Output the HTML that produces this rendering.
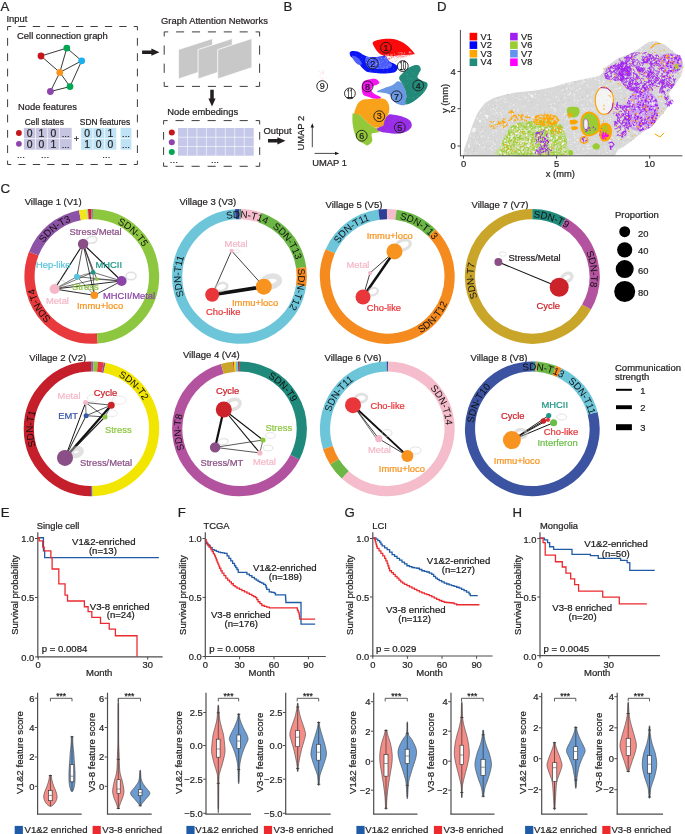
<!DOCTYPE html>
<html><head><meta charset="utf-8"><style>
html,body{margin:0;padding:0;background:#fff;}
svg{display:block;font-family:"Liberation Sans", sans-serif;will-change:transform;}
</style></head><body>
<svg width="685" height="834" viewBox="0 0 685 834">
<rect width="685" height="834" fill="#fff"/>
<text x="0.50" y="10.60" font-size="13.2" fill="#231f20" stroke="#231f20" stroke-width="0.22">A</text>
<text x="6.40" y="22.30" font-size="9.4" fill="#231f20" stroke="#231f20" stroke-width="0.22">Input</text>
<line x1="7.60" y1="26.50" x2="137.40" y2="26.50" stroke="#333" stroke-width="0.95" stroke-dasharray="7.31 7.11" stroke-dashoffset="3.66"/>
<line x1="137.40" y1="26.50" x2="137.40" y2="164.50" stroke="#333" stroke-width="0.95" stroke-dasharray="7.77 7.56" stroke-dashoffset="3.89"/>
<line x1="137.40" y1="164.50" x2="7.60" y2="164.50" stroke="#333" stroke-width="0.95" stroke-dasharray="7.31 7.11" stroke-dashoffset="3.66"/>
<line x1="7.60" y1="164.50" x2="7.60" y2="26.50" stroke="#333" stroke-width="0.95" stroke-dasharray="7.77 7.56" stroke-dashoffset="3.89"/>
<text x="17.10" y="38.50" font-size="9.4" fill="#231f20" stroke="#231f20" stroke-width="0.22">Cell connection graph</text>
<line x1="41.00" y1="56.00" x2="66.80" y2="48.10" stroke="#231f20" stroke-width="0.9"/>
<line x1="41.00" y1="56.00" x2="59.80" y2="72.40" stroke="#231f20" stroke-width="0.9"/>
<line x1="66.80" y1="48.10" x2="59.80" y2="72.40" stroke="#231f20" stroke-width="0.9"/>
<line x1="66.80" y1="48.10" x2="81.70" y2="60.80" stroke="#231f20" stroke-width="0.9"/>
<line x1="81.70" y1="60.80" x2="59.80" y2="72.40" stroke="#231f20" stroke-width="0.9"/>
<line x1="81.70" y1="60.80" x2="70.00" y2="86.60" stroke="#231f20" stroke-width="0.9"/>
<line x1="59.80" y1="72.40" x2="70.00" y2="86.60" stroke="#231f20" stroke-width="0.9"/>
<line x1="59.80" y1="72.40" x2="50.40" y2="91.50" stroke="#231f20" stroke-width="0.9"/>
<line x1="50.40" y1="91.50" x2="70.00" y2="86.60" stroke="#231f20" stroke-width="0.9"/>
<circle cx="41.00" cy="56.00" r="3.40" fill="#c4161c"/>
<circle cx="66.80" cy="48.10" r="3.40" fill="#00a651"/>
<circle cx="81.70" cy="60.80" r="3.40" fill="#1ab0ee"/>
<circle cx="59.80" cy="72.40" r="3.40" fill="#f7941d"/>
<circle cx="70.00" cy="86.60" r="3.40" fill="#00a651"/>
<circle cx="50.40" cy="91.50" r="3.40" fill="#8e44ad"/>
<text x="18.00" y="110.30" font-size="9.4" fill="#231f20" stroke="#231f20" stroke-width="0.22">Node features</text>
<text x="24.80" y="124.50" font-size="8.4" fill="#231f20" stroke="#231f20" stroke-width="0.22">Cell states</text>
<text x="79.80" y="124.50" font-size="8.4" fill="#231f20" stroke="#231f20" stroke-width="0.22">SDN features</text>
<rect x="23.90" y="127.90" width="47.80" height="21.80" fill="#c5c5e2"/>
<line x1="35.50" y1="127.90" x2="35.50" y2="149.70" stroke="#fff" stroke-width="0.7"/>
<line x1="47.30" y1="127.90" x2="47.30" y2="149.70" stroke="#fff" stroke-width="0.7"/>
<line x1="59.35" y1="127.90" x2="59.35" y2="149.70" stroke="#fff" stroke-width="0.7"/>
<line x1="23.90" y1="138.60" x2="71.70" y2="138.60" stroke="#fff" stroke-width="0.7"/>
<rect x="81.20" y="127.90" width="35.10" height="21.80" fill="#bfe3f5"/>
<line x1="92.90" y1="127.90" x2="92.90" y2="149.70" stroke="#fff" stroke-width="0.7"/>
<line x1="104.60" y1="127.90" x2="104.60" y2="149.70" stroke="#fff" stroke-width="0.7"/>
<line x1="81.20" y1="138.60" x2="116.30" y2="138.60" stroke="#fff" stroke-width="0.7"/>
<rect x="120.60" y="127.90" width="10.80" height="21.80" fill="#bfe3f5"/>
<line x1="120.60" y1="138.60" x2="131.40" y2="138.60" stroke="#fff" stroke-width="0.7"/>
<text x="29.70" y="137.00" font-size="10.4" fill="#231f20" stroke="#231f20" stroke-width="0.22" text-anchor="middle">0</text>
<text x="29.70" y="147.90" font-size="10.4" fill="#231f20" stroke="#231f20" stroke-width="0.22" text-anchor="middle">0</text>
<text x="87.05" y="137.00" font-size="10.4" fill="#231f20" stroke="#231f20" stroke-width="0.22" text-anchor="middle">0</text>
<text x="87.05" y="147.90" font-size="10.4" fill="#231f20" stroke="#231f20" stroke-width="0.22" text-anchor="middle">1</text>
<text x="41.40" y="137.00" font-size="10.4" fill="#231f20" stroke="#231f20" stroke-width="0.22" text-anchor="middle">1</text>
<text x="41.40" y="147.90" font-size="10.4" fill="#231f20" stroke="#231f20" stroke-width="0.22" text-anchor="middle">0</text>
<text x="98.75" y="137.00" font-size="10.4" fill="#231f20" stroke="#231f20" stroke-width="0.22" text-anchor="middle">0</text>
<text x="98.75" y="147.90" font-size="10.4" fill="#231f20" stroke="#231f20" stroke-width="0.22" text-anchor="middle">0</text>
<text x="53.30" y="137.00" font-size="10.4" fill="#231f20" stroke="#231f20" stroke-width="0.22" text-anchor="middle">0</text>
<text x="53.30" y="147.90" font-size="10.4" fill="#231f20" stroke="#231f20" stroke-width="0.22" text-anchor="middle">1</text>
<text x="110.45" y="137.00" font-size="10.4" fill="#231f20" stroke="#231f20" stroke-width="0.22" text-anchor="middle">1</text>
<text x="110.45" y="147.90" font-size="10.4" fill="#231f20" stroke="#231f20" stroke-width="0.22" text-anchor="middle">0</text>
<text x="65.70" y="136.90" font-size="9.6" fill="#231f20" stroke="#231f20" stroke-width="0.22" text-anchor="middle">...</text>
<text x="65.70" y="147.80" font-size="9.6" fill="#231f20" stroke="#231f20" stroke-width="0.22" text-anchor="middle">...</text>
<text x="126.00" y="136.90" font-size="9.6" fill="#231f20" stroke="#231f20" stroke-width="0.22" text-anchor="middle">...</text>
<text x="126.00" y="147.80" font-size="9.6" fill="#231f20" stroke="#231f20" stroke-width="0.22" text-anchor="middle">...</text>
<text x="76.40" y="141.80" font-size="9" fill="#231f20" stroke="#231f20" stroke-width="0.22" text-anchor="middle">+</text>
<circle cx="18.90" cy="133.00" r="2.90" fill="#c4161c"/>
<circle cx="18.90" cy="143.80" r="2.90" fill="#8e44ad"/>
<text x="20.90" y="158.00" font-size="9.6" fill="#231f20" stroke="#231f20" stroke-width="0.22" text-anchor="middle">...</text>
<text x="45.10" y="158.00" font-size="9.6" fill="#231f20" stroke="#231f20" stroke-width="0.22" text-anchor="middle">...</text>
<text x="106.30" y="158.00" font-size="9.6" fill="#231f20" stroke="#231f20" stroke-width="0.22" text-anchor="middle">...</text>
<text x="161.00" y="23.90" font-size="9.4" fill="#231f20" stroke="#231f20" stroke-width="0.22">Graph Attention Networks</text>
<line x1="164.20" y1="31.90" x2="259.60" y2="31.90" stroke="#333" stroke-width="0.95" stroke-dasharray="8.06 7.84" stroke-dashoffset="4.03"/>
<line x1="259.60" y1="31.90" x2="259.60" y2="86.40" stroke="#333" stroke-width="0.95" stroke-dasharray="9.21 8.96" stroke-dashoffset="4.61"/>
<line x1="259.60" y1="86.40" x2="164.20" y2="86.40" stroke="#333" stroke-width="0.95" stroke-dasharray="8.06 7.84" stroke-dashoffset="4.03"/>
<line x1="164.20" y1="86.40" x2="164.20" y2="31.90" stroke="#333" stroke-width="0.95" stroke-dasharray="9.21 8.96" stroke-dashoffset="4.61"/>
<path d="M178.40,79.00 L178.40,49.60 L212.60,38.50 L212.60,67.60 Z" fill="#c8c8c8" stroke="#fff" stroke-width="0.8"/>
<path d="M198.05,79.00 L198.05,49.60 L232.25,38.50 L232.25,67.60 Z" fill="#c8c8c8" stroke="#fff" stroke-width="0.8"/>
<path d="M217.70,79.00 L217.70,49.60 L251.90,38.50 L251.90,67.60 Z" fill="#c8c8c8" stroke="#fff" stroke-width="0.8"/>
<path d="M142.10,50.45 L151.40,50.45 L151.40,48.60 L159.50,52.20 L151.40,55.80 L151.40,53.95 L142.10,53.95 Z" fill="#231f20"/>
<path d="M210.25,89.80 L210.25,98.40 L208.40,98.40 L212.00,106.50 L215.60,98.40 L213.75,98.40 L213.75,89.80 Z" fill="#231f20"/>
<text x="167.20" y="114.80" font-size="9.4" fill="#231f20" stroke="#231f20" stroke-width="0.22">Node embedings</text>
<line x1="163.60" y1="120.60" x2="259.70" y2="120.60" stroke="#333" stroke-width="0.95" stroke-dasharray="8.12 7.90" stroke-dashoffset="4.06"/>
<line x1="259.70" y1="120.60" x2="259.70" y2="166.30" stroke="#333" stroke-width="0.95" stroke-dasharray="7.72 7.51" stroke-dashoffset="3.86"/>
<line x1="259.70" y1="166.30" x2="163.60" y2="166.30" stroke="#333" stroke-width="0.95" stroke-dasharray="8.12 7.90" stroke-dashoffset="4.06"/>
<line x1="163.60" y1="166.30" x2="163.60" y2="120.60" stroke="#333" stroke-width="0.95" stroke-dasharray="7.72 7.51" stroke-dashoffset="3.86"/>
<rect x="178.00" y="128.00" width="75.70" height="27.70" fill="#c5c8e8"/>
<line x1="187.46" y1="128.00" x2="187.46" y2="155.70" stroke="#fff" stroke-width="0.6"/>
<line x1="196.93" y1="128.00" x2="196.93" y2="155.70" stroke="#fff" stroke-width="0.6"/>
<line x1="206.39" y1="128.00" x2="206.39" y2="155.70" stroke="#fff" stroke-width="0.6"/>
<line x1="215.85" y1="128.00" x2="215.85" y2="155.70" stroke="#fff" stroke-width="0.6"/>
<line x1="225.31" y1="128.00" x2="225.31" y2="155.70" stroke="#fff" stroke-width="0.6"/>
<line x1="234.77" y1="128.00" x2="234.77" y2="155.70" stroke="#fff" stroke-width="0.6"/>
<line x1="244.24" y1="128.00" x2="244.24" y2="155.70" stroke="#fff" stroke-width="0.6"/>
<line x1="178.00" y1="137.23" x2="253.70" y2="137.23" stroke="#fff" stroke-width="0.6"/>
<line x1="178.00" y1="146.47" x2="253.70" y2="146.47" stroke="#fff" stroke-width="0.6"/>
<circle cx="171.80" cy="132.60" r="3.00" fill="#c4161c"/>
<circle cx="171.80" cy="142.20" r="3.00" fill="#8e44ad"/>
<circle cx="171.80" cy="151.90" r="3.00" fill="#00a651"/>
<text x="173.80" y="162.50" font-size="9.6" fill="#231f20" stroke="#231f20" stroke-width="0.22" text-anchor="middle">...</text>
<text x="215.00" y="162.50" font-size="9.6" fill="#231f20" stroke="#231f20" stroke-width="0.22" text-anchor="middle">...</text>
<text x="263.50" y="134.20" font-size="9.4" fill="#231f20" stroke="#231f20" stroke-width="0.22">Output</text>
<path d="M268.00,139.05 L277.40,139.05 L277.40,137.20 L285.50,140.80 L277.40,144.40 L277.40,142.55 L268.00,142.55 Z" fill="#231f20"/>
<text x="283.60" y="10.60" font-size="13.2" fill="#231f20" stroke="#231f20" stroke-width="0.22">B</text>
<circle cx="387.18" cy="55.21" r="0.35" fill="#f39a9a"/>
<circle cx="392.41" cy="54.58" r="0.35" fill="#f39a9a"/>
<circle cx="390.57" cy="56.93" r="0.35" fill="#f39a9a"/>
<circle cx="382.93" cy="58.06" r="0.35" fill="#f39a9a"/>
<circle cx="382.60" cy="57.47" r="0.35" fill="#f39a9a"/>
<circle cx="383.12" cy="54.73" r="0.35" fill="#f39a9a"/>
<circle cx="388.79" cy="60.61" r="0.35" fill="#f39a9a"/>
<circle cx="383.98" cy="55.79" r="0.35" fill="#f39a9a"/>
<circle cx="392.04" cy="61.58" r="0.35" fill="#f39a9a"/>
<circle cx="391.23" cy="57.17" r="0.35" fill="#f39a9a"/>
<circle cx="397.62" cy="54.37" r="0.35" fill="#f39a9a"/>
<circle cx="395.74" cy="56.32" r="0.35" fill="#f39a9a"/>
<circle cx="384.31" cy="54.94" r="0.35" fill="#f39a9a"/>
<circle cx="386.94" cy="60.53" r="0.35" fill="#f39a9a"/>
<circle cx="384.89" cy="58.65" r="0.35" fill="#f39a9a"/>
<circle cx="392.22" cy="56.98" r="0.35" fill="#f39a9a"/>
<circle cx="390.76" cy="54.50" r="0.35" fill="#f39a9a"/>
<circle cx="382.95" cy="55.65" r="0.35" fill="#f39a9a"/>
<circle cx="392.89" cy="57.42" r="0.35" fill="#f39a9a"/>
<circle cx="387.03" cy="58.68" r="0.35" fill="#f39a9a"/>
<circle cx="389.25" cy="56.40" r="0.35" fill="#f39a9a"/>
<circle cx="394.71" cy="59.59" r="0.35" fill="#f39a9a"/>
<circle cx="385.91" cy="58.60" r="0.35" fill="#f39a9a"/>
<circle cx="390.40" cy="61.00" r="0.35" fill="#f39a9a"/>
<circle cx="393.67" cy="56.30" r="0.35" fill="#f39a9a"/>
<circle cx="397.68" cy="54.94" r="0.35" fill="#f39a9a"/>
<circle cx="388.69" cy="60.06" r="0.35" fill="#f39a9a"/>
<circle cx="384.43" cy="57.91" r="0.35" fill="#f39a9a"/>
<circle cx="382.63" cy="59.35" r="0.35" fill="#f39a9a"/>
<circle cx="394.23" cy="58.58" r="0.35" fill="#f39a9a"/>
<circle cx="396.01" cy="56.51" r="0.35" fill="#f39a9a"/>
<circle cx="393.12" cy="58.75" r="0.35" fill="#f39a9a"/>
<circle cx="391.28" cy="57.65" r="0.35" fill="#f39a9a"/>
<circle cx="395.44" cy="61.56" r="0.35" fill="#f39a9a"/>
<circle cx="389.59" cy="59.31" r="0.35" fill="#f39a9a"/>
<circle cx="382.97" cy="59.61" r="0.35" fill="#f39a9a"/>
<circle cx="392.35" cy="61.94" r="0.35" fill="#f39a9a"/>
<circle cx="395.15" cy="56.28" r="0.35" fill="#f39a9a"/>
<circle cx="388.17" cy="59.35" r="0.35" fill="#f39a9a"/>
<circle cx="382.36" cy="57.69" r="0.35" fill="#f39a9a"/>
<circle cx="384.69" cy="54.94" r="0.35" fill="#f39a9a"/>
<circle cx="382.94" cy="60.15" r="0.35" fill="#f39a9a"/>
<circle cx="384.07" cy="55.98" r="0.35" fill="#f39a9a"/>
<circle cx="388.26" cy="60.97" r="0.35" fill="#f39a9a"/>
<circle cx="383.29" cy="57.59" r="0.35" fill="#f39a9a"/>
<circle cx="390.79" cy="61.07" r="0.35" fill="#f39a9a"/>
<circle cx="395.11" cy="60.91" r="0.35" fill="#f39a9a"/>
<circle cx="386.45" cy="57.32" r="0.35" fill="#f39a9a"/>
<circle cx="387.74" cy="61.07" r="0.35" fill="#f39a9a"/>
<circle cx="397.32" cy="55.21" r="0.35" fill="#f39a9a"/>
<circle cx="384.82" cy="55.86" r="0.35" fill="#f39a9a"/>
<circle cx="385.73" cy="57.88" r="0.35" fill="#f39a9a"/>
<circle cx="391.43" cy="56.10" r="0.35" fill="#f39a9a"/>
<circle cx="382.07" cy="57.35" r="0.35" fill="#f39a9a"/>
<circle cx="387.91" cy="58.53" r="0.35" fill="#f39a9a"/>
<circle cx="397.25" cy="59.52" r="0.35" fill="#f39a9a"/>
<circle cx="390.25" cy="58.94" r="0.35" fill="#f39a9a"/>
<circle cx="392.82" cy="54.43" r="0.35" fill="#f39a9a"/>
<circle cx="396.39" cy="60.24" r="0.35" fill="#f39a9a"/>
<circle cx="395.99" cy="60.38" r="0.35" fill="#f39a9a"/>
<circle cx="319.77" cy="71.45" r="0.30" fill="#f5b5c5"/>
<circle cx="322.89" cy="78.88" r="0.30" fill="#f5b5c5"/>
<circle cx="322.26" cy="72.92" r="0.30" fill="#f5b5c5"/>
<circle cx="321.81" cy="72.27" r="0.30" fill="#f5b5c5"/>
<circle cx="321.11" cy="70.00" r="0.30" fill="#f5b5c5"/>
<circle cx="322.11" cy="72.12" r="0.30" fill="#f5b5c5"/>
<circle cx="323.18" cy="70.36" r="0.30" fill="#f5b5c5"/>
<circle cx="322.74" cy="82.24" r="0.30" fill="#f5b5c5"/>
<circle cx="320.56" cy="73.53" r="0.30" fill="#f5b5c5"/>
<circle cx="320.68" cy="74.86" r="0.30" fill="#f5b5c5"/>
<circle cx="320.76" cy="81.89" r="0.30" fill="#f5b5c5"/>
<circle cx="322.35" cy="83.90" r="0.30" fill="#f5b5c5"/>
<circle cx="319.03" cy="71.20" r="0.30" fill="#f5b5c5"/>
<circle cx="322.04" cy="71.43" r="0.30" fill="#f5b5c5"/>
<circle cx="320.55" cy="81.60" r="0.30" fill="#f5b5c5"/>
<circle cx="322.94" cy="72.26" r="0.30" fill="#f5b5c5"/>
<circle cx="326.85" cy="77.40" r="0.30" fill="#f5b5c5"/>
<circle cx="322.28" cy="72.05" r="0.30" fill="#f5b5c5"/>
<circle cx="321.00" cy="77.39" r="0.30" fill="#f5b5c5"/>
<circle cx="321.36" cy="83.70" r="0.30" fill="#f5b5c5"/>
<circle cx="323.72" cy="73.66" r="0.30" fill="#f5b5c5"/>
<circle cx="318.93" cy="75.13" r="0.30" fill="#f5b5c5"/>
<circle cx="323.38" cy="77.46" r="0.30" fill="#f5b5c5"/>
<circle cx="324.78" cy="80.91" r="0.30" fill="#f5b5c5"/>
<circle cx="320.75" cy="81.36" r="0.30" fill="#f5b5c5"/>
<circle cx="322.87" cy="83.79" r="0.30" fill="#f5b5c5"/>
<circle cx="323.90" cy="81.46" r="0.30" fill="#f5b5c5"/>
<circle cx="318.32" cy="80.36" r="0.30" fill="#f5b5c5"/>
<circle cx="321.89" cy="74.98" r="0.30" fill="#f5b5c5"/>
<circle cx="324.13" cy="70.41" r="0.30" fill="#f5b5c5"/>
<circle cx="323.25" cy="73.63" r="0.30" fill="#f5b5c5"/>
<circle cx="321.81" cy="79.70" r="0.30" fill="#f5b5c5"/>
<circle cx="323.81" cy="83.12" r="0.30" fill="#f5b5c5"/>
<circle cx="320.85" cy="83.83" r="0.30" fill="#f5b5c5"/>
<circle cx="323.51" cy="73.09" r="0.30" fill="#f5b5c5"/>
<circle cx="320.92" cy="73.18" r="0.30" fill="#f5b5c5"/>
<circle cx="321.99" cy="78.74" r="0.30" fill="#f5b5c5"/>
<circle cx="322.91" cy="82.60" r="0.30" fill="#f5b5c5"/>
<circle cx="322.85" cy="79.14" r="0.30" fill="#f5b5c5"/>
<circle cx="319.38" cy="81.20" r="0.30" fill="#f5b5c5"/>
<path d="M349.90,52.30 C350.33,51.42 351.68,51.10 353.10,51.00 C354.52,50.90 356.65,51.03 358.40,51.70 C360.15,52.37 361.85,54.13 363.60,55.00 C365.35,55.87 366.70,56.58 368.90,56.90 C371.10,57.22 374.62,57.00 376.80,56.90 C378.98,56.80 380.58,56.52 382.00,56.30 C383.42,56.08 384.20,54.83 385.30,55.60 C386.40,56.37 387.17,59.58 388.60,60.90 C390.03,62.22 392.37,62.52 393.90,63.50 C395.43,64.48 397.37,65.60 397.80,66.80 C398.23,68.00 397.37,69.72 396.50,70.70 C395.63,71.68 394.78,72.25 392.60,72.70 C390.42,73.15 386.70,73.40 383.40,73.40 C380.10,73.40 375.65,73.03 372.80,72.70 C369.95,72.37 368.05,72.17 366.30,71.40 C364.55,70.63 363.40,69.20 362.30,68.10 C361.20,67.00 361.00,66.22 359.70,64.80 C358.40,63.38 356.03,61.02 354.50,59.60 C352.97,58.18 351.27,57.52 350.50,56.30 C349.73,55.08 349.47,53.18 349.90,52.30 Z" fill="#0a14f5"/>
<path d="M372.60,43.10 C372.70,41.68 374.30,41.20 376.10,40.50 C377.90,39.80 380.65,39.17 383.40,38.90 C386.15,38.63 389.77,38.52 392.60,38.90 C395.43,39.28 397.78,39.95 400.40,41.20 C403.02,42.45 406.00,44.43 408.30,46.40 C410.60,48.37 413.32,51.68 414.20,53.00 C415.08,54.32 415.02,53.97 413.60,54.30 C412.18,54.63 408.33,54.78 405.70,55.00 C403.07,55.22 400.22,55.38 397.80,55.60 C395.38,55.82 393.17,56.30 391.20,56.30 C389.23,56.30 387.53,55.82 386.00,55.60 C384.47,55.38 383.20,55.43 382.00,55.00 C380.80,54.57 379.88,54.00 378.80,53.00 C377.72,52.00 376.53,50.65 375.50,49.00 C374.47,47.35 372.50,44.52 372.60,43.10 Z" fill="#fa0a0a"/>
<path d="M353.10,113.40 C354.30,113.18 357.93,113.83 359.70,114.70 C361.47,115.57 362.38,117.28 363.70,118.60 C365.02,119.92 366.08,121.28 367.60,122.60 C369.12,123.92 371.05,125.42 372.80,126.50 C374.55,127.58 377.00,128.22 378.10,129.10 C379.20,129.98 380.05,131.13 379.40,131.80 C378.75,132.47 375.52,132.67 374.20,133.10 C372.88,133.53 371.83,133.08 371.50,134.40 C371.17,135.72 372.85,139.15 372.20,141.00 C371.55,142.85 369.02,145.07 367.60,145.50 C366.18,145.93 365.23,144.47 363.70,143.60 C362.17,142.73 359.93,142.05 358.40,140.30 C356.87,138.55 355.48,136.05 354.50,133.10 C353.52,130.15 352.83,125.45 352.50,122.60 C352.17,119.75 352.40,117.53 352.50,116.00 C352.60,114.47 351.90,113.62 353.10,113.40 Z" fill="#93c83a"/>
<path d="M355.80,108.10 C356.45,106.33 357.08,104.22 358.40,102.80 C359.72,101.38 361.52,100.25 363.70,99.60 C365.88,98.95 368.88,99.13 371.50,98.90 C374.12,98.67 377.10,98.08 379.40,98.20 C381.70,98.32 383.77,98.60 385.30,99.60 C386.83,100.60 387.93,102.57 388.60,104.20 C389.27,105.83 389.40,107.65 389.30,109.40 C389.20,111.15 388.67,112.95 388.00,114.70 C387.33,116.45 386.07,118.15 385.30,119.90 C384.53,121.65 384.60,123.88 383.40,125.20 C382.20,126.52 379.87,127.58 378.10,127.80 C376.33,128.02 374.55,127.37 372.80,126.50 C371.05,125.63 369.12,123.92 367.60,122.60 C366.08,121.28 365.02,119.92 363.70,118.60 C362.38,117.28 361.23,115.57 359.70,114.70 C358.17,113.83 355.15,114.50 354.50,113.40 C353.85,112.30 355.15,109.87 355.80,108.10 Z" fill="#f8a21a"/>
<path d="M384.70,119.90 C385.57,118.15 387.07,115.57 388.60,114.70 C390.13,113.83 391.93,114.48 393.90,114.70 C395.87,114.92 398.22,115.35 400.40,116.00 C402.58,116.65 405.25,117.62 407.00,118.60 C408.75,119.58 410.13,120.58 410.90,121.90 C411.67,123.22 412.03,125.08 411.60,126.50 C411.17,127.92 409.93,129.30 408.30,130.40 C406.67,131.50 403.98,132.55 401.80,133.10 C399.62,133.65 397.40,133.70 395.20,133.70 C393.00,133.70 391.02,133.42 388.60,133.10 C386.18,132.78 382.67,132.47 380.70,131.80 C378.73,131.13 377.02,129.87 376.80,129.10 C376.58,128.33 378.30,127.85 379.40,127.20 C380.50,126.55 382.52,126.42 383.40,125.20 C384.28,123.98 383.83,121.65 384.70,119.90 Z" fill="#9a2ee8"/>
<path d="M363.70,81.20 C365.02,80.32 368.13,79.53 370.20,79.20 C372.27,78.87 374.57,78.65 376.10,79.20 C377.63,79.75 379.18,81.62 379.40,82.50 C379.62,83.38 378.50,83.85 377.40,84.50 C376.30,85.15 373.78,85.42 372.80,86.40 C371.82,87.38 371.27,89.18 371.50,90.40 C371.73,91.62 372.88,92.72 374.20,93.70 C375.52,94.68 378.32,95.55 379.40,96.30 C380.48,97.05 381.57,97.82 380.70,98.20 C379.83,98.58 376.17,98.82 374.20,98.60 C372.23,98.38 370.65,97.50 368.90,96.90 C367.15,96.30 364.90,96.20 363.70,95.00 C362.50,93.80 361.93,91.45 361.70,89.70 C361.47,87.95 361.97,85.92 362.30,84.50 C362.63,83.08 362.38,82.08 363.70,81.20 Z" fill="#f514f0"/>
<path d="M377.40,91.00 C378.28,90.35 380.87,89.38 383.40,88.40 C385.93,87.42 390.20,86.30 392.60,85.10 C395.00,83.90 396.27,81.53 397.80,81.20 C399.33,80.87 400.60,81.68 401.80,83.10 C403.00,84.52 404.23,87.50 405.00,89.70 C405.77,91.90 406.28,93.88 406.40,96.30 C406.52,98.72 406.47,102.72 405.70,104.20 C404.93,105.68 403.33,105.32 401.80,105.20 C400.27,105.08 398.03,104.33 396.50,103.50 C394.97,102.67 393.70,101.62 392.60,100.20 C391.50,98.78 391.22,96.20 389.90,95.00 C388.58,93.80 386.67,93.45 384.70,93.00 C382.73,92.55 379.32,92.63 378.10,92.30 C376.88,91.97 376.52,91.65 377.40,91.00 Z" fill="#6b98e4"/>
<path d="M401.80,73.90 C403.33,72.27 406.33,69.50 408.30,68.10 C410.27,66.70 411.85,65.93 413.60,65.50 C415.35,65.07 417.60,64.85 418.80,65.50 C420.00,66.15 420.80,68.08 420.80,69.40 C420.80,70.72 419.35,72.08 418.80,73.40 C418.25,74.72 417.05,76.10 417.50,77.30 C417.95,78.50 419.97,79.72 421.50,80.60 C423.03,81.48 425.72,81.62 426.70,82.60 C427.68,83.58 427.83,84.88 427.40,86.50 C426.97,88.12 425.53,90.45 424.10,92.30 C422.67,94.15 420.77,95.95 418.80,97.60 C416.83,99.25 414.48,101.10 412.30,102.20 C410.12,103.30 406.68,105.18 405.70,104.20 C404.72,103.22 406.52,98.72 406.40,96.30 C406.28,93.88 405.77,91.90 405.00,89.70 C404.23,87.50 402.78,85.07 401.80,83.10 C400.82,81.13 399.10,79.43 399.10,77.90 C399.10,76.37 400.27,75.53 401.80,73.90 Z" fill="#238a7a"/>
<circle cx="393.48" cy="68.52" r="0.35" fill="#8a8cff" opacity="0.6"/>
<circle cx="385.83" cy="61.71" r="0.35" fill="#8a8cff" opacity="0.6"/>
<circle cx="365.83" cy="68.94" r="0.35" fill="#8a8cff" opacity="0.6"/>
<circle cx="355.99" cy="54.39" r="0.35" fill="#8a8cff" opacity="0.6"/>
<circle cx="393.24" cy="69.07" r="0.35" fill="#8a8cff" opacity="0.6"/>
<circle cx="366.68" cy="63.29" r="0.35" fill="#8a8cff" opacity="0.6"/>
<circle cx="375.12" cy="71.91" r="0.35" fill="#8a8cff" opacity="0.6"/>
<circle cx="370.68" cy="70.53" r="0.35" fill="#8a8cff" opacity="0.6"/>
<circle cx="361.96" cy="57.56" r="0.35" fill="#8a8cff" opacity="0.6"/>
<circle cx="361.42" cy="64.14" r="0.35" fill="#8a8cff" opacity="0.6"/>
<circle cx="362.32" cy="60.39" r="0.35" fill="#8a8cff" opacity="0.6"/>
<circle cx="366.85" cy="61.26" r="0.35" fill="#8a8cff" opacity="0.6"/>
<circle cx="377.84" cy="71.26" r="0.35" fill="#8a8cff" opacity="0.6"/>
<circle cx="370.05" cy="71.56" r="0.35" fill="#8a8cff" opacity="0.6"/>
<circle cx="373.93" cy="62.91" r="0.35" fill="#8a8cff" opacity="0.6"/>
<circle cx="358.16" cy="61.61" r="0.35" fill="#8a8cff" opacity="0.6"/>
<circle cx="384.64" cy="63.47" r="0.35" fill="#8a8cff" opacity="0.6"/>
<circle cx="365.51" cy="62.61" r="0.35" fill="#8a8cff" opacity="0.6"/>
<circle cx="376.51" cy="68.57" r="0.35" fill="#8a8cff" opacity="0.6"/>
<circle cx="361.80" cy="57.20" r="0.35" fill="#8a8cff" opacity="0.6"/>
<circle cx="386.89" cy="62.37" r="0.35" fill="#8a8cff" opacity="0.6"/>
<circle cx="376.81" cy="68.02" r="0.35" fill="#8a8cff" opacity="0.6"/>
<circle cx="379.24" cy="62.32" r="0.35" fill="#8a8cff" opacity="0.6"/>
<circle cx="374.43" cy="66.52" r="0.35" fill="#8a8cff" opacity="0.6"/>
<circle cx="371.57" cy="62.95" r="0.35" fill="#8a8cff" opacity="0.6"/>
<circle cx="372.80" cy="72.09" r="0.35" fill="#8a8cff" opacity="0.6"/>
<circle cx="383.39" cy="70.63" r="0.35" fill="#8a8cff" opacity="0.6"/>
<circle cx="376.70" cy="72.13" r="0.35" fill="#8a8cff" opacity="0.6"/>
<circle cx="353.37" cy="56.39" r="0.35" fill="#8a8cff" opacity="0.6"/>
<circle cx="387.45" cy="71.09" r="0.35" fill="#8a8cff" opacity="0.6"/>
<circle cx="392.19" cy="72.67" r="0.35" fill="#8a8cff" opacity="0.6"/>
<circle cx="368.98" cy="61.91" r="0.35" fill="#8a8cff" opacity="0.6"/>
<circle cx="357.63" cy="60.67" r="0.35" fill="#8a8cff" opacity="0.6"/>
<circle cx="374.60" cy="58.60" r="0.35" fill="#8a8cff" opacity="0.6"/>
<circle cx="359.28" cy="58.13" r="0.35" fill="#8a8cff" opacity="0.6"/>
<circle cx="376.44" cy="60.87" r="0.35" fill="#8a8cff" opacity="0.6"/>
<circle cx="379.79" cy="62.47" r="0.35" fill="#8a8cff" opacity="0.6"/>
<circle cx="387.66" cy="72.77" r="0.35" fill="#8a8cff" opacity="0.6"/>
<circle cx="354.92" cy="56.95" r="0.35" fill="#8a8cff" opacity="0.6"/>
<circle cx="370.13" cy="71.42" r="0.35" fill="#8a8cff" opacity="0.6"/>
<circle cx="415.25" cy="92.61" r="0.35" fill="#9fd0c6" opacity="0.6"/>
<circle cx="418.58" cy="81.96" r="0.35" fill="#9fd0c6" opacity="0.6"/>
<circle cx="417.05" cy="96.52" r="0.35" fill="#9fd0c6" opacity="0.6"/>
<circle cx="411.94" cy="78.63" r="0.35" fill="#9fd0c6" opacity="0.6"/>
<circle cx="406.68" cy="70.50" r="0.35" fill="#9fd0c6" opacity="0.6"/>
<circle cx="414.01" cy="74.73" r="0.35" fill="#9fd0c6" opacity="0.6"/>
<circle cx="407.93" cy="77.30" r="0.35" fill="#9fd0c6" opacity="0.6"/>
<circle cx="413.25" cy="72.38" r="0.35" fill="#9fd0c6" opacity="0.6"/>
<circle cx="419.85" cy="86.83" r="0.35" fill="#9fd0c6" opacity="0.6"/>
<circle cx="404.46" cy="83.87" r="0.35" fill="#9fd0c6" opacity="0.6"/>
<circle cx="422.28" cy="82.23" r="0.35" fill="#9fd0c6" opacity="0.6"/>
<circle cx="413.11" cy="97.80" r="0.35" fill="#9fd0c6" opacity="0.6"/>
<circle cx="410.22" cy="85.11" r="0.35" fill="#9fd0c6" opacity="0.6"/>
<circle cx="408.80" cy="97.71" r="0.35" fill="#9fd0c6" opacity="0.6"/>
<circle cx="419.10" cy="90.11" r="0.35" fill="#9fd0c6" opacity="0.6"/>
<circle cx="410.55" cy="78.95" r="0.35" fill="#9fd0c6" opacity="0.6"/>
<circle cx="406.33" cy="71.82" r="0.35" fill="#9fd0c6" opacity="0.6"/>
<circle cx="423.74" cy="91.45" r="0.35" fill="#9fd0c6" opacity="0.6"/>
<circle cx="407.08" cy="74.87" r="0.35" fill="#9fd0c6" opacity="0.6"/>
<circle cx="407.39" cy="83.28" r="0.35" fill="#9fd0c6" opacity="0.6"/>
<circle cx="403.56" cy="82.75" r="0.35" fill="#9fd0c6" opacity="0.6"/>
<circle cx="406.55" cy="102.72" r="0.35" fill="#9fd0c6" opacity="0.6"/>
<circle cx="426.63" cy="86.67" r="0.35" fill="#9fd0c6" opacity="0.6"/>
<circle cx="406.02" cy="102.87" r="0.35" fill="#9fd0c6" opacity="0.6"/>
<circle cx="407.86" cy="79.30" r="0.35" fill="#9fd0c6" opacity="0.6"/>
<circle cx="412.53" cy="84.96" r="0.35" fill="#9fd0c6" opacity="0.6"/>
<circle cx="404.79" cy="85.03" r="0.35" fill="#9fd0c6" opacity="0.6"/>
<circle cx="401.64" cy="80.96" r="0.35" fill="#9fd0c6" opacity="0.6"/>
<circle cx="407.71" cy="74.51" r="0.35" fill="#9fd0c6" opacity="0.6"/>
<circle cx="415.67" cy="85.98" r="0.35" fill="#9fd0c6" opacity="0.6"/>
<circle cx="420.34" cy="90.95" r="0.35" fill="#9fd0c6" opacity="0.6"/>
<circle cx="410.12" cy="78.12" r="0.35" fill="#9fd0c6" opacity="0.6"/>
<circle cx="419.59" cy="90.39" r="0.35" fill="#9fd0c6" opacity="0.6"/>
<circle cx="424.34" cy="89.78" r="0.35" fill="#9fd0c6" opacity="0.6"/>
<circle cx="413.37" cy="97.81" r="0.35" fill="#9fd0c6" opacity="0.6"/>
<circle cx="374.83" cy="124.63" r="0.35" fill="#f0c070" opacity="0.6"/>
<circle cx="378.26" cy="118.72" r="0.35" fill="#f0c070" opacity="0.6"/>
<circle cx="359.13" cy="108.88" r="0.35" fill="#f0c070" opacity="0.6"/>
<circle cx="373.94" cy="116.78" r="0.35" fill="#f0c070" opacity="0.6"/>
<circle cx="376.29" cy="118.35" r="0.35" fill="#f0c070" opacity="0.6"/>
<circle cx="382.26" cy="120.35" r="0.35" fill="#f0c070" opacity="0.6"/>
<circle cx="372.00" cy="114.04" r="0.35" fill="#f0c070" opacity="0.6"/>
<circle cx="377.44" cy="100.16" r="0.35" fill="#f0c070" opacity="0.6"/>
<circle cx="380.14" cy="105.66" r="0.35" fill="#f0c070" opacity="0.6"/>
<circle cx="357.09" cy="106.06" r="0.35" fill="#f0c070" opacity="0.6"/>
<circle cx="379.88" cy="104.27" r="0.35" fill="#f0c070" opacity="0.6"/>
<circle cx="371.69" cy="109.52" r="0.35" fill="#f0c070" opacity="0.6"/>
<circle cx="371.17" cy="118.44" r="0.35" fill="#f0c070" opacity="0.6"/>
<circle cx="381.19" cy="116.46" r="0.35" fill="#f0c070" opacity="0.6"/>
<circle cx="376.87" cy="100.49" r="0.35" fill="#f0c070" opacity="0.6"/>
<circle cx="359.63" cy="105.72" r="0.35" fill="#f0c070" opacity="0.6"/>
<circle cx="380.36" cy="107.21" r="0.35" fill="#f0c070" opacity="0.6"/>
<circle cx="377.89" cy="118.69" r="0.35" fill="#f0c070" opacity="0.6"/>
<circle cx="378.01" cy="106.81" r="0.35" fill="#f0c070" opacity="0.6"/>
<circle cx="372.48" cy="111.95" r="0.35" fill="#f0c070" opacity="0.6"/>
<circle cx="370.73" cy="101.71" r="0.35" fill="#f0c070" opacity="0.6"/>
<circle cx="385.60" cy="104.10" r="0.35" fill="#f0c070" opacity="0.6"/>
<circle cx="355.11" cy="111.79" r="0.35" fill="#f0c070" opacity="0.6"/>
<circle cx="370.14" cy="106.15" r="0.35" fill="#f0c070" opacity="0.6"/>
<circle cx="361.83" cy="115.41" r="0.35" fill="#f0c070" opacity="0.6"/>
<circle cx="359.43" cy="113.71" r="0.35" fill="#f0c070" opacity="0.6"/>
<circle cx="383.04" cy="113.26" r="0.35" fill="#f0c070" opacity="0.6"/>
<circle cx="385.36" cy="119.02" r="0.35" fill="#f0c070" opacity="0.6"/>
<circle cx="371.42" cy="98.94" r="0.35" fill="#f0c070" opacity="0.6"/>
<circle cx="392.49" cy="120.44" r="0.35" fill="#c08af0" opacity="0.6"/>
<circle cx="387.80" cy="130.66" r="0.35" fill="#c08af0" opacity="0.6"/>
<circle cx="409.04" cy="128.25" r="0.35" fill="#c08af0" opacity="0.6"/>
<circle cx="408.17" cy="120.21" r="0.35" fill="#c08af0" opacity="0.6"/>
<circle cx="389.75" cy="122.17" r="0.35" fill="#c08af0" opacity="0.6"/>
<circle cx="389.35" cy="122.83" r="0.35" fill="#c08af0" opacity="0.6"/>
<circle cx="380.34" cy="130.56" r="0.35" fill="#c08af0" opacity="0.6"/>
<circle cx="386.74" cy="132.48" r="0.35" fill="#c08af0" opacity="0.6"/>
<circle cx="385.48" cy="119.75" r="0.35" fill="#c08af0" opacity="0.6"/>
<circle cx="394.58" cy="118.31" r="0.35" fill="#c08af0" opacity="0.6"/>
<circle cx="389.79" cy="132.87" r="0.35" fill="#c08af0" opacity="0.6"/>
<circle cx="407.57" cy="130.13" r="0.35" fill="#c08af0" opacity="0.6"/>
<circle cx="398.76" cy="132.06" r="0.35" fill="#c08af0" opacity="0.6"/>
<circle cx="409.54" cy="125.14" r="0.35" fill="#c08af0" opacity="0.6"/>
<circle cx="402.29" cy="123.27" r="0.35" fill="#c08af0" opacity="0.6"/>
<circle cx="402.99" cy="126.95" r="0.35" fill="#c08af0" opacity="0.6"/>
<circle cx="393.23" cy="121.23" r="0.35" fill="#c08af0" opacity="0.6"/>
<circle cx="387.16" cy="128.74" r="0.35" fill="#c08af0" opacity="0.6"/>
<circle cx="399.63" cy="120.42" r="0.35" fill="#c08af0" opacity="0.6"/>
<circle cx="396.19" cy="122.19" r="0.35" fill="#c08af0" opacity="0.6"/>
<path d="M366.00,57.50 C367.50,56.42 372.17,57.67 375.00,57.50 C377.83,57.33 381.17,56.58 383.00,56.50 C384.83,56.42 385.00,56.17 386.00,57.00 C387.00,57.83 388.00,60.25 389.00,61.50 C390.00,62.75 391.83,63.42 392.00,64.50 C392.17,65.58 392.00,67.25 390.00,68.00 C388.00,68.75 383.33,68.92 380.00,69.00 C376.67,69.08 372.33,69.33 370.00,68.50 C367.67,67.67 366.67,65.83 366.00,64.00 C365.33,62.17 364.50,58.58 366.00,57.50 Z" fill="#4a5cfb"/>
<circle cx="369.52" cy="58.10" r="0.45" fill="#9aa4ff"/>
<circle cx="378.52" cy="66.55" r="0.45" fill="#2030ff"/>
<circle cx="370.94" cy="67.78" r="0.45" fill="#c0c6ff"/>
<circle cx="376.54" cy="63.12" r="0.45" fill="#9aa4ff"/>
<circle cx="367.45" cy="60.45" r="0.45" fill="#9aa4ff"/>
<circle cx="373.62" cy="60.79" r="0.45" fill="#2030ff"/>
<circle cx="388.51" cy="60.98" r="0.45" fill="#2030ff"/>
<circle cx="379.15" cy="60.90" r="0.45" fill="#c0c6ff"/>
<circle cx="385.31" cy="62.48" r="0.45" fill="#2030ff"/>
<circle cx="378.59" cy="64.19" r="0.45" fill="#9aa4ff"/>
<circle cx="375.38" cy="64.40" r="0.45" fill="#c0c6ff"/>
<circle cx="389.18" cy="62.15" r="0.45" fill="#2030ff"/>
<circle cx="379.25" cy="62.09" r="0.45" fill="#c0c6ff"/>
<circle cx="369.17" cy="62.79" r="0.45" fill="#2030ff"/>
<circle cx="383.93" cy="67.00" r="0.45" fill="#c0c6ff"/>
<circle cx="384.31" cy="68.51" r="0.45" fill="#2030ff"/>
<circle cx="371.80" cy="64.27" r="0.45" fill="#2030ff"/>
<circle cx="385.62" cy="57.29" r="0.45" fill="#c0c6ff"/>
<circle cx="379.16" cy="63.58" r="0.45" fill="#c0c6ff"/>
<circle cx="372.04" cy="66.28" r="0.45" fill="#9aa4ff"/>
<circle cx="377.44" cy="68.47" r="0.45" fill="#2030ff"/>
<circle cx="379.21" cy="63.11" r="0.45" fill="#9aa4ff"/>
<circle cx="390.94" cy="65.16" r="0.45" fill="#c0c6ff"/>
<circle cx="366.49" cy="58.52" r="0.45" fill="#2030ff"/>
<circle cx="382.47" cy="57.05" r="0.45" fill="#9aa4ff"/>
<circle cx="383.02" cy="68.03" r="0.45" fill="#9aa4ff"/>
<circle cx="378.31" cy="65.05" r="0.45" fill="#2030ff"/>
<circle cx="376.36" cy="64.87" r="0.45" fill="#9aa4ff"/>
<circle cx="378.38" cy="58.61" r="0.45" fill="#9aa4ff"/>
<circle cx="371.23" cy="58.88" r="0.45" fill="#c0c6ff"/>
<circle cx="367.94" cy="64.11" r="0.45" fill="#2030ff"/>
<circle cx="370.06" cy="58.90" r="0.45" fill="#c0c6ff"/>
<circle cx="381.06" cy="67.99" r="0.45" fill="#9aa4ff"/>
<circle cx="366.62" cy="61.11" r="0.45" fill="#2030ff"/>
<circle cx="388.86" cy="65.53" r="0.45" fill="#9aa4ff"/>
<circle cx="370.01" cy="68.17" r="0.45" fill="#2030ff"/>
<circle cx="377.63" cy="60.05" r="0.45" fill="#2030ff"/>
<circle cx="375.22" cy="60.86" r="0.45" fill="#c0c6ff"/>
<circle cx="376.95" cy="57.42" r="0.45" fill="#9aa4ff"/>
<circle cx="372.55" cy="60.57" r="0.45" fill="#9aa4ff"/>
<circle cx="380.15" cy="65.86" r="0.45" fill="#c0c6ff"/>
<circle cx="374.63" cy="66.68" r="0.45" fill="#c0c6ff"/>
<circle cx="367.37" cy="65.17" r="0.45" fill="#9aa4ff"/>
<circle cx="375.06" cy="67.95" r="0.45" fill="#9aa4ff"/>
<circle cx="373.73" cy="65.59" r="0.45" fill="#c0c6ff"/>
<circle cx="386.92" cy="65.97" r="0.45" fill="#9aa4ff"/>
<circle cx="375.14" cy="62.03" r="0.45" fill="#9aa4ff"/>
<circle cx="371.94" cy="65.71" r="0.45" fill="#2030ff"/>
<circle cx="374.15" cy="59.54" r="0.45" fill="#2030ff"/>
<circle cx="383.62" cy="68.01" r="0.45" fill="#c0c6ff"/>
<circle cx="389.74" cy="64.24" r="0.45" fill="#9aa4ff"/>
<circle cx="377.83" cy="68.44" r="0.45" fill="#c0c6ff"/>
<circle cx="386.32" cy="67.88" r="0.45" fill="#c0c6ff"/>
<circle cx="368.58" cy="62.46" r="0.45" fill="#9aa4ff"/>
<circle cx="386.67" cy="65.60" r="0.45" fill="#2030ff"/>
<circle cx="385.87" cy="63.89" r="0.45" fill="#c0c6ff"/>
<circle cx="388.25" cy="61.99" r="0.45" fill="#2030ff"/>
<circle cx="367.13" cy="58.57" r="0.45" fill="#9aa4ff"/>
<circle cx="367.60" cy="62.48" r="0.45" fill="#2030ff"/>
<circle cx="368.59" cy="61.99" r="0.45" fill="#2030ff"/>
<circle cx="371.34" cy="63.00" r="0.45" fill="#2030ff"/>
<circle cx="385.51" cy="66.14" r="0.45" fill="#c0c6ff"/>
<circle cx="372.93" cy="63.37" r="0.45" fill="#c0c6ff"/>
<circle cx="371.86" cy="59.38" r="0.45" fill="#c0c6ff"/>
<circle cx="371.68" cy="59.19" r="0.45" fill="#9aa4ff"/>
<circle cx="372.60" cy="67.80" r="0.45" fill="#9aa4ff"/>
<circle cx="373.81" cy="61.15" r="0.45" fill="#9aa4ff"/>
<circle cx="378.70" cy="59.01" r="0.45" fill="#9aa4ff"/>
<circle cx="367.76" cy="62.17" r="0.45" fill="#9aa4ff"/>
<circle cx="387.70" cy="67.89" r="0.45" fill="#9aa4ff"/>
<circle cx="366.36" cy="63.81" r="0.45" fill="#2030ff"/>
<circle cx="378.84" cy="58.31" r="0.45" fill="#2030ff"/>
<circle cx="372.02" cy="66.11" r="0.45" fill="#9aa4ff"/>
<circle cx="367.86" cy="63.75" r="0.45" fill="#2030ff"/>
<circle cx="384.77" cy="67.88" r="0.45" fill="#9aa4ff"/>
<circle cx="387.11" cy="61.32" r="0.45" fill="#c0c6ff"/>
<circle cx="370.00" cy="60.06" r="0.45" fill="#9aa4ff"/>
<circle cx="378.05" cy="61.31" r="0.45" fill="#c0c6ff"/>
<circle cx="382.93" cy="58.01" r="0.45" fill="#2030ff"/>
<circle cx="367.46" cy="58.13" r="0.45" fill="#2030ff"/>
<circle cx="383.03" cy="61.43" r="0.45" fill="#9aa4ff"/>
<circle cx="373.43" cy="63.36" r="0.45" fill="#c0c6ff"/>
<circle cx="385.70" cy="66.43" r="0.45" fill="#2030ff"/>
<circle cx="370.32" cy="65.46" r="0.45" fill="#9aa4ff"/>
<circle cx="367.44" cy="63.51" r="0.45" fill="#c0c6ff"/>
<circle cx="377.44" cy="58.11" r="0.45" fill="#9aa4ff"/>
<circle cx="366.40" cy="57.85" r="0.45" fill="#c0c6ff"/>
<circle cx="367.40" cy="64.09" r="0.45" fill="#c0c6ff"/>
<circle cx="384.91" cy="58.23" r="0.45" fill="#c0c6ff"/>
<circle cx="372.65" cy="62.78" r="0.45" fill="#9aa4ff"/>
<circle cx="367.94" cy="62.38" r="0.45" fill="#9aa4ff"/>
<circle cx="373.14" cy="66.88" r="0.45" fill="#9aa4ff"/>
<circle cx="375.47" cy="67.75" r="0.45" fill="#2030ff"/>
<circle cx="383.58" cy="67.58" r="0.45" fill="#2030ff"/>
<circle cx="386.22" cy="58.89" r="0.45" fill="#c0c6ff"/>
<circle cx="381.60" cy="58.55" r="0.45" fill="#c0c6ff"/>
<circle cx="369.94" cy="58.84" r="0.45" fill="#c0c6ff"/>
<circle cx="374.70" cy="57.94" r="0.45" fill="#2030ff"/>
<circle cx="388.86" cy="66.95" r="0.45" fill="#2030ff"/>
<circle cx="368.18" cy="63.79" r="0.45" fill="#2030ff"/>
<circle cx="387.92" cy="66.12" r="0.45" fill="#2030ff"/>
<circle cx="376.34" cy="63.57" r="0.45" fill="#c0c6ff"/>
<circle cx="375.51" cy="60.78" r="0.45" fill="#2030ff"/>
<circle cx="381.71" cy="62.36" r="0.45" fill="#9aa4ff"/>
<circle cx="377.06" cy="64.04" r="0.45" fill="#c0c6ff"/>
<circle cx="387.59" cy="66.54" r="0.45" fill="#c0c6ff"/>
<circle cx="367.89" cy="57.67" r="0.45" fill="#c0c6ff"/>
<circle cx="374.86" cy="66.43" r="0.45" fill="#2030ff"/>
<circle cx="382.18" cy="57.07" r="0.45" fill="#2030ff"/>
<circle cx="373.47" cy="65.37" r="0.45" fill="#9aa4ff"/>
<circle cx="366.47" cy="62.55" r="0.45" fill="#c0c6ff"/>
<path d="M352.00,56.00 C352.33,55.33 354.67,55.83 356.00,56.50 C357.33,57.17 359.00,58.75 360.00,60.00 C361.00,61.25 362.33,63.25 362.00,64.00 C361.67,64.75 359.33,65.08 358.00,64.50 C356.67,63.92 355.00,61.92 354.00,60.50 C353.00,59.08 351.67,56.67 352.00,56.00 Z" fill="#5060fb"/>
<circle cx="402.28" cy="57.06" r="0.50" fill="#f58a8a"/>
<circle cx="389.42" cy="58.84" r="0.50" fill="#f9b0b0"/>
<circle cx="392.06" cy="57.30" r="0.50" fill="#f58a8a"/>
<circle cx="403.21" cy="56.49" r="0.50" fill="#f58a8a"/>
<circle cx="409.10" cy="52.47" r="0.50" fill="#f9b0b0"/>
<circle cx="388.02" cy="54.52" r="0.50" fill="#f9b0b0"/>
<circle cx="398.17" cy="52.87" r="0.50" fill="#f58a8a"/>
<circle cx="401.82" cy="52.50" r="0.50" fill="#f9b0b0"/>
<circle cx="398.86" cy="55.73" r="0.50" fill="#f9b0b0"/>
<circle cx="411.05" cy="54.08" r="0.50" fill="#f26060"/>
<circle cx="400.24" cy="57.94" r="0.50" fill="#f58a8a"/>
<circle cx="391.06" cy="54.82" r="0.50" fill="#f9b0b0"/>
<circle cx="404.66" cy="53.34" r="0.50" fill="#f9b0b0"/>
<circle cx="394.09" cy="56.88" r="0.50" fill="#f9b0b0"/>
<circle cx="390.44" cy="55.54" r="0.50" fill="#f58a8a"/>
<circle cx="392.30" cy="54.64" r="0.50" fill="#f9b0b0"/>
<circle cx="400.40" cy="55.97" r="0.50" fill="#f9b0b0"/>
<circle cx="404.53" cy="56.72" r="0.50" fill="#f58a8a"/>
<circle cx="388.18" cy="55.54" r="0.50" fill="#f9b0b0"/>
<circle cx="385.52" cy="55.10" r="0.50" fill="#f9b0b0"/>
<circle cx="390.28" cy="55.25" r="0.50" fill="#f26060"/>
<circle cx="403.81" cy="54.06" r="0.50" fill="#f58a8a"/>
<circle cx="401.87" cy="57.84" r="0.50" fill="#f9b0b0"/>
<circle cx="399.75" cy="53.15" r="0.50" fill="#f26060"/>
<circle cx="400.20" cy="55.42" r="0.50" fill="#f26060"/>
<circle cx="404.54" cy="52.24" r="0.50" fill="#f58a8a"/>
<circle cx="385.63" cy="57.01" r="0.50" fill="#f58a8a"/>
<circle cx="401.15" cy="55.91" r="0.50" fill="#f58a8a"/>
<circle cx="401.03" cy="54.56" r="0.50" fill="#f26060"/>
<circle cx="395.63" cy="55.52" r="0.50" fill="#f26060"/>
<circle cx="405.92" cy="56.44" r="0.50" fill="#f58a8a"/>
<circle cx="394.50" cy="53.93" r="0.50" fill="#f9b0b0"/>
<circle cx="386.25" cy="55.90" r="0.50" fill="#f58a8a"/>
<circle cx="393.39" cy="56.75" r="0.50" fill="#f26060"/>
<circle cx="410.40" cy="52.37" r="0.50" fill="#f58a8a"/>
<circle cx="391.45" cy="54.98" r="0.50" fill="#f9b0b0"/>
<circle cx="411.21" cy="52.66" r="0.50" fill="#f58a8a"/>
<circle cx="388.75" cy="58.14" r="0.50" fill="#f26060"/>
<circle cx="409.62" cy="51.73" r="0.50" fill="#f9b0b0"/>
<circle cx="409.41" cy="55.68" r="0.50" fill="#f26060"/>
<circle cx="399.02" cy="54.25" r="0.50" fill="#f26060"/>
<circle cx="396.24" cy="56.52" r="0.50" fill="#f26060"/>
<circle cx="394.96" cy="55.27" r="0.50" fill="#f26060"/>
<circle cx="410.01" cy="53.10" r="0.50" fill="#f58a8a"/>
<circle cx="387.88" cy="55.79" r="0.50" fill="#f58a8a"/>
<circle cx="403.52" cy="56.63" r="0.50" fill="#f58a8a"/>
<circle cx="389.58" cy="58.59" r="0.50" fill="#f26060"/>
<circle cx="406.74" cy="55.71" r="0.50" fill="#f26060"/>
<circle cx="401.70" cy="54.29" r="0.50" fill="#f58a8a"/>
<circle cx="386.74" cy="56.82" r="0.50" fill="#f58a8a"/>
<circle cx="405.54" cy="55.42" r="0.50" fill="#f9b0b0"/>
<circle cx="407.84" cy="55.56" r="0.50" fill="#f58a8a"/>
<circle cx="399.85" cy="56.43" r="0.50" fill="#f58a8a"/>
<circle cx="400.09" cy="52.58" r="0.50" fill="#f9b0b0"/>
<circle cx="397.76" cy="57.17" r="0.50" fill="#f58a8a"/>
<circle cx="410.80" cy="54.64" r="0.50" fill="#f26060"/>
<circle cx="410.43" cy="52.55" r="0.50" fill="#f58a8a"/>
<circle cx="410.27" cy="52.08" r="0.50" fill="#f58a8a"/>
<circle cx="387.08" cy="55.73" r="0.50" fill="#f58a8a"/>
<circle cx="404.87" cy="53.80" r="0.50" fill="#f26060"/>
<circle cx="391.37" cy="58.11" r="0.50" fill="#f26060"/>
<circle cx="388.79" cy="58.84" r="0.50" fill="#f26060"/>
<circle cx="398.88" cy="56.79" r="0.50" fill="#f26060"/>
<circle cx="402.10" cy="53.14" r="0.50" fill="#f9b0b0"/>
<circle cx="398.61" cy="57.81" r="0.50" fill="#f9b0b0"/>
<circle cx="402.54" cy="56.68" r="0.50" fill="#f58a8a"/>
<circle cx="396.97" cy="56.20" r="0.50" fill="#f9b0b0"/>
<circle cx="396.94" cy="57.97" r="0.50" fill="#f58a8a"/>
<circle cx="401.29" cy="56.51" r="0.50" fill="#f58a8a"/>
<circle cx="404.25" cy="55.43" r="0.50" fill="#f9b0b0"/>
<circle cx="389.30" cy="58.78" r="0.50" fill="#f26060"/>
<circle cx="409.52" cy="52.53" r="0.50" fill="#f9b0b0"/>
<circle cx="386.00" cy="47.70" r="5.40" fill="none" stroke="#1a1a1a" stroke-width="0.9"/>
<text x="386.00" y="50.95" font-size="9.0" fill="#1a1a1a" stroke="#1a1a1a" stroke-width="0.22" text-anchor="middle">1</text>
<circle cx="372.80" cy="63.50" r="5.40" fill="none" stroke="#1a1a1a" stroke-width="0.9"/>
<text x="372.80" y="66.75" font-size="9.0" fill="#1a1a1a" stroke="#1a1a1a" stroke-width="0.22" text-anchor="middle">2</text>
<circle cx="402.80" cy="66.10" r="5.40" fill="none" stroke="#1a1a1a" stroke-width="0.9"/>
<text transform="translate(402.80 70.40) scale(0.5 1)" font-size="12.2" fill="#1a1a1a" stroke="#1a1a1a" stroke-width="0.3" text-anchor="middle">10</text>
<circle cx="367.60" cy="86.40" r="5.40" fill="none" stroke="#1a1a1a" stroke-width="0.9"/>
<text x="367.60" y="89.65" font-size="9.0" fill="#1a1a1a" stroke="#1a1a1a" stroke-width="0.22" text-anchor="middle">8</text>
<circle cx="349.90" cy="93.40" r="5.40" fill="#fff" stroke="#1a1a1a" stroke-width="0.9"/>
<text transform="translate(349.90 97.70) scale(0.5 1)" font-size="12.2" fill="#1a1a1a" stroke="#1a1a1a" stroke-width="0.3" text-anchor="middle">11</text>
<circle cx="418.20" cy="85.50" r="5.40" fill="none" stroke="#1a1a1a" stroke-width="0.9"/>
<text x="418.20" y="88.75" font-size="9.0" fill="#1a1a1a" stroke="#1a1a1a" stroke-width="0.22" text-anchor="middle">4</text>
<circle cx="396.50" cy="96.30" r="5.40" fill="none" stroke="#1a1a1a" stroke-width="0.9"/>
<text x="396.50" y="99.55" font-size="9.0" fill="#1a1a1a" stroke="#1a1a1a" stroke-width="0.22" text-anchor="middle">7</text>
<circle cx="379.20" cy="116.20" r="5.40" fill="none" stroke="#1a1a1a" stroke-width="0.9"/>
<text x="379.20" y="119.45" font-size="9.0" fill="#1a1a1a" stroke="#1a1a1a" stroke-width="0.22" text-anchor="middle">3</text>
<circle cx="399.80" cy="127.50" r="5.40" fill="none" stroke="#1a1a1a" stroke-width="0.9"/>
<text x="399.80" y="130.75" font-size="9.0" fill="#1a1a1a" stroke="#1a1a1a" stroke-width="0.22" text-anchor="middle">5</text>
<circle cx="361.70" cy="135.70" r="5.40" fill="none" stroke="#1a1a1a" stroke-width="0.9"/>
<text x="361.70" y="138.95" font-size="9.0" fill="#1a1a1a" stroke="#1a1a1a" stroke-width="0.22" text-anchor="middle">6</text>
<circle cx="322.20" cy="86.10" r="5.40" fill="#fff" stroke="#1a1a1a" stroke-width="0.9"/>
<text x="322.20" y="89.35" font-size="9.0" fill="#1a1a1a" stroke="#1a1a1a" stroke-width="0.22" text-anchor="middle">9</text>
<line x1="312.30" y1="147.20" x2="312.30" y2="125.50" stroke="#1a1a1a" stroke-width="0.8"/>
<path d="M310.60,127.60 L312.30,123.30 L314.00,127.60 Z" fill="#1a1a1a"/>
<line x1="314.60" y1="153.40" x2="337.00" y2="153.40" stroke="#1a1a1a" stroke-width="0.8"/>
<path d="M335.00,151.70 L339.30,153.40 L335.00,155.10 Z" fill="#1a1a1a"/>
<text x="303.90" y="150.60" font-size="9.4" fill="#231f20" stroke="#231f20" stroke-width="0.22" transform="rotate(-90.00 303.90 150.60)">UMAP 2</text>
<text x="312.20" y="166.00" font-size="9.4" fill="#231f20" stroke="#231f20" stroke-width="0.22">UMAP 1</text>
<text x="437.00" y="10.60" font-size="13.2" fill="#231f20" stroke="#231f20" stroke-width="0.22">D</text>
<path d="M463.40,155.40 L463.80,150.00 L468.00,138.20 L473.00,123.60 L478.00,111.90 L484.80,103.10 L493.60,98.00 L503.80,95.10 L515.50,92.60 L533.00,90.70 L540.00,89.70 L553.10,87.10 L566.30,83.10 L579.40,79.90 L592.60,77.20 L599.10,75.90 L603.00,72.60 L603.90,68.30 L617.70,58.60 L631.60,53.00 L638.50,48.90 L648.30,41.90 L656.60,41.20 L664.90,44.70 L673.20,51.60 L681.50,58.60 L683.60,65.50 L681.50,75.20 L676.00,83.50 L669.00,93.30 L671.80,101.60 L664.90,111.30 L658.00,119.60 L648.30,127.90 L635.80,137.60 L624.70,146.00 L617.70,150.00 L615.00,155.40 Z" fill="#d8d8d8"/>
<path d="M563.0 105.1h0M519.6 125.7h0M556.1 144.5h0M500.7 144.6h0M614.1 64.0h0M564.5 146.4h0M631.8 78.5h0M649.3 61.9h0M639.0 66.7h0M602.4 83.8h0M607.4 107.5h0M587.6 96.6h0M580.2 154.5h0M584.1 134.5h0M470.5 154.0h0M496.0 120.1h0M659.2 94.1h0M493.1 120.7h0M648.1 92.6h0M614.8 89.1h0M582.0 132.7h0M585.9 143.6h0M567.6 148.4h0M642.3 49.2h0M490.1 125.6h0M606.2 67.0h0M599.6 87.4h0M482.0 131.6h0M583.8 135.3h0M666.5 65.3h0M668.3 64.1h0M540.5 155.1h0M599.7 83.4h0M658.0 107.5h0M668.8 82.8h0M609.3 64.6h0M630.1 80.4h0M495.4 110.4h0M606.0 146.5h0M593.9 128.4h0M556.5 131.3h0M624.9 114.6h0M556.1 137.9h0M528.5 145.4h0M546.8 122.9h0M605.4 78.2h0M540.8 154.5h0M490.8 109.5h0M476.8 142.5h0M659.1 81.1h0M640.3 110.4h0M592.3 92.8h0M475.8 128.5h0M680.6 74.3h0M544.1 154.5h0M643.5 125.6h0M590.0 100.4h0M652.8 71.4h0M633.5 78.4h0M641.6 124.0h0M514.6 132.9h0M618.8 137.2h0M543.9 121.3h0M679.5 63.2h0M594.9 108.1h0M592.9 91.5h0M509.4 111.9h0M574.7 99.1h0M622.5 122.0h0M591.4 122.3h0M566.8 89.6h0M551.5 92.7h0M613.1 100.1h0M624.2 63.7h0M492.2 146.4h0M583.1 108.7h0M502.7 144.2h0M492.4 145.9h0M605.8 148.7h0M616.8 136.9h0M584.6 99.0h0M615.2 131.6h0M612.7 83.9h0M617.1 60.0h0M624.0 104.3h0M558.7 121.8h0M506.9 111.0h0M580.2 145.2h0M530.4 95.1h0M485.0 103.1h0M534.4 107.6h0M472.7 149.4h0M655.7 82.3h0M627.0 98.5h0M601.5 109.3h0M587.4 104.0h0M525.4 154.9h0M658.6 71.2h0M544.0 147.5h0M625.7 137.9h0M606.4 135.2h0M629.2 91.7h0" stroke="#f3f3f3" stroke-width="1.1" stroke-linecap="round" fill="none"/>
<path d="M575.2 108.3h0M607.4 111.5h0M565.6 91.5h0M619.3 77.2h0M476.6 132.2h0M586.6 92.3h0M544.6 112.2h0M601.5 76.7h0M624.8 100.8h0M529.7 118.6h0M508.4 113.3h0M626.2 87.5h0M561.1 98.8h0M566.5 153.0h0M574.0 115.8h0M612.5 108.0h0M627.6 115.3h0M633.4 139.0h0M485.8 112.2h0M563.0 124.5h0M507.3 94.6h0M616.4 101.3h0M577.0 152.8h0M655.6 61.8h0M583.0 131.6h0M611.0 146.2h0M528.9 134.3h0M588.4 89.2h0M549.6 111.7h0M473.7 139.1h0M594.3 147.6h0M661.0 53.9h0M551.8 116.1h0M593.5 94.5h0M607.4 142.5h0M531.9 101.9h0M532.6 96.5h0M616.2 137.1h0M621.4 111.7h0M486.6 126.0h0M640.2 70.3h0M644.4 103.4h0M483.1 132.6h0M537.3 121.4h0M623.4 118.2h0M538.7 147.5h0M515.7 121.3h0M636.2 69.2h0M678.4 62.2h0M645.1 58.1h0M552.3 105.6h0M634.7 117.6h0M582.2 97.1h0M640.0 80.0h0M672.8 77.0h0M599.8 100.0h0M473.6 149.5h0M578.2 113.4h0M520.2 140.5h0M604.8 139.9h0M502.4 122.5h0M638.6 133.1h0M516.5 96.3h0M514.5 123.1h0M618.1 134.9h0M558.6 102.8h0M511.7 110.2h0M661.2 59.8h0M575.2 132.1h0M576.7 121.0h0M537.4 132.6h0M653.9 72.2h0M495.8 140.9h0M610.7 125.9h0M568.3 89.1h0M603.5 119.4h0M477.7 145.8h0M489.5 146.6h0M514.8 133.9h0M651.9 79.6h0M553.3 125.8h0M575.2 81.7h0M639.9 67.1h0M584.4 127.2h0M631.1 140.7h0M569.4 101.0h0M644.8 129.6h0M486.7 148.8h0M508.9 125.0h0M627.6 131.2h0M481.9 127.6h0M643.2 78.6h0M602.3 144.2h0M551.3 136.8h0" stroke="#c9c9c9" stroke-width="1.5" stroke-linecap="round" fill="none"/>
<path d="M568.2 111.3h0M525.5 101.8h0M603.0 133.0h0M468.8 135.9h0M567.4 122.8h0M550.1 131.6h0M565.5 115.6h0M524.0 146.2h0M666.6 66.1h0M646.6 89.4h0M653.0 81.9h0M602.8 127.2h0M647.6 105.5h0M487.6 146.7h0M606.1 129.8h0M634.4 129.9h0M526.2 127.5h0M524.9 103.8h0M668.0 98.3h0M672.9 61.1h0M571.2 128.1h0M516.4 142.8h0M623.7 129.9h0M626.4 71.9h0M639.6 58.0h0M537.1 125.9h0M627.1 103.6h0M596.2 120.6h0M484.9 130.7h0M656.5 62.3h0M623.4 146.7h0M613.4 87.7h0M539.1 124.1h0M582.7 148.5h0M599.6 145.7h0M658.5 96.4h0M513.0 110.5h0M519.5 127.9h0M538.5 91.9h0M501.1 154.4h0M652.2 101.7h0M596.1 121.2h0M520.1 149.8h0M644.4 123.0h0M485.2 149.5h0M616.3 66.7h0M549.2 153.6h0M666.9 96.3h0M574.7 119.7h0M652.5 50.6h0M504.2 100.8h0M555.6 126.7h0M613.3 154.3h0M620.2 90.1h0M610.4 147.6h0M510.0 154.6h0M511.4 138.9h0M614.6 142.6h0M602.5 142.1h0M488.1 114.3h0M561.1 88.3h0M528.1 142.7h0M570.8 85.6h0M519.5 129.3h0M544.5 142.0h0M542.6 96.0h0M673.3 63.9h0M511.9 113.4h0M584.0 106.3h0M612.7 124.2h0M520.4 97.0h0M678.8 63.6h0M612.9 111.8h0M534.3 126.6h0M595.6 97.1h0M649.5 101.4h0M475.2 151.0h0M654.9 69.2h0M608.6 69.4h0M475.7 143.9h0M625.0 130.4h0M477.4 134.0h0M507.9 127.2h0M636.6 126.9h0M626.6 66.4h0M505.7 139.0h0M581.4 101.8h0M633.5 102.9h0M617.0 65.8h0M651.6 92.6h0" stroke="#c9c9c9" stroke-width="0.8" stroke-linecap="round" fill="none"/>
<path d="M582.0 142.9h0M509.4 113.9h0M609.2 84.5h0M470.3 140.9h0M573.0 88.1h0M571.5 120.1h0M603.9 133.6h0M565.7 103.0h0M633.9 131.2h0M610.4 118.4h0M588.5 79.1h0M609.9 68.6h0M590.3 148.8h0M509.7 150.7h0M555.0 111.4h0M490.5 141.3h0M644.5 67.3h0M552.9 151.6h0M510.4 144.9h0M623.4 142.3h0M505.1 128.7h0M653.5 87.9h0M510.8 115.7h0M571.9 117.6h0M653.2 100.2h0M553.8 108.4h0M505.2 124.0h0M656.5 84.7h0M632.0 54.1h0M585.4 107.7h0M493.4 142.9h0M635.2 53.7h0M494.7 114.1h0M595.2 77.7h0M647.6 100.1h0M581.7 105.0h0M619.6 124.7h0M509.5 124.7h0M523.9 120.1h0M519.1 135.3h0M616.2 88.8h0M574.5 132.1h0M502.6 131.3h0M577.3 155.0h0M651.7 53.7h0M562.0 90.2h0M672.9 56.9h0M569.0 84.5h0M556.5 96.6h0M602.8 130.3h0M630.3 59.4h0M578.6 83.9h0M644.1 85.7h0M550.5 127.4h0M586.0 124.9h0M598.9 93.3h0M663.5 105.8h0M484.4 111.7h0M527.5 112.9h0M545.3 95.0h0M613.1 94.8h0M614.4 134.2h0M633.4 123.0h0M624.4 131.1h0M643.1 130.6h0M624.9 125.4h0M664.6 91.8h0M635.9 51.1h0M528.4 100.4h0M510.0 105.5h0M537.4 104.7h0M570.4 150.1h0M505.3 102.5h0M586.9 131.2h0M613.6 81.4h0M484.6 147.0h0M510.0 140.5h0M617.1 137.8h0M681.2 69.7h0M609.8 150.7h0M551.3 116.7h0M488.1 125.8h0M514.8 134.0h0M587.2 145.7h0M559.2 100.0h0M616.3 104.8h0M519.6 153.6h0M591.6 102.0h0M650.2 68.5h0M610.4 120.9h0M652.7 90.9h0M671.5 64.4h0M476.6 143.8h0M495.0 127.6h0M645.5 90.2h0" stroke="#ececec" stroke-width="1.5" stroke-linecap="round" fill="none"/>
<path d="M607.6 87.7h0M564.2 94.0h0M616.9 100.6h0M547.3 137.7h0M665.4 103.3h0M511.0 103.2h0M575.2 151.6h0M651.8 103.1h0M677.7 69.0h0M555.8 130.0h0M614.2 105.7h0M482.4 118.4h0M531.7 145.2h0M512.1 151.7h0M587.5 132.2h0M633.4 57.7h0M619.0 148.1h0M646.3 62.4h0M501.2 141.7h0M573.1 115.4h0M470.9 155.0h0M539.0 120.5h0M516.1 97.6h0M536.9 127.9h0M601.8 98.9h0M514.1 109.8h0M601.5 92.2h0M574.8 96.0h0M650.7 53.1h0M531.7 150.1h0M593.1 94.0h0M669.7 82.6h0M662.0 52.8h0M586.2 152.3h0M483.8 119.4h0M504.3 151.4h0M638.6 67.3h0M582.6 155.1h0M627.0 124.6h0M580.1 154.4h0M637.0 112.7h0M600.5 116.5h0M622.3 146.8h0M502.4 143.0h0M504.0 113.7h0M549.1 148.9h0M473.7 137.9h0M504.6 99.0h0M638.8 51.8h0M568.0 84.1h0M640.7 117.7h0M594.1 138.6h0M553.3 143.3h0M563.4 90.0h0M492.8 109.0h0M599.9 104.6h0M493.6 135.7h0M539.3 137.7h0M539.5 150.2h0M596.3 148.0h0M577.4 110.4h0M575.0 101.2h0M631.4 97.5h0M538.5 100.0h0M628.6 90.3h0M609.0 69.5h0M583.3 124.9h0M604.8 91.8h0M571.2 90.1h0M618.5 125.8h0M673.0 62.0h0M483.5 130.0h0M635.7 113.6h0M551.4 123.6h0M582.6 91.8h0M676.1 74.5h0M656.7 58.1h0M637.1 105.6h0M479.7 114.9h0M570.5 139.7h0M553.0 151.0h0M573.1 127.3h0M604.5 127.9h0M509.0 103.0h0M653.5 103.6h0M560.9 136.3h0M584.1 153.3h0M669.5 53.3h0M646.0 56.9h0M622.8 75.9h0M488.6 104.8h0M626.7 141.9h0M502.7 139.5h0M504.9 153.9h0M633.9 94.7h0M546.0 90.6h0M483.6 149.0h0M659.6 43.2h0M572.5 142.0h0M576.7 139.9h0M474.3 142.9h0M567.9 91.5h0M537.8 132.4h0M593.3 122.4h0M618.1 105.3h0M603.4 131.8h0M657.6 105.5h0M594.8 143.7h0M567.8 94.9h0M615.1 126.0h0M655.5 62.7h0M505.6 99.9h0" stroke="#f7f7f7" stroke-width="0.8" stroke-linecap="round" fill="none"/>
<path d="M632.1 86.9h0M612.0 79.7h0M603.5 96.3h0M517.6 97.5h0M595.4 98.8h0M616.5 97.7h0M657.6 66.2h0M594.4 144.3h0M631.8 86.2h0M575.4 91.7h0M572.2 149.3h0M507.4 124.7h0M587.8 87.7h0M606.6 76.2h0M585.8 114.9h0M551.5 109.0h0M479.4 120.2h0M654.1 67.0h0M592.4 94.8h0M640.4 119.2h0M600.9 105.2h0M615.2 133.1h0M495.0 112.6h0M599.2 135.7h0M593.1 107.3h0M508.7 123.2h0M511.9 114.2h0M536.8 107.9h0M545.9 109.0h0M609.3 99.4h0M638.6 89.8h0M617.0 67.9h0M561.8 152.1h0M659.2 117.5h0M658.4 117.5h0M582.3 93.8h0M552.3 121.4h0M616.3 100.1h0M549.6 137.1h0M591.6 117.2h0M509.9 121.5h0M587.4 84.9h0M676.6 68.6h0M487.1 115.8h0M567.8 118.0h0M545.5 115.4h0M563.7 99.0h0M502.7 97.7h0M553.0 115.2h0M635.6 55.3h0M509.5 106.3h0M634.9 79.1h0M606.2 123.4h0M598.2 112.2h0M629.5 65.0h0M665.9 68.4h0M611.7 68.6h0M493.5 104.9h0M612.6 100.1h0M657.3 49.0h0M493.2 109.5h0M484.0 132.1h0M579.6 138.6h0M479.8 148.0h0M638.7 85.8h0M553.5 115.7h0M637.9 82.2h0M573.4 132.8h0M629.2 74.8h0M520.4 106.4h0M597.3 79.5h0M609.7 154.7h0M492.0 142.0h0M600.7 85.7h0M512.8 115.6h0M587.4 151.1h0M492.1 111.7h0M603.0 82.6h0M592.5 92.9h0M516.4 103.1h0M627.9 64.9h0M574.4 128.6h0M651.7 114.7h0M577.3 140.9h0M484.3 136.0h0M650.5 123.5h0M542.6 136.0h0M645.4 71.7h0M548.0 101.3h0M605.5 123.3h0M533.0 120.2h0M636.8 75.3h0M574.3 93.9h0M643.0 82.9h0M525.8 133.0h0M523.2 144.5h0M528.8 104.6h0M643.1 117.9h0M571.7 112.4h0M488.5 115.3h0M559.0 144.7h0M645.6 68.2h0M479.8 134.7h0M646.5 128.0h0M523.3 95.8h0M555.8 153.4h0M629.0 59.0h0M588.3 130.1h0" stroke="#e4e4e4" stroke-width="1.1" stroke-linecap="round" fill="none"/>
<path d="M614.2 65.6h0M550.3 154.3h0M540.9 119.4h0M666.1 70.4h0M521.1 123.2h0M623.4 70.8h0M499.7 99.7h0M595.0 127.9h0M482.0 135.8h0M636.9 50.8h0M479.4 111.8h0M527.7 151.9h0M530.7 94.6h0M608.8 110.7h0M495.5 147.9h0M574.1 86.5h0M528.6 124.4h0M610.4 94.0h0M622.7 144.8h0M519.8 141.5h0M485.9 121.7h0M651.8 60.8h0M645.7 128.9h0M662.7 77.9h0M555.4 97.5h0M593.5 103.5h0M587.0 152.5h0M599.5 151.2h0M664.2 103.2h0M628.4 96.9h0M630.1 118.5h0M655.8 95.1h0M487.7 148.6h0M488.0 140.4h0M604.1 113.6h0M591.8 86.7h0M506.3 113.5h0M491.0 124.2h0M606.1 119.6h0M484.7 121.7h0M655.5 112.2h0M649.6 121.3h0M583.0 107.8h0M653.3 48.4h0M627.6 128.1h0M561.9 139.1h0M611.9 151.7h0M509.3 114.7h0M483.9 142.1h0M607.5 90.1h0M640.4 109.2h0M634.6 72.6h0M669.2 101.5h0M657.3 81.6h0M628.4 56.7h0M645.7 86.9h0M675.3 78.5h0M615.1 108.1h0M612.8 70.7h0M502.6 98.8h0M626.7 116.3h0M636.2 74.1h0M606.1 150.5h0M568.5 139.5h0M596.5 103.1h0M634.0 92.9h0M567.6 115.1h0M569.0 126.1h0M634.3 86.0h0M620.6 113.8h0M617.2 81.8h0M622.2 65.2h0M579.3 146.1h0M539.9 139.3h0M631.2 131.0h0M652.7 46.0h0M539.3 95.0h0M549.0 91.3h0M566.9 114.2h0M570.0 146.8h0M665.3 89.6h0M544.8 150.1h0M582.3 115.3h0M622.1 135.3h0M517.5 124.7h0M547.0 141.9h0M612.9 123.4h0M610.4 91.1h0M639.8 102.9h0M473.9 137.9h0M500.9 127.5h0M639.2 79.5h0M578.2 117.9h0M646.3 46.3h0M594.4 126.1h0M567.0 113.1h0M511.4 120.0h0M566.1 107.5h0M581.6 111.3h0M579.0 93.8h0M605.9 150.4h0M516.8 106.9h0M628.6 137.2h0" stroke="#ececec" stroke-width="1.1" stroke-linecap="round" fill="none"/>
<path d="M546.1 122.2h0M632.8 89.1h0M569.9 106.8h0M553.8 143.1h0M506.9 101.8h0M627.0 59.5h0M668.2 59.5h0M583.9 150.5h0M556.2 141.1h0M505.9 119.1h0M561.5 139.8h0M622.8 79.1h0M668.0 82.4h0M656.5 69.1h0M657.7 107.0h0M533.0 139.3h0M565.1 126.9h0M638.1 133.0h0M635.9 70.8h0M562.4 151.6h0M578.0 147.0h0M600.3 88.3h0M518.6 133.4h0M585.6 131.1h0M609.5 152.0h0M562.9 104.9h0M665.7 78.7h0M498.5 97.2h0M618.7 88.9h0M594.0 125.9h0M588.7 148.9h0M510.8 146.3h0M476.8 152.6h0M522.7 120.5h0M589.0 87.2h0M529.4 150.4h0M613.9 120.2h0M612.1 65.6h0M599.5 77.8h0M656.7 81.5h0M640.9 76.1h0M630.3 114.9h0M674.6 76.6h0M551.9 136.5h0M661.0 72.0h0M625.3 76.3h0M486.4 142.3h0M550.0 99.7h0M522.6 153.2h0M485.3 125.6h0M585.4 102.5h0M478.5 136.8h0M624.6 70.2h0M589.6 144.4h0M501.0 103.8h0M584.4 110.5h0M654.4 83.2h0M570.1 102.1h0M628.9 79.9h0M640.5 85.8h0M678.6 79.4h0M664.3 66.4h0M671.1 86.9h0M633.3 102.8h0M653.5 104.1h0M557.4 102.1h0M525.8 144.5h0M521.3 118.3h0M496.4 133.8h0M587.6 123.8h0M533.2 152.9h0M500.4 99.1h0M540.4 123.5h0M553.7 108.1h0M608.2 122.3h0M490.0 114.5h0M617.2 89.6h0M617.0 95.4h0M528.7 146.4h0M564.5 105.8h0M526.8 136.6h0M534.1 94.3h0M649.4 61.9h0M509.1 153.0h0M523.8 96.2h0M579.5 139.8h0M544.3 102.7h0M514.8 133.2h0M567.6 127.5h0M484.2 137.1h0M551.6 114.7h0M603.0 113.0h0M493.5 141.0h0M642.4 124.2h0M670.6 76.1h0M537.9 109.8h0M492.8 113.8h0M511.8 129.2h0M576.4 153.8h0M635.9 109.8h0M669.8 97.6h0M606.4 125.2h0" stroke="#f3f3f3" stroke-width="0.8" stroke-linecap="round" fill="none"/>
<path d="M666.6 56.6h0M593.9 155.2h0M646.2 85.3h0M577.9 147.3h0M622.4 134.7h0M666.0 101.2h0M520.7 121.4h0M552.1 119.5h0M640.2 96.3h0M639.0 75.7h0M627.4 137.0h0M625.7 143.9h0M565.4 121.6h0M593.7 133.0h0M528.4 146.6h0M665.4 49.6h0M518.6 132.9h0M591.1 98.2h0M627.4 100.8h0M651.8 89.0h0M572.4 95.2h0M576.2 118.8h0M474.1 122.7h0M624.2 116.9h0M637.3 57.5h0M576.1 154.7h0M525.0 114.7h0M475.7 140.5h0M599.3 144.2h0M501.2 107.5h0M645.9 115.4h0M606.2 79.3h0M630.4 80.6h0M483.2 106.5h0M537.3 112.6h0M533.8 125.1h0M581.5 137.0h0M580.3 85.4h0M632.8 59.1h0M625.6 65.4h0M603.9 79.5h0M673.4 81.5h0M547.1 110.6h0M563.7 136.7h0M651.6 50.4h0M659.0 65.6h0M622.8 131.5h0M613.3 142.0h0M647.7 83.0h0M621.3 101.4h0M508.5 146.1h0M574.2 97.9h0M544.6 145.1h0M600.0 75.2h0M624.0 68.6h0M501.3 144.2h0M554.4 108.9h0M571.8 84.0h0M642.5 117.4h0M656.2 116.2h0M481.5 116.7h0M534.0 119.7h0M575.4 136.4h0M588.9 88.2h0M533.0 126.9h0M633.4 106.6h0M553.1 97.1h0M543.8 151.8h0M472.3 132.3h0M663.3 65.8h0M533.9 145.3h0M553.3 90.3h0M478.8 129.7h0M514.3 136.4h0M488.2 143.9h0M598.4 81.1h0M634.1 115.7h0M670.0 71.3h0M642.1 72.7h0M602.5 80.0h0M511.6 152.4h0M558.8 130.2h0M647.5 128.3h0M528.3 138.0h0M642.4 126.3h0M507.9 136.4h0M665.2 85.8h0M619.5 69.1h0M578.0 140.9h0M538.7 144.8h0M500.4 98.2h0M647.1 101.6h0M649.0 59.2h0M507.4 145.4h0M652.9 103.0h0M629.5 69.3h0M642.9 63.2h0M596.8 144.7h0M576.7 145.9h0M640.0 129.6h0M497.7 150.9h0" stroke="#ececec" stroke-width="0.8" stroke-linecap="round" fill="none"/>
<path d="M504.6 154.9h0M513.7 105.1h0M674.2 54.1h0M496.1 100.2h0M623.9 114.2h0M518.6 144.6h0M555.2 109.8h0M611.5 97.6h0M493.0 132.4h0M569.1 94.7h0M496.9 112.9h0M584.1 81.5h0M494.6 122.7h0M566.9 88.2h0M574.7 137.7h0M479.4 144.8h0M518.4 133.1h0M674.0 81.8h0M636.8 133.3h0M628.6 121.5h0M494.9 144.2h0M593.5 119.5h0M470.4 136.0h0M669.0 77.0h0M608.3 95.0h0M616.3 127.8h0M614.4 128.3h0M513.8 110.2h0M592.6 124.2h0M574.4 94.7h0M550.9 104.3h0M631.3 108.8h0M583.1 79.7h0M554.8 119.3h0M622.7 130.4h0M503.8 124.6h0M643.2 68.4h0M480.4 131.7h0M641.3 51.5h0M580.1 88.4h0M522.2 129.0h0M584.0 109.3h0M634.5 131.9h0M611.8 93.9h0M641.0 55.5h0M564.6 114.7h0M565.0 129.9h0M628.1 137.1h0M666.8 72.2h0M477.4 118.5h0M612.7 104.9h0M501.3 114.6h0M649.9 71.9h0M551.7 107.2h0M532.8 97.3h0M535.6 94.0h0M564.8 113.8h0M645.7 129.4h0M513.9 140.4h0M528.8 130.8h0M583.2 148.7h0M656.8 107.2h0M632.8 79.0h0M528.9 94.0h0M569.8 83.1h0M545.9 153.2h0M625.5 132.5h0M606.7 85.4h0M496.1 131.1h0M495.6 151.5h0M601.3 125.7h0M628.1 102.0h0M637.5 123.5h0M624.0 81.7h0M547.3 152.4h0M578.2 149.6h0M655.5 101.8h0M672.6 77.9h0M544.6 126.3h0M525.6 97.5h0M643.2 110.9h0M554.3 152.4h0M634.6 123.5h0M508.9 151.8h0M630.7 88.4h0M529.0 116.0h0M602.5 119.9h0M588.2 145.4h0M520.6 142.6h0M485.1 115.4h0M658.4 84.9h0M562.9 134.0h0M646.9 106.9h0M600.1 86.6h0M545.8 131.7h0M577.9 100.8h0M570.4 93.2h0M533.3 117.1h0M574.8 142.2h0M487.4 117.0h0M619.8 88.6h0M486.9 118.1h0M492.0 149.4h0M600.4 111.8h0M609.9 103.0h0M532.1 141.9h0M565.0 97.8h0M658.7 89.7h0" stroke="#f7f7f7" stroke-width="1.5" stroke-linecap="round" fill="none"/>
<path d="M506.7 149.7h0M615.2 149.2h0M618.6 139.5h0M663.0 78.0h0M593.0 109.7h0M633.2 80.2h0M629.9 138.0h0M610.0 140.2h0M640.7 66.5h0M619.0 70.9h0M620.4 87.5h0M607.0 152.4h0M599.1 80.6h0M609.9 89.1h0M644.7 115.6h0M640.2 119.3h0M578.3 134.4h0M566.7 118.7h0M511.8 132.5h0M627.5 132.6h0M500.2 112.6h0M570.7 144.7h0M488.3 137.8h0M587.2 148.5h0M603.1 125.7h0M620.8 62.4h0M649.4 121.2h0M560.6 138.5h0M596.0 128.4h0M612.3 137.5h0M502.6 127.5h0M667.9 104.0h0M554.2 103.6h0M582.0 83.4h0M535.7 143.3h0M671.1 58.3h0M647.4 56.9h0M613.4 145.2h0M565.2 143.7h0M660.6 74.5h0M490.0 148.0h0M600.3 135.2h0M591.6 78.2h0M623.5 126.2h0M636.3 111.2h0M659.0 94.4h0M679.8 71.3h0M518.0 109.4h0M623.7 128.5h0M574.5 133.6h0M525.3 133.7h0M549.0 114.3h0M660.7 77.3h0M481.4 136.8h0M626.4 115.4h0M465.2 153.1h0M617.7 108.1h0M661.5 101.2h0M556.0 136.7h0M586.9 111.0h0M593.3 120.7h0M627.1 92.8h0M585.7 120.1h0M580.6 124.1h0M587.6 95.5h0M599.9 108.5h0M545.0 128.7h0M653.8 43.2h0M609.8 142.4h0M578.0 139.7h0M519.9 99.7h0M655.2 60.3h0M646.2 86.8h0M597.9 148.5h0M595.8 146.9h0M472.3 130.4h0M588.4 108.7h0M480.9 112.9h0M603.9 81.5h0" stroke="#f3f3f3" stroke-width="1.5" stroke-linecap="round" fill="none"/>
<path d="M543.1 142.9h0M577.6 100.0h0M601.2 97.6h0M619.4 106.4h0M649.2 105.1h0M618.6 113.7h0M508.3 137.2h0M662.2 46.9h0M558.0 97.7h0M580.2 96.4h0M629.6 85.7h0M601.0 82.2h0M501.4 127.7h0M570.1 87.2h0M603.7 154.6h0M644.4 50.6h0M500.5 126.4h0M624.6 109.4h0M609.7 131.5h0M600.2 101.2h0M600.1 100.5h0M546.4 141.7h0M602.2 105.8h0M539.7 142.4h0M626.2 120.4h0M513.5 96.3h0M477.6 143.1h0M667.0 97.7h0M552.0 121.7h0M544.7 116.2h0M680.9 64.8h0M643.2 121.1h0M625.7 84.2h0M484.8 112.7h0M594.1 150.9h0M504.4 112.0h0M650.0 45.2h0M569.3 119.6h0M511.0 114.3h0M504.0 101.3h0M515.9 115.9h0M534.1 107.7h0M615.3 92.1h0M667.0 98.3h0M496.5 104.2h0M592.1 148.0h0M493.5 130.4h0M674.4 77.9h0M547.8 122.1h0M564.6 135.4h0M582.1 82.2h0M565.9 105.3h0M604.9 69.9h0M485.6 132.4h0M565.9 105.7h0M540.4 154.5h0M621.2 95.2h0M553.7 116.1h0M561.8 118.3h0M566.3 155.3h0M576.9 136.5h0M572.1 89.2h0M558.2 94.1h0M651.3 66.9h0M520.0 115.1h0M668.6 75.4h0M574.4 100.4h0M647.9 117.9h0M620.4 91.1h0M614.0 89.8h0M605.5 117.3h0M503.2 127.1h0M487.8 140.8h0M651.7 65.5h0M595.5 111.5h0M651.0 86.9h0M483.4 143.1h0M574.0 135.5h0M639.5 91.5h0M641.4 50.9h0M585.7 122.8h0M601.0 141.9h0M598.8 124.9h0M670.3 82.3h0M667.5 98.8h0M525.2 105.8h0M627.7 94.4h0M515.1 130.7h0M658.7 65.7h0M637.3 129.8h0M628.6 104.4h0M517.5 110.9h0M652.0 64.4h0M644.5 85.6h0M510.4 107.7h0M498.4 114.4h0M575.3 121.2h0M548.1 99.5h0M626.5 115.7h0M628.3 86.8h0M618.7 118.5h0M599.1 152.9h0M676.4 71.9h0M607.9 74.1h0M587.6 116.1h0M581.7 152.3h0M484.5 107.3h0M570.6 129.4h0M545.4 138.5h0M669.5 70.7h0M474.5 152.5h0M523.3 130.8h0M584.3 154.1h0M560.3 110.7h0M654.9 53.2h0M577.2 86.3h0M673.9 82.5h0M627.5 113.4h0M584.5 92.3h0M633.5 84.2h0M524.4 107.2h0" stroke="#e4e4e4" stroke-width="1.5" stroke-linecap="round" fill="none"/>
<path d="M473.2 148.1h0M580.8 119.6h0M672.4 51.0h0M616.4 128.8h0M633.5 108.1h0M561.9 135.1h0M527.5 127.9h0M652.2 75.9h0M563.4 87.3h0M548.5 106.2h0M562.5 101.8h0M531.0 122.3h0M560.4 129.5h0M565.3 86.1h0M561.9 154.6h0M549.9 146.7h0M610.5 98.1h0M616.2 131.5h0M569.9 155.1h0M581.5 140.0h0M495.1 105.6h0M635.5 91.5h0M545.1 150.6h0M612.0 93.1h0M479.5 136.6h0M498.6 97.5h0M607.1 94.3h0M514.8 148.1h0M479.4 139.3h0M626.2 140.5h0M658.5 49.8h0M520.5 111.3h0M511.0 121.7h0M580.8 131.3h0M608.3 114.8h0M653.8 45.0h0M607.8 150.9h0M477.8 123.0h0M617.9 102.1h0M669.4 79.5h0M516.8 118.2h0M643.9 49.3h0M624.4 80.1h0M621.8 137.2h0M488.6 114.6h0M659.1 116.9h0M654.3 104.4h0M485.4 129.9h0M636.1 95.0h0M629.1 138.5h0M652.5 41.9h0M480.5 130.9h0M572.1 91.8h0M569.4 99.7h0M626.2 117.0h0M502.7 124.7h0M590.4 126.4h0M619.8 85.7h0M651.2 113.1h0M626.2 84.1h0M648.7 92.5h0M566.3 115.0h0M634.7 81.4h0M631.5 75.5h0M497.6 118.6h0M475.9 148.1h0M664.9 103.4h0M537.5 149.5h0M664.6 94.6h0M627.9 69.2h0M608.3 112.4h0M581.9 136.9h0M601.7 114.4h0M625.0 137.6h0M606.6 81.1h0M553.2 142.4h0M621.5 120.7h0M519.5 142.6h0M527.7 94.0h0M530.3 122.3h0M473.5 151.5h0M606.6 144.9h0M515.4 110.9h0M508.0 95.0h0M570.3 145.8h0M582.1 86.5h0M557.1 105.9h0M652.5 58.1h0M649.8 88.2h0M585.2 102.3h0M523.6 134.8h0M646.0 83.2h0M522.8 117.5h0M618.0 124.9h0M509.6 103.8h0M631.6 79.7h0" stroke="#c9c9c9" stroke-width="1.1" stroke-linecap="round" fill="none"/>
<path d="M659.8 78.5h0M548.0 107.8h0M581.3 114.3h0M614.7 78.0h0M514.6 125.8h0M507.6 119.1h0M551.0 107.6h0M569.3 132.6h0M549.8 117.3h0M623.5 111.2h0M546.6 99.4h0M590.3 120.8h0M615.8 67.6h0M559.1 91.6h0M615.2 117.3h0M566.7 111.5h0M603.2 83.2h0M507.6 112.1h0M560.0 140.5h0M542.4 127.3h0M603.9 81.6h0M642.1 61.6h0M539.2 112.3h0M660.8 51.3h0M545.9 123.8h0M681.3 65.1h0M643.7 118.3h0M569.2 153.2h0M624.2 106.9h0M646.9 87.8h0M519.2 95.9h0M637.3 130.5h0M600.8 77.4h0M575.4 153.6h0M639.0 122.5h0M630.0 101.3h0M525.4 98.9h0M584.2 109.9h0M596.5 81.0h0M610.3 120.6h0M587.0 81.8h0M531.8 108.8h0M596.3 135.3h0M663.8 59.1h0M484.7 150.7h0M518.2 104.2h0M632.7 125.3h0M567.3 131.8h0M560.8 137.0h0M624.5 111.3h0M598.0 120.9h0M572.5 92.4h0M623.7 105.3h0M560.2 142.4h0M579.3 141.0h0M571.6 133.2h0M481.2 148.0h0M523.2 143.6h0M586.9 100.9h0M495.2 125.0h0M581.0 148.7h0M505.3 98.4h0M659.0 55.6h0M509.5 125.4h0M646.2 92.2h0M620.7 125.3h0M521.3 129.4h0M613.0 138.7h0M648.2 97.6h0M485.5 104.2h0M467.2 141.3h0M577.5 116.3h0M595.6 139.9h0M522.4 109.4h0M582.3 141.2h0M550.7 131.9h0M667.8 64.4h0M649.5 95.3h0M529.5 141.1h0M568.8 120.4h0M542.6 155.3h0M609.2 139.8h0M577.3 146.0h0M548.3 134.6h0M547.4 117.9h0M662.3 95.0h0M626.8 88.5h0M608.5 104.2h0M650.1 107.9h0M639.6 98.6h0" stroke="#e4e4e4" stroke-width="0.8" stroke-linecap="round" fill="none"/>
<path d="M584.5 115.7h0M631.2 111.2h0M576.9 90.3h0M641.7 83.3h0M576.9 103.3h0M640.5 48.5h0M511.9 128.6h0M583.1 105.2h0M614.3 82.7h0M670.2 78.9h0M663.2 75.0h0M608.3 130.6h0M594.8 122.8h0M572.8 116.5h0M496.6 107.7h0M549.1 120.5h0M570.0 88.5h0M566.6 154.6h0M559.6 132.4h0M633.0 71.2h0M528.2 131.7h0M522.7 106.8h0M533.0 117.2h0M674.5 75.0h0M647.3 123.5h0M625.2 112.6h0M608.6 118.6h0M590.7 99.9h0M470.4 132.1h0M542.6 110.8h0M566.4 137.6h0M612.4 107.1h0M577.7 153.0h0M620.4 119.9h0M497.3 101.2h0M493.6 108.6h0M539.1 127.0h0M548.1 100.0h0M498.1 106.0h0M598.7 145.3h0M559.0 137.9h0M469.9 143.2h0M620.7 97.4h0M629.8 90.2h0M632.9 74.0h0M605.6 88.1h0M591.3 108.1h0M589.0 148.8h0M563.9 147.1h0M482.4 131.3h0M598.0 96.4h0M568.0 139.4h0M593.8 130.1h0M642.6 95.0h0M535.8 97.5h0M649.4 77.5h0M512.2 121.1h0M507.4 140.4h0M625.5 102.3h0M502.9 110.6h0M581.6 99.6h0M613.3 68.0h0M501.7 116.7h0M578.0 90.0h0M597.0 147.2h0M640.3 111.1h0M564.3 84.8h0M647.2 42.7h0M649.2 43.5h0M516.7 152.9h0M587.4 85.6h0M482.0 147.6h0M628.5 56.2h0M572.5 83.2h0M562.5 138.1h0M604.8 90.2h0M562.6 115.7h0M621.7 91.1h0M573.7 112.3h0M548.0 114.0h0M602.3 120.1h0M628.9 134.5h0M583.6 124.6h0M591.9 94.6h0M627.2 67.5h0M496.7 139.7h0M645.9 59.2h0M595.2 79.6h0M648.6 56.1h0" stroke="#f7f7f7" stroke-width="1.1" stroke-linecap="round" fill="none"/>
<ellipse cx="474" cy="130" rx="1.8" ry="2.6" fill="#f3f3f3"/>
<ellipse cx="480" cy="121" rx="1.2" ry="1.5" fill="#f3f3f3"/>
<ellipse cx="487" cy="116" rx="1.6" ry="1.3" fill="#f3f3f3"/>
<ellipse cx="532" cy="96" rx="1.5" ry="1.2" fill="#f3f3f3"/>
<ellipse cx="620" cy="115" rx="2" ry="1.5" fill="#f3f3f3"/>
<ellipse cx="512" cy="114" rx="1.0" ry="1.0" fill="#f3f3f3"/>
<ellipse cx="469" cy="146" rx="1" ry="2" fill="#f3f3f3"/>
<path d="M499.40,155.20 C488.48,153.67 499.77,148.83 500.50,146.00 C501.23,143.17 502.28,141.20 503.80,138.20 C505.32,135.20 507.73,130.37 509.60,128.00 C511.47,125.63 512.93,125.00 515.00,124.00 C517.07,123.00 519.50,122.43 522.00,122.00 C524.50,121.57 527.00,121.73 530.00,121.40 C533.00,121.07 537.07,120.37 540.00,120.00 C542.93,119.63 544.93,118.87 547.60,119.20 C550.27,119.53 553.60,120.87 556.00,122.00 C558.40,123.13 560.33,123.83 562.00,126.00 C563.67,128.17 565.17,131.83 566.00,135.00 C566.83,138.17 567.00,141.63 567.00,145.00 C567.00,148.37 577.27,153.50 566.00,155.20 C554.73,156.90 510.32,156.73 499.40,155.20 Z" fill="#c6dd9c"/>
<path d="M509.4 139.2h0M544.1 137.5h0M554.8 123.4h0M529.2 126.7h0M542.7 124.4h0M522.7 133.0h0M509.6 152.0h0M502.9 148.5h0M522.8 152.2h0M547.3 132.2h0M538.5 144.6h0M513.4 137.4h0M532.7 133.2h0M565.2 149.1h0M541.1 138.6h0M547.4 144.3h0M557.9 146.2h0M522.3 124.2h0M565.2 144.6h0M551.5 152.8h0M551.0 146.9h0M528.4 141.0h0M518.2 130.5h0M536.5 131.1h0M510.3 147.1h0M524.8 130.8h0M552.5 139.4h0M513.4 152.7h0M563.9 138.7h0M515.3 141.7h0M510.0 137.5h0M517.9 134.7h0M532.3 145.0h0M554.3 141.0h0M533.6 142.7h0M537.5 137.8h0M539.4 144.7h0M553.7 145.3h0M543.9 152.5h0M524.1 150.5h0M511.5 153.3h0M527.8 142.1h0M554.0 145.1h0M556.7 125.1h0M529.8 130.2h0M518.6 141.6h0M547.2 150.1h0M509.7 139.9h0M545.4 147.5h0M512.3 132.6h0M503.0 143.1h0M548.8 152.0h0M544.3 136.8h0M550.8 131.3h0M560.4 133.2h0M543.3 144.7h0M545.2 124.4h0M561.4 143.7h0M537.0 121.3h0M504.8 153.3h0M543.4 141.1h0M509.3 140.2h0M505.6 151.2h0M558.1 126.4h0M530.4 131.8h0M545.1 149.0h0M550.7 131.3h0M557.7 152.5h0M528.2 136.5h0M525.5 128.3h0M562.4 140.1h0M516.2 143.1h0M560.2 153.8h0M552.8 130.2h0M552.2 142.1h0M503.9 148.6h0M564.3 138.6h0M536.6 133.6h0M546.9 133.3h0M566.6 143.6h0M516.1 124.6h0M517.4 126.6h0M522.8 132.5h0M534.3 141.8h0M535.2 126.7h0M555.8 133.7h0M537.7 129.9h0M527.7 138.2h0M561.9 146.6h0M516.1 145.1h0M553.9 143.8h0M507.1 149.3h0M550.6 128.0h0M519.8 123.1h0M553.2 131.7h0M533.3 147.1h0M530.0 124.4h0M519.3 144.7h0M531.9 137.6h0M548.3 144.6h0M544.6 139.9h0M516.9 126.5h0M516.8 135.9h0M514.1 144.8h0M551.1 150.0h0M561.5 141.8h0M517.2 140.0h0M508.3 147.6h0M524.7 133.8h0M525.0 127.9h0M532.8 155.2h0M503.5 154.6h0M564.2 145.7h0M552.3 126.9h0M519.7 153.0h0M511.1 148.9h0M541.9 144.5h0M561.3 132.7h0M500.2 149.8h0M558.9 131.9h0M509.3 135.2h0M517.2 149.8h0M555.5 122.6h0M559.2 148.9h0M550.6 152.4h0M528.0 122.9h0M537.5 138.8h0M546.3 131.3h0M506.0 146.3h0M516.1 150.8h0M525.5 146.8h0M558.9 131.9h0M523.5 153.9h0M532.6 139.6h0M546.1 132.1h0M512.7 153.7h0M532.7 154.0h0M561.9 130.0h0M524.0 129.4h0M557.3 146.4h0M538.3 143.0h0M556.0 137.3h0M504.2 150.5h0M561.0 142.6h0M552.1 124.3h0M505.7 135.1h0M553.3 133.7h0M557.7 131.1h0M529.7 139.2h0M565.2 152.3h0M516.6 140.5h0M517.0 142.6h0M561.1 145.1h0M541.9 145.3h0M521.6 143.1h0M550.5 151.4h0M551.8 145.5h0M557.6 130.4h0M515.9 126.8h0M509.6 133.5h0M534.1 126.3h0M551.6 134.2h0M513.0 137.3h0M545.5 147.9h0M547.6 128.0h0M527.0 125.9h0M506.7 137.6h0M536.0 142.6h0M551.3 142.2h0M529.8 150.8h0M536.2 123.8h0M519.3 142.2h0M555.6 140.1h0M530.0 153.4h0M551.2 131.7h0M513.9 126.6h0M539.8 134.6h0M524.6 134.8h0M547.7 127.6h0M530.1 145.6h0M549.2 148.1h0M518.6 149.2h0M531.5 152.6h0M553.2 138.2h0M525.9 144.3h0M520.1 136.2h0M554.9 140.7h0M524.3 143.0h0M537.9 122.2h0M526.0 138.6h0M529.2 122.5h0M506.8 138.8h0M505.1 141.9h0M548.3 128.9h0M518.9 126.3h0M533.6 148.3h0M556.5 151.0h0M518.6 130.6h0M508.4 151.5h0M522.7 154.5h0M560.3 154.6h0M503.6 154.2h0M520.3 136.6h0M522.5 151.5h0M556.0 134.5h0M552.5 147.7h0M555.5 135.0h0M502.4 155.2h0M538.8 138.0h0M516.0 151.8h0M548.4 124.6h0M531.1 125.7h0M553.9 137.4h0M561.7 131.4h0M543.2 122.1h0M551.3 120.6h0M505.8 154.2h0M543.0 138.9h0M531.6 121.8h0M563.0 140.4h0M519.7 133.7h0M517.8 130.1h0M527.1 123.0h0M537.7 134.0h0M519.1 124.1h0M532.2 144.6h0M520.2 123.0h0M527.2 143.1h0M559.9 125.3h0M551.3 141.1h0M553.7 151.1h0M556.7 127.0h0M551.4 150.4h0M515.1 133.1h0M533.5 138.0h0M559.2 137.2h0M559.4 127.8h0M514.5 130.5h0M553.4 128.8h0M552.9 127.1h0M517.0 135.6h0M542.7 137.9h0M541.0 152.6h0M527.4 134.7h0M548.8 153.9h0M501.8 150.7h0M562.1 149.3h0M511.5 140.1h0M562.3 152.7h0M522.8 138.3h0M514.6 129.2h0M508.2 148.8h0M527.5 135.6h0M539.2 142.6h0M520.2 135.5h0M519.4 143.5h0M552.1 126.9h0M528.0 132.3h0M505.1 151.5h0M518.0 153.2h0M565.5 146.5h0M534.8 140.0h0M539.8 154.1h0M558.2 139.1h0M564.9 134.1h0M502.9 147.9h0M560.4 125.4h0M564.3 150.9h0M522.3 132.7h0M535.3 144.6h0M531.2 149.6h0M528.1 135.9h0M548.3 122.3h0M554.0 123.2h0M529.7 125.2h0M545.2 123.4h0M524.6 144.6h0M541.5 126.1h0M556.2 134.9h0M523.3 134.9h0M527.5 124.4h0M550.0 134.9h0M539.2 120.9h0M525.9 137.2h0M504.7 147.7h0M566.0 154.4h0M540.2 136.4h0M521.5 123.2h0M506.7 155.0h0M509.1 148.0h0M539.2 136.5h0M529.2 128.0h0M531.4 139.3h0M540.8 120.2h0M552.7 125.7h0M524.5 126.5h0M520.6 139.3h0M560.3 140.7h0M548.9 125.3h0M515.8 152.6h0M537.5 131.3h0M560.0 152.5h0M558.4 137.1h0M519.2 123.9h0M513.0 138.5h0M553.0 129.4h0M561.9 128.9h0M523.0 124.0h0M517.2 148.8h0M502.1 145.7h0M515.6 132.4h0M533.0 121.0h0M564.4 136.1h0M530.8 153.9h0M550.9 154.9h0M543.1 154.7h0M508.9 140.2h0M521.3 135.0h0M502.7 152.2h0M520.3 135.9h0M561.8 154.5h0M538.3 145.0h0M532.4 141.2h0M522.9 129.8h0M565.8 150.1h0M539.3 154.2h0M562.7 150.0h0M543.7 138.6h0M548.0 142.6h0M529.7 130.3h0M564.4 144.9h0M546.6 143.2h0M538.4 135.8h0M517.3 124.5h0M514.1 132.7h0M560.3 141.8h0M512.3 152.0h0M554.6 125.6h0M542.6 137.3h0M545.3 127.0h0M506.6 151.6h0M511.2 139.2h0M565.6 145.5h0M519.9 144.3h0M564.0 140.2h0M507.3 138.9h0" stroke="#9acd32" stroke-width="1.0" stroke-linecap="round" fill="none"/>
<path d="M541.5 132.2h0M537.6 132.2h0M525.7 146.5h0M529.9 153.7h0M536.5 141.2h0M510.9 146.4h0M534.9 150.7h0M520.2 139.3h0M549.1 151.0h0M556.4 147.6h0M531.7 125.3h0M550.2 142.0h0M549.4 123.6h0M508.3 148.5h0M528.2 134.2h0M539.9 128.9h0M556.0 137.6h0M539.3 128.5h0M564.8 138.8h0M546.8 136.9h0M562.9 136.3h0M518.6 141.9h0M514.6 138.3h0M550.2 123.5h0M553.9 124.7h0M538.7 141.4h0M563.5 135.1h0M544.3 146.0h0M555.2 137.6h0M536.5 133.9h0M506.6 150.4h0M552.6 141.8h0M561.9 139.8h0M517.1 126.2h0M516.1 128.5h0M549.5 130.0h0M534.4 124.0h0M540.7 138.2h0M516.2 123.8h0M511.1 131.8h0M520.3 147.9h0M506.4 150.0h0M553.4 152.4h0M533.1 144.8h0M543.4 141.9h0M530.5 142.5h0M539.1 131.7h0M541.4 154.0h0M531.8 126.7h0M563.4 132.4h0M503.7 151.4h0M555.4 130.1h0M547.3 143.2h0M500.6 154.5h0M564.7 141.0h0M507.5 148.3h0M550.5 122.0h0M520.5 146.6h0M514.7 139.7h0M552.5 141.9h0M528.5 142.2h0M566.7 142.3h0M558.7 137.1h0M563.8 147.3h0M521.9 141.5h0M542.4 121.2h0M529.1 131.4h0M530.2 134.6h0M514.7 137.2h0M534.6 146.7h0M518.2 155.1h0M561.6 154.5h0M539.7 152.7h0M554.8 123.3h0M510.4 139.1h0M536.9 121.8h0M532.3 127.9h0M514.9 152.5h0M513.8 133.0h0M562.1 134.0h0M513.8 137.6h0M525.7 133.8h0M524.9 153.2h0M509.3 153.0h0M553.1 131.5h0M551.7 140.9h0M539.0 142.9h0M554.4 122.9h0M549.7 140.4h0M548.1 148.6h0M511.0 127.3h0M550.5 136.8h0M510.3 134.6h0M560.3 129.2h0M508.3 154.6h0M555.8 126.5h0M544.1 125.2h0M544.8 153.9h0M560.6 150.5h0M506.9 152.8h0M522.3 154.7h0M514.6 147.1h0M530.9 146.3h0M558.8 127.6h0M533.2 135.6h0M539.9 128.7h0M532.2 153.3h0M556.1 152.9h0M530.3 151.9h0M558.4 125.9h0M511.9 145.5h0M518.6 150.6h0M535.7 152.8h0M520.5 124.6h0M547.6 125.6h0M548.7 152.3h0M559.3 127.2h0M556.8 143.6h0M519.7 130.3h0M565.5 141.4h0M506.7 136.5h0M537.8 144.4h0M515.9 154.0h0M534.5 127.6h0M551.4 152.5h0M545.1 133.3h0M516.7 148.3h0M540.8 135.4h0M501.6 151.0h0M553.2 140.8h0M525.5 137.8h0M531.4 141.7h0M519.5 150.2h0M540.4 120.6h0M509.5 154.9h0M551.4 148.1h0M524.5 131.3h0M565.8 154.9h0M549.0 122.4h0M504.7 138.7h0M517.6 131.9h0M507.0 150.6h0M551.8 140.7h0M563.8 143.7h0M521.5 138.8h0M513.5 133.1h0M540.1 129.7h0M546.4 127.6h0M533.2 142.4h0M513.9 141.5h0M509.4 143.8h0M533.0 138.5h0M547.1 129.8h0M555.0 144.4h0M524.9 143.7h0M533.1 132.9h0M535.3 151.5h0M535.5 137.8h0M564.6 147.8h0M504.5 154.1h0M537.7 138.1h0M536.5 136.3h0M542.9 154.6h0M525.6 129.6h0M557.8 146.3h0M513.8 146.0h0M563.6 153.7h0M514.6 137.4h0M550.2 154.0h0M551.2 129.4h0M522.5 122.8h0M529.3 150.3h0M549.7 128.3h0M515.3 139.0h0M543.2 134.1h0M515.3 127.4h0M538.2 132.2h0M523.1 146.8h0M532.3 137.8h0M558.4 143.2h0M518.4 143.9h0M524.4 127.3h0M521.1 153.4h0M519.6 132.7h0M534.5 146.9h0M522.5 129.6h0M546.0 121.9h0M554.8 152.1h0M520.2 142.1h0M525.0 145.1h0M543.4 125.8h0M508.9 130.1h0M547.7 122.1h0M514.8 126.5h0M559.3 153.3h0M560.2 144.5h0M521.5 152.4h0M519.3 130.3h0M517.6 140.4h0M521.8 130.4h0M554.6 130.8h0M539.0 154.7h0M545.0 145.2h0M533.4 137.8h0M535.1 150.2h0M565.3 137.0h0M560.1 127.5h0M550.3 131.9h0M509.4 143.4h0M551.5 144.6h0M514.5 152.6h0M540.9 150.6h0M508.0 144.6h0M520.0 133.7h0M559.6 140.7h0M557.4 154.7h0M522.6 147.0h0M540.8 122.7h0M521.8 138.5h0M507.0 144.8h0M556.2 143.8h0M540.5 128.7h0M553.9 125.1h0M554.4 145.0h0M538.2 133.3h0M511.3 129.1h0M546.7 149.5h0M516.7 147.3h0M544.4 151.7h0M508.8 152.0h0M564.2 150.9h0M512.7 143.5h0M504.4 150.4h0M565.7 151.1h0M531.1 146.5h0M557.9 152.1h0M547.7 141.1h0M531.0 123.0h0M552.0 128.9h0M552.8 133.6h0M526.9 126.8h0M563.3 130.3h0M554.7 144.3h0M545.0 146.3h0M522.4 152.2h0M524.0 152.0h0M513.3 153.2h0M501.2 151.3h0M519.5 125.6h0M537.6 146.0h0M531.0 134.5h0M532.6 149.6h0M559.0 152.9h0M505.2 137.1h0M508.4 142.7h0M533.9 150.3h0M525.2 127.4h0M513.8 153.8h0M511.7 127.3h0M553.7 148.6h0M539.7 147.2h0M548.4 119.8h0M527.6 153.4h0M528.4 140.4h0M527.8 153.8h0M513.9 132.1h0M538.6 153.0h0M549.3 154.6h0M511.6 153.6h0M527.3 140.8h0M530.8 127.2h0M556.5 134.7h0M547.2 149.9h0M546.1 134.1h0M561.5 148.6h0M517.0 152.6h0M562.3 136.1h0M528.8 148.2h0M510.5 133.2h0M539.9 134.4h0M515.3 138.1h0M526.3 147.3h0M535.2 128.9h0M553.9 134.4h0M557.2 130.8h0M556.7 134.5h0M555.1 128.3h0M553.0 124.2h0M555.3 125.4h0M557.7 130.0h0M554.7 124.2h0M557.7 132.4h0M555.4 127.8h0" stroke="#9acd32" stroke-width="1.3" stroke-linecap="round" fill="none"/>
<path d="M560.8 132.2h0M565.4 153.3h0M548.5 148.9h0M547.0 136.2h0M547.4 145.6h0M543.5 147.8h0M500.4 154.2h0M537.7 140.0h0M557.4 154.6h0M517.9 137.4h0M552.8 152.7h0M547.1 135.0h0M505.3 148.8h0M514.8 144.1h0M545.8 152.7h0M530.2 125.7h0M565.5 151.9h0M528.9 122.0h0M513.6 126.1h0M528.6 149.1h0M553.8 147.1h0M503.4 145.2h0M511.3 140.4h0M541.0 141.6h0M545.4 131.5h0M508.9 133.4h0M525.4 141.5h0M514.2 130.0h0M527.2 154.6h0M539.8 133.0h0M531.5 142.4h0M550.0 143.7h0M510.3 141.3h0M550.8 139.9h0M551.7 137.0h0M523.0 131.8h0M544.7 128.0h0M502.9 143.3h0M541.3 134.0h0M548.9 149.0h0M561.7 139.3h0M515.7 126.4h0M534.1 122.5h0M545.1 133.9h0M541.7 121.8h0M528.0 147.6h0M555.7 126.0h0M513.9 132.6h0M534.9 132.3h0M532.9 128.0h0M561.1 146.2h0M509.5 135.2h0M557.9 137.1h0M526.5 124.1h0M504.2 139.1h0M528.7 132.3h0M539.8 126.6h0M527.8 150.5h0M553.6 122.9h0M542.3 138.9h0M523.4 133.9h0M531.7 140.6h0M552.3 153.1h0M536.9 147.4h0M502.9 140.9h0M520.4 151.1h0M518.3 127.2h0M517.1 126.3h0M532.8 147.6h0M550.3 126.4h0M562.0 127.0h0M538.7 146.5h0M507.4 145.1h0M518.2 128.1h0M555.9 131.8h0M565.9 150.8h0M554.9 152.3h0M529.1 131.7h0M529.8 122.9h0M559.1 128.7h0M561.3 137.9h0M509.1 131.0h0M558.8 149.9h0M553.2 131.9h0M562.1 127.3h0M526.3 153.7h0M556.8 137.9h0M542.3 151.8h0M519.6 138.2h0M528.2 139.2h0M520.8 139.9h0M507.7 137.4h0M510.5 150.0h0M532.8 134.2h0M552.9 136.8h0M557.3 128.3h0M550.1 154.5h0M566.3 139.8h0M546.0 127.6h0M523.6 149.5h0M556.8 144.1h0M541.8 129.6h0M505.3 148.1h0M563.4 154.8h0M506.0 140.4h0M533.4 145.3h0M548.4 147.8h0M515.9 132.1h0M519.4 154.0h0M557.8 139.8h0M542.0 128.3h0M553.5 154.7h0M501.2 153.6h0M519.7 137.1h0M526.8 143.6h0M529.9 132.2h0M560.6 148.3h0M559.7 141.9h0M539.5 138.0h0M543.4 150.8h0M542.5 152.0h0M557.2 140.4h0M552.5 154.7h0M521.6 125.7h0M534.4 141.4h0M554.9 142.4h0M510.7 147.2h0M554.8 140.7h0M526.7 123.3h0M503.7 154.8h0M541.2 150.1h0M544.8 150.9h0M549.3 127.1h0M535.2 150.4h0M531.1 147.3h0M541.2 125.1h0M518.0 127.0h0M530.3 122.4h0M561.3 139.7h0M553.6 135.7h0M522.3 140.9h0M529.9 123.5h0M558.1 137.8h0M499.9 154.6h0M551.2 131.5h0M545.5 125.1h0M511.9 152.6h0M550.8 131.2h0M558.6 138.3h0M534.3 139.5h0M565.7 152.1h0M529.3 128.8h0M513.8 142.6h0M549.8 124.7h0M544.2 148.8h0M506.4 146.2h0M519.4 136.9h0M543.6 137.3h0M523.9 131.9h0M564.7 140.7h0M555.1 122.0h0M554.1 153.8h0M549.6 154.3h0M528.0 123.5h0M540.3 137.0h0M517.8 146.8h0M528.9 138.3h0M544.6 119.6h0M508.6 132.1h0M530.7 154.8h0M520.8 131.3h0M540.8 121.8h0M512.2 126.2h0M533.8 137.3h0M533.6 134.0h0M564.1 145.6h0M518.0 137.2h0M516.3 142.2h0M549.2 130.0h0M509.8 134.5h0M537.0 134.3h0M538.2 126.8h0M524.0 133.6h0M556.0 135.3h0M560.4 148.0h0M513.8 144.6h0M553.5 136.1h0M560.2 141.3h0M516.9 143.3h0M528.4 132.3h0M530.5 137.3h0M518.7 153.7h0M555.7 140.9h0M544.0 133.0h0M524.5 147.8h0M546.0 130.9h0M526.4 126.9h0M507.1 147.5h0M515.9 151.2h0M508.1 149.9h0M545.6 127.5h0M560.3 136.2h0M545.5 148.9h0M507.3 137.6h0M560.3 139.9h0M524.7 151.0h0M507.9 146.1h0M562.3 126.8h0M504.3 147.2h0M517.4 137.5h0M523.4 150.2h0M520.2 128.0h0M560.8 138.1h0M521.9 131.2h0M536.5 124.4h0M508.1 152.9h0M509.5 138.5h0M545.5 132.1h0M556.0 143.0h0M533.9 148.5h0M531.5 125.0h0M511.8 135.4h0M524.0 154.9h0M509.6 140.1h0M511.4 149.3h0M517.0 126.6h0M519.2 139.1h0M551.3 132.9h0M521.9 142.9h0M555.6 126.3h0M538.1 152.4h0M554.9 155.0h0M537.8 131.0h0M528.3 132.4h0M502.7 154.0h0M523.4 139.0h0M515.6 141.7h0M531.8 153.0h0M523.3 154.2h0M513.4 144.5h0M560.6 126.2h0M561.2 151.4h0M535.4 126.7h0M504.8 153.1h0M545.7 150.9h0M553.3 127.1h0M520.5 138.6h0M503.4 144.9h0M532.8 148.0h0M539.9 147.4h0M547.3 150.4h0M540.2 126.3h0M507.1 147.6h0M508.2 134.1h0M526.8 129.4h0M518.9 124.4h0M531.7 129.0h0M548.4 128.9h0M514.9 128.6h0M543.1 141.1h0M543.1 124.3h0M540.0 127.2h0M556.4 149.7h0M523.9 153.0h0M509.5 133.0h0M551.5 126.4h0M532.4 135.0h0M549.0 134.2h0M516.0 132.8h0M523.5 126.4h0M537.2 130.0h0M548.0 129.7h0M555.1 126.3h0M540.5 124.2h0M557.2 147.5h0M545.0 135.6h0M544.2 122.5h0M519.5 129.6h0M527.0 152.8h0M540.5 136.0h0M528.0 153.1h0M503.2 151.2h0M511.6 131.4h0M535.8 137.7h0M503.4 143.4h0M563.2 134.7h0M505.8 142.4h0M555.8 125.3h0M559.2 127.2h0M550.8 130.4h0M551.4 126.0h0M560.3 125.0h0M550.6 131.6h0M560.6 130.2h0M558.7 129.1h0M552.5 129.0h0" stroke="#9acd32" stroke-width="1.6" stroke-linecap="round" fill="none"/>
<path d="M538.8 135.4h0M505.2 143.9h0M523.3 151.9h0M511.2 134.6h0M520.8 143.1h0M511.7 137.9h0M565.0 150.1h0M545.2 140.9h0M527.8 145.1h0M536.2 152.2h0M515.7 133.4h0M530.1 142.0h0M537.5 121.0h0M563.3 143.4h0M521.8 130.5h0M556.7 137.8h0M529.5 129.1h0M505.7 148.8h0M529.4 141.3h0M536.1 120.8h0M531.7 147.0h0M547.1 129.3h0M536.1 137.2h0M551.3 142.2h0M517.1 133.2h0M528.4 146.3h0M522.1 149.0h0M549.9 128.8h0M508.2 144.1h0M530.6 138.1h0M526.9 141.9h0M518.1 143.7h0M562.2 144.0h0M537.2 130.4h0M557.7 129.8h0M537.3 151.7h0M553.5 121.6h0M533.3 151.9h0M518.2 147.6h0M521.0 140.3h0M550.5 144.0h0M536.3 142.6h0M549.0 143.3h0M519.3 151.8h0M512.0 136.7h0M554.4 127.9h0" stroke="#f4f4f4" stroke-width="1.7" stroke-linecap="round" fill="none"/>
<path d="M517.1 128.8h0M504.3 154.2h0M565.5 153.6h0M517.6 125.4h0M512.3 128.3h0M546.4 141.3h0M529.5 145.1h0M519.5 130.8h0M526.0 141.6h0M523.9 141.2h0M510.6 138.8h0M529.8 152.1h0M550.2 120.3h0M549.7 136.4h0M519.1 131.6h0M508.8 136.7h0M529.9 137.9h0M534.0 151.1h0M536.0 129.3h0M553.4 125.1h0M545.8 124.1h0M519.0 133.5h0M562.6 149.8h0M556.9 134.6h0M558.3 123.9h0M544.4 154.0h0M556.7 137.5h0M550.5 148.7h0M549.2 134.8h0M529.7 140.2h0M545.5 149.2h0M517.6 126.2h0M553.5 140.4h0M545.1 148.6h0M505.5 154.2h0M555.3 150.3h0" stroke="#ffffff" stroke-width="1.3" stroke-linecap="round" fill="none"/>
<path d="M512.4 135.9h0M555.6 148.0h0M557.7 123.2h0M507.3 143.5h0M553.8 134.0h0M522.3 147.9h0M551.0 153.8h0M515.9 148.4h0M524.4 142.2h0M513.9 152.9h0M507.4 153.4h0M538.5 153.9h0M505.6 137.4h0M560.7 130.2h0M537.9 155.1h0M516.9 128.0h0M530.1 138.4h0M512.2 143.3h0M512.8 152.6h0M552.6 142.0h0M543.0 120.6h0M542.1 141.7h0M546.4 129.8h0M546.4 141.5h0M545.4 119.9h0M559.5 131.0h0M519.3 124.9h0M531.6 127.6h0M521.2 130.7h0" stroke="#f4f4f4" stroke-width="0.9" stroke-linecap="round" fill="none"/>
<path d="M555.0 126.4h0M516.2 146.2h0M501.4 148.3h0M517.5 147.3h0M520.2 128.5h0M519.1 141.9h0M542.4 148.7h0M514.3 132.0h0M507.6 151.5h0M528.7 143.2h0M515.2 143.8h0M509.6 147.7h0M516.9 141.2h0M565.0 145.7h0M555.6 143.3h0M549.7 125.5h0M563.3 152.6h0M534.8 152.0h0M549.7 131.1h0M526.4 131.8h0M562.8 132.4h0M509.5 152.2h0M555.3 153.3h0M550.5 145.5h0" stroke="#f4f4f4" stroke-width="1.3" stroke-linecap="round" fill="none"/>
<path d="M516.2 131.4h0M522.3 123.1h0M550.7 129.4h0M550.1 148.1h0M538.6 149.4h0M562.9 129.8h0M561.2 150.7h0M507.7 132.7h0M509.0 139.6h0M534.7 131.1h0M553.9 147.0h0M539.5 142.8h0M526.8 123.0h0M536.9 142.1h0M558.2 151.9h0M510.2 144.5h0M547.7 130.4h0M543.9 138.8h0M552.7 154.0h0M536.5 128.1h0M543.7 133.8h0M516.6 140.6h0M533.3 142.5h0M563.4 135.1h0M550.8 142.5h0M558.5 127.5h0M548.5 150.8h0M503.0 149.1h0M514.8 147.4h0M561.8 141.0h0M534.0 138.8h0M518.0 141.7h0" stroke="#e2e2e2" stroke-width="0.9" stroke-linecap="round" fill="none"/>
<path d="M541.6 145.1h0M537.7 129.1h0M524.5 142.4h0M538.3 120.7h0M549.5 125.5h0M562.6 143.9h0M563.5 139.5h0M529.8 150.2h0M526.8 153.1h0M563.3 143.4h0M557.7 138.1h0M540.8 137.1h0M522.0 151.4h0M562.1 139.0h0M505.4 146.9h0M561.2 139.9h0M523.9 132.1h0" stroke="#ffffff" stroke-width="0.9" stroke-linecap="round" fill="none"/>
<path d="M542.7 128.0h0M546.4 147.7h0M539.8 128.7h0M500.2 152.1h0M537.4 152.8h0M557.3 137.0h0M547.3 137.0h0M522.1 141.6h0M516.2 124.3h0M536.2 122.5h0M556.6 127.2h0M508.7 150.3h0M528.3 125.0h0M547.1 129.6h0M501.0 153.6h0M522.1 133.7h0M546.9 140.4h0M560.4 130.6h0M505.1 140.7h0M535.7 148.5h0M542.1 144.0h0M526.8 135.2h0M560.1 140.5h0M547.4 136.6h0M525.0 130.0h0M544.3 150.7h0M551.6 137.9h0" stroke="#ffffff" stroke-width="1.7" stroke-linecap="round" fill="none"/>
<path d="M545.6 120.0h0M555.3 135.0h0M502.9 147.2h0M522.5 152.6h0M557.5 137.8h0M523.4 147.6h0M550.0 124.4h0M527.8 136.8h0M562.9 137.4h0M545.8 125.4h0M533.7 123.7h0M562.9 135.2h0M531.4 145.7h0M524.3 150.8h0M524.2 134.9h0M534.7 143.8h0M518.2 133.0h0M558.1 146.9h0M534.1 144.8h0M537.6 138.3h0M530.6 148.1h0M543.1 146.0h0M524.2 142.2h0M507.4 138.9h0M536.4 135.3h0M537.0 140.2h0M557.8 135.1h0M560.1 142.1h0M526.9 130.5h0" stroke="#e2e2e2" stroke-width="1.3" stroke-linecap="round" fill="none"/>
<path d="M540.3 151.8h0M563.5 129.7h0M518.7 133.7h0M556.2 146.6h0M562.4 151.1h0M544.9 152.0h0M528.6 144.8h0M513.6 135.5h0M514.2 129.7h0M504.1 153.5h0M553.7 147.1h0M550.2 138.3h0M546.1 136.9h0M526.8 142.0h0M525.9 146.4h0M501.9 146.1h0M565.1 154.0h0M548.6 128.1h0M541.0 148.4h0M518.1 136.2h0M549.1 134.7h0M538.7 147.4h0M551.2 139.0h0M517.5 147.0h0M507.0 133.8h0M563.7 148.6h0" stroke="#e2e2e2" stroke-width="1.7" stroke-linecap="round" fill="none"/>
<path d="M562.6 141.0h0M551.0 147.1h0M537.7 135.6h0M554.9 135.1h0M564.9 154.2h0M553.8 146.5h0M521.6 139.8h0M544.6 154.0h0M523.5 150.6h0M518.5 125.0h0M517.3 145.1h0M543.2 126.2h0M565.8 144.9h0M539.5 137.4h0M546.7 132.7h0M517.6 123.3h0M532.4 145.0h0M532.2 140.3h0M542.4 145.8h0M560.4 129.3h0M540.9 136.3h0M563.3 131.4h0M507.8 135.0h0M541.8 129.5h0M526.3 137.3h0M506.8 149.8h0M543.2 124.4h0M539.4 137.7h0M524.7 126.2h0M539.8 133.9h0M536.2 144.4h0M501.7 149.6h0M541.9 141.3h0M556.5 116.7h0M544.0 120.6h0M544.4 114.6h0M546.0 119.8h0M543.5 118.1h0M543.4 115.1h0M550.1 115.3h0M550.9 118.5h0M553.3 116.4h0M535.9 119.1h0M543.9 115.9h0M547.8 115.5h0M537.6 122.5h0M549.9 123.4h0M557.9 120.0h0M557.0 118.5h0M553.4 124.2h0M552.5 123.4h0M549.9 122.8h0M539.8 115.4h0M545.2 124.3h0M555.2 122.9h0M544.0 119.0h0M541.6 115.6h0M553.4 117.0h0M558.8 119.9h0M554.7 122.4h0M553.1 123.7h0M549.4 121.7h0M538.6 124.2h0M540.0 120.9h0M547.0 115.4h0M540.5 117.9h0M543.4 115.6h0M558.1 119.3h0M540.2 122.8h0M552.5 119.6h0M541.2 123.0h0M547.9 116.1h0M545.7 118.4h0M549.7 117.6h0M547.3 122.7h0M548.3 121.4h0M551.6 119.5h0M543.3 123.7h0M545.9 115.3h0M545.2 119.5h0M540.0 114.7h0M546.5 116.8h0M537.8 120.7h0M550.7 122.0h0M542.6 121.7h0M550.6 114.5h0M546.0 116.3h0M541.9 124.7h0M557.8 121.4h0M546.7 122.9h0M550.8 115.2h0M537.8 119.3h0M548.8 118.7h0M555.1 119.4h0M553.0 124.7h0M546.9 118.4h0M536.3 116.1h0M550.7 122.9h0M536.5 122.2h0M549.0 116.6h0M539.5 118.4h0M551.3 123.9h0M544.2 125.5h0M547.8 114.3h0M551.7 114.7h0M515.2 119.5h0M510.8 118.1h0M512.3 116.3h0M522.1 118.4h0M522.0 114.7h0M521.4 120.0h0M518.5 114.6h0M517.5 120.1h0M517.6 117.9h0M527.2 117.9h0M515.3 117.7h0M520.0 120.7h0M524.9 119.5h0M514.0 121.0h0M511.2 116.4h0M502.8 125.4h0M502.7 121.7h0M498.9 124.2h0M505.7 121.9h0M508.4 120.4h0M500.8 121.6h0M503.3 118.8h0M504.7 126.5h0M502.0 120.8h0M504.8 122.5h0M505.6 118.8h0M500.7 126.3h0M498.7 122.2h0M503.6 124.8h0M498.5 123.4h0M507.6 123.3h0M495.5 125.0h0M491.2 121.6h0M497.8 124.0h0M490.1 124.6h0M493.6 126.2h0M495.8 124.5h0M491.5 125.7h0M490.1 127.3h0M497.0 126.5h0M510.7 110.8h0M508.6 112.1h0M512.2 111.7h0M557.4 126.8h0M559.6 131.4h0M557.7 127.6h0M554.3 130.4h0M559.7 129.2h0M555.0 131.1h0M559.2 129.1h0M559.1 133.0h0" stroke="#ffa500" stroke-width="0.9" stroke-linecap="round" fill="none"/>
<path d="M559.0 137.8h0M560.1 142.9h0M543.6 125.4h0M514.0 149.1h0M512.5 150.6h0M561.2 127.4h0M553.1 148.0h0M522.7 131.3h0M504.4 144.7h0M530.6 151.6h0M506.6 147.2h0M551.9 133.9h0M554.0 143.0h0M539.7 124.2h0M513.6 129.8h0M508.4 141.7h0M514.5 134.5h0M509.8 145.2h0M514.7 151.3h0M546.7 141.7h0M524.3 142.6h0M546.3 154.7h0M514.4 140.5h0M522.1 132.2h0M539.7 120.8h0M506.7 152.9h0M538.7 154.4h0M532.7 138.2h0M532.5 123.7h0M531.8 146.9h0M516.3 131.2h0M517.6 142.5h0M544.6 144.0h0M508.8 149.0h0M540.6 140.8h0M552.6 124.7h0M523.3 146.2h0M546.2 122.8h0M561.7 149.2h0M521.0 146.7h0M546.9 130.9h0M502.4 149.3h0M508.5 149.2h0M505.2 144.5h0M547.0 126.9h0M522.4 133.4h0M530.6 143.3h0M552.8 116.0h0M542.4 118.9h0M548.4 118.1h0M549.6 118.8h0M555.1 115.8h0M535.3 119.3h0M547.3 114.7h0M548.8 116.0h0M546.4 117.1h0M550.7 124.5h0M551.6 123.1h0M548.3 116.1h0M550.6 115.2h0M538.1 115.9h0M549.7 117.6h0M535.9 121.1h0M547.8 123.6h0M543.9 123.4h0M549.8 119.8h0M542.6 125.0h0M533.8 119.3h0M549.0 120.1h0M549.7 120.3h0M553.8 122.0h0M546.6 118.0h0M550.6 123.3h0M547.6 119.8h0M541.7 114.8h0M547.2 122.0h0M543.5 117.3h0M556.0 116.3h0M537.4 121.0h0M544.6 119.3h0M550.8 116.7h0M539.6 122.1h0M548.9 122.9h0M540.0 117.3h0M535.9 116.8h0M554.2 121.1h0M546.5 115.3h0M537.1 119.6h0M544.9 118.8h0M554.1 120.4h0M555.8 123.2h0M542.8 115.7h0M540.8 117.5h0M533.7 121.3h0M549.1 120.3h0M537.4 116.2h0M547.4 117.7h0M553.4 115.7h0M542.2 122.7h0M543.9 121.5h0M537.9 121.0h0M556.4 122.9h0M539.0 118.5h0M541.1 124.6h0M543.2 118.1h0M540.5 123.7h0M551.5 124.0h0M550.4 117.8h0M550.7 115.9h0M546.0 125.4h0M547.5 118.2h0M548.5 114.1h0M543.4 122.5h0M554.3 117.5h0M541.7 119.1h0M548.3 118.9h0M549.6 125.3h0M553.5 123.0h0M538.8 119.6h0M549.8 121.9h0M548.3 121.5h0M551.6 119.2h0M554.6 124.0h0M535.7 117.2h0M534.7 122.0h0M536.4 116.2h0M552.0 123.2h0M521.3 119.2h0M521.8 116.0h0M527.2 115.8h0M513.9 116.7h0M513.1 116.2h0M518.3 114.9h0M523.2 115.5h0M516.6 117.2h0M513.4 115.9h0M527.2 117.5h0M511.9 118.0h0M515.1 120.0h0M514.9 120.4h0M524.6 120.5h0M521.6 117.1h0M514.9 120.2h0M515.4 120.5h0M503.4 123.7h0M504.7 122.5h0M498.5 122.2h0M504.0 126.2h0M503.0 120.7h0M506.4 124.5h0M505.1 126.4h0M498.4 121.4h0M499.9 122.3h0M494.1 125.9h0M495.2 127.8h0M489.1 125.8h0M492.0 122.6h0M490.3 121.6h0M493.7 121.5h0M497.1 124.4h0M491.0 126.1h0M511.2 114.0h0M512.0 112.3h0M509.6 112.7h0M558.3 130.9h0M555.7 131.5h0M557.8 126.8h0M558.9 128.7h0M553.3 124.7h0M555.8 130.6h0M558.9 127.7h0M552.3 127.3h0M559.6 131.8h0M555.2 127.7h0" stroke="#ffa500" stroke-width="1.3" stroke-linecap="round" fill="none"/>
<path d="M551.0 117.8h0M535.0 121.0h0M557.7 119.7h0M549.6 121.1h0M552.1 119.2h0M541.4 120.4h0M554.8 116.6h0M538.7 115.9h0M554.1 121.0h0M547.9 122.0h0M544.9 118.4h0M549.0 118.7h0M536.2 123.9h0M557.3 117.8h0M535.8 118.1h0M539.6 121.9h0M539.5 122.3h0M544.5 120.4h0M543.7 120.2h0M556.6 118.8h0M546.4 115.5h0M547.9 120.8h0M547.3 117.0h0M549.9 115.8h0M543.8 121.4h0M548.1 119.2h0M549.4 117.8h0M552.6 118.4h0M557.2 121.8h0M554.6 121.2h0M544.8 124.4h0M546.3 116.0h0M548.3 119.2h0M549.8 118.2h0M554.3 116.6h0M537.8 124.5h0M553.8 122.5h0M550.0 119.4h0M543.7 120.8h0M540.9 118.1h0M548.8 124.1h0M536.0 122.6h0M547.8 125.7h0M536.1 119.7h0M536.6 120.6h0M536.6 124.0h0M555.6 121.1h0M543.5 125.0h0M554.6 123.3h0M544.5 117.7h0M536.2 118.0h0M542.7 123.3h0M558.1 120.0h0M558.1 119.7h0M552.0 125.0h0M553.4 118.8h0M544.1 115.9h0M549.9 123.6h0M539.1 122.9h0M536.9 116.0h0M555.3 122.7h0M556.2 122.9h0M536.4 119.9h0M541.0 122.7h0M558.6 120.6h0M545.0 114.2h0M537.6 117.0h0M535.2 116.9h0M528.9 117.3h0M520.9 116.1h0M529.8 117.6h0M514.4 115.3h0M522.0 116.3h0M525.6 117.0h0M526.4 120.9h0M515.5 115.6h0M511.1 119.4h0M511.6 118.4h0M517.8 119.3h0M522.1 114.5h0M521.3 118.0h0M526.5 117.0h0M520.8 117.7h0M519.1 115.5h0M516.4 116.9h0M522.5 119.6h0M499.1 123.4h0M504.0 121.8h0M503.6 127.4h0M501.2 123.0h0M509.6 120.2h0M506.9 125.4h0M503.9 122.8h0M502.7 121.8h0M504.0 119.3h0M499.8 123.9h0M491.8 126.0h0M493.8 128.3h0M493.4 128.1h0M510.1 111.9h0M513.2 112.6h0M511.5 111.9h0M512.1 110.9h0M551.7 130.4h0M558.0 133.7h0M560.8 129.4h0M555.5 129.6h0M556.7 127.0h0M552.1 131.5h0M559.2 131.1h0M552.4 130.3h0M553.2 129.2h0M554.5 125.6h0M559.6 132.2h0M553.4 133.5h0" stroke="#ffa500" stroke-width="1.6" stroke-linecap="round" fill="none"/>
<path d="M555.0 126.2h0M558.9 129.9h0M559.3 124.8h0M560.7 127.3h0M558.3 129.4h0M556.1 130.9h0M551.7 128.8h0M558.0 123.4h0M553.4 127.8h0M561.5 129.8h0M554.7 134.7h0" stroke="#9acd32" stroke-width="0.9" stroke-linecap="round" fill="none"/>
<path d="M567.50,108.00 C568.30,106.97 570.25,106.88 572.00,106.80 C573.75,106.72 576.73,106.63 578.00,107.50 C579.27,108.37 579.77,110.50 579.60,112.00 C579.43,113.50 578.43,115.62 577.00,116.50 C575.57,117.38 572.63,117.88 571.00,117.30 C569.37,116.72 567.78,114.55 567.20,113.00 C566.62,111.45 566.70,109.03 567.50,108.00 Z" fill="#9acd32"/>
<path d="M570.00,120.30 C570.75,119.60 573.67,119.52 575.00,119.80 C576.33,120.08 578.00,121.25 578.00,122.00 C578.00,122.75 576.25,123.97 575.00,124.30 C573.75,124.63 571.33,124.67 570.50,124.00 C569.67,123.33 569.25,121.00 570.00,120.30 Z" fill="#ffa500"/>
<path d="M571.50,126.70 C572.20,126.15 574.88,126.03 576.00,126.30 C577.12,126.57 578.37,127.68 578.20,128.30 C578.03,128.92 576.07,129.78 575.00,130.00 C573.93,130.22 572.38,130.15 571.80,129.60 C571.22,129.05 570.80,127.25 571.50,126.70 Z" fill="#ffa500"/>
<path d="M582.00,118.00 C582.75,115.53 584.33,114.03 586.00,113.20 C587.67,112.37 590.17,112.37 592.00,113.00 C593.83,113.63 595.80,115.17 597.00,117.00 C598.20,118.83 599.03,121.67 599.20,124.00 C599.37,126.33 599.20,129.17 598.00,131.00 C596.80,132.83 594.17,134.42 592.00,135.00 C589.83,135.58 586.75,135.67 585.00,134.50 C583.25,133.33 582.00,130.75 581.50,128.00 C581.00,125.25 581.25,120.47 582.00,118.00 Z" fill="#9acd32" stroke="#ffa500" stroke-width="1.8"/>
<path d="M583.80,121.00 C584.08,119.55 585.03,118.80 585.70,118.80 C586.37,118.80 587.42,119.63 587.80,121.00 C588.18,122.37 588.30,125.53 588.00,127.00 C587.70,128.47 586.67,129.72 586.00,129.80 C585.33,129.88 584.37,128.97 584.00,127.50 C583.63,126.03 583.52,122.45 583.80,121.00 Z" fill="#f2f2f2" stroke="#a020f0" stroke-width="0.6"/>
<path d="M599.50,127.00 C600.12,125.00 601.58,123.58 603.00,123.00 C604.42,122.42 606.58,122.67 608.00,123.50 C609.42,124.33 610.92,126.08 611.50,128.00 C612.08,129.92 612.08,132.92 611.50,135.00 C610.92,137.08 609.58,139.50 608.00,140.50 C606.42,141.50 603.45,141.92 602.00,141.00 C600.55,140.08 599.72,137.33 599.30,135.00 C598.88,132.67 598.88,129.00 599.50,127.00 Z" fill="#ffa500"/>
<path d="M593.00,145.00 C593.57,144.25 594.90,143.00 596.00,143.00 C597.10,143.00 599.10,144.05 599.60,145.00 C600.10,145.95 599.77,147.95 599.00,148.70 C598.23,149.45 596.07,149.70 595.00,149.50 C593.93,149.30 592.93,148.25 592.60,147.50 C592.27,146.75 592.43,145.75 593.00,145.00 Z" fill="#9acd32"/>
<ellipse cx="584" cy="140" rx="3.8" ry="3.2" fill="none" stroke="#ffa500" stroke-width="1.6"/>
<path d="M568.50,151.00 C568.83,150.20 570.25,149.83 571.00,150.00 C571.75,150.17 572.75,151.20 573.00,152.00 C573.25,152.80 573.17,154.33 572.50,154.80 C571.83,155.27 569.67,155.43 569.00,154.80 C568.33,154.17 568.17,151.80 568.50,151.00 Z" fill="#9acd32"/>
<path d="M597.00,92.00 C597.95,90.25 599.33,88.17 601.00,87.50 C602.67,86.83 605.17,87.08 607.00,88.00 C608.83,88.92 610.92,90.83 612.00,93.00 C613.08,95.17 613.50,98.33 613.50,101.00 C613.50,103.67 613.08,106.87 612.00,109.00 C610.92,111.13 609.00,113.13 607.00,113.80 C605.00,114.47 601.83,114.30 600.00,113.00 C598.17,111.70 596.78,108.50 596.00,106.00 C595.22,103.50 595.13,100.33 595.30,98.00 C595.47,95.67 596.05,93.75 597.00,92.00 Z" fill="#f2f2f2" stroke="#ffa500" stroke-width="1.2"/>
<path d="M628.00,100.00 C629.42,97.00 631.67,93.58 634.00,92.00 C636.33,90.42 639.17,90.33 642.00,90.50 C644.83,90.67 648.50,91.42 651.00,93.00 C653.50,94.58 655.75,97.17 657.00,100.00 C658.25,102.83 658.67,106.50 658.50,110.00 C658.33,113.50 657.42,118.00 656.00,121.00 C654.58,124.00 652.50,126.38 650.00,128.00 C647.50,129.62 644.00,130.53 641.00,130.70 C638.00,130.87 634.42,130.62 632.00,129.00 C629.58,127.38 627.58,124.17 626.50,121.00 C625.42,117.83 625.25,113.50 625.50,110.00 C625.75,106.50 626.58,103.00 628.00,100.00 Z" fill="#c9a3f2"/>
<path d="M659.00,58.00 C659.92,55.67 662.67,54.75 665.00,54.00 C667.33,53.25 670.50,53.17 673.00,53.50 C675.50,53.83 678.42,54.42 680.00,56.00 C681.58,57.58 682.50,60.67 682.50,63.00 C682.50,65.33 681.58,68.20 680.00,70.00 C678.42,71.80 675.50,73.30 673.00,73.80 C670.50,74.30 667.25,73.97 665.00,73.00 C662.75,72.03 660.50,70.50 659.50,68.00 C658.50,65.50 658.08,60.33 659.00,58.00 Z" fill="#c9a3f2"/>
<ellipse cx="676.5" cy="67" rx="2.2" ry="2.8" fill="#9acd32"/>
<clipPath id="dclip1"><path d="M604.00,72.00 C604.83,70.00 607.67,67.55 610.00,66.00 C612.33,64.45 615.33,63.20 618.00,62.70 C620.67,62.20 623.73,62.12 626.00,63.00 C628.27,63.88 630.93,65.83 631.60,68.00 C632.27,70.17 631.60,73.87 630.00,76.00 C628.40,78.13 625.00,80.05 622.00,80.80 C619.00,81.55 614.83,80.97 612.00,80.50 C609.17,80.03 606.33,79.42 605.00,78.00 C603.67,76.58 603.17,74.00 604.00,72.00 Z"/></clipPath>
<g clip-path="url(#dclip1)"><path d="M611.6 67.0L611.5 66.1L611.1 65.3L610.3 64.9L609.5 64.5M616.0 66.9L616.9 67.0L617.5 67.7L618.4 67.7L619.3 67.5L619.6 68.4M631.3 68.6L630.8 69.3L631.3 70.0L631.0 70.9M622.0 68.7L622.2 67.8L622.6 67.0L622.7 66.1L622.4 65.3L622.9 64.6L623.8 64.5M619.2 66.3L619.4 67.1L618.8 67.8L618.8 68.7M623.1 75.6L622.9 74.7L622.4 74.0L622.9 73.2M627.2 77.3L626.8 78.1L627.0 79.0L626.9 79.9M622.5 70.7L623.3 70.3L624.2 70.1L625.0 69.7M623.2 65.4L622.6 66.0L622.2 66.8L621.3 66.6L620.4 66.5L620.0 65.7L620.3 64.8M625.9 67.9L626.8 68.0L627.5 67.5L628.3 67.1L629.1 67.3L630.0 67.0M615.7 72.7L616.4 73.3L617.1 73.8L617.9 74.3M627.0 65.6L627.3 66.5L627.9 67.1L627.9 68.0M616.2 76.4L616.3 75.5L617.1 75.1L617.9 74.8M615.5 64.8L615.3 65.7L614.4 65.6L613.5 65.5M616.8 70.4L616.6 69.6L616.7 68.7L617.4 68.1L618.1 67.5L619.0 67.2L619.6 67.9M623.8 77.7L623.5 76.8L622.8 76.2L622.0 75.9L621.2 75.5M617.1 65.0L616.8 65.9L616.0 66.1L615.1 66.5L614.5 67.2M608.0 78.2L607.7 79.1L608.0 79.9L607.8 80.7L607.0 81.3L606.9 82.2M618.4 62.8L618.5 63.7L618.4 64.6L619.1 65.2L620.0 64.9L620.5 65.6L620.2 66.4M605.4 73.5L604.7 74.0L603.9 73.7L603.1 74.2M623.6 68.4L622.7 68.2L622.2 69.0L621.3 68.8L620.6 68.3L619.7 68.4L619.0 68.9M606.5 75.9L606.2 76.8L606.0 77.6L606.1 78.5L606.9 78.8M613.5 79.6L614.3 80.2L615.1 80.5L615.8 81.0L616.0 81.9L616.9 82.0M614.8 67.0L614.2 66.3L613.4 66.0L612.9 65.3M611.5 72.1L611.2 72.9L611.4 73.8L611.2 74.7L611.4 75.6L611.2 76.4M607.4 77.8L607.9 78.5L607.3 79.2L606.5 79.1L605.8 78.5L604.9 78.6M620.3 75.5L621.1 75.6L622.0 76.0L622.8 75.6L623.2 74.8L622.6 74.1M624.9 73.1L625.5 72.4L626.0 71.7L626.8 71.3L626.9 70.4L626.9 69.5L627.1 68.6M608.9 71.7L608.1 72.0L607.3 72.5L606.7 73.1L606.1 73.8L605.5 74.5M629.8 74.9L629.9 75.8L630.8 76.1L630.7 77.0L631.4 77.5L632.1 76.9L631.8 76.1M620.6 77.1L620.7 78.0L621.1 78.8L621.9 79.2L622.7 79.6L623.5 79.1L623.9 78.3M615.6 70.3L616.1 69.6L616.9 69.2L617.8 69.1L618.6 69.5L619.3 68.9L619.2 68.0M619.7 79.9L620.6 80.3L621.4 80.1L621.6 79.2L620.9 78.6M618.0 79.6L618.8 80.1L619.5 79.6L620.0 78.8L620.8 78.4M615.0 80.5L615.4 81.3L616.0 82.0L616.9 81.9L617.7 81.6L618.2 82.4L617.6 83.1M626.2 65.7L625.7 66.4L625.3 67.2L625.1 68.1L624.6 68.9L623.9 69.4M616.8 66.4L617.1 65.5L617.8 64.9L618.5 65.4L618.3 66.3M605.7 71.9L606.2 71.2L606.4 70.3L605.8 69.6M620.1 66.7L620.9 66.3L621.8 66.5L622.4 65.8L623.2 66.3M623.5 63.9L623.4 63.0L622.6 62.6L622.0 63.2L622.0 64.1L621.4 64.7L620.6 65.0M607.5 69.1L608.1 68.5L608.9 68.8L609.8 69.1L610.6 68.7L610.7 67.8L611.0 67.0M614.7 65.5L614.9 64.6L615.2 63.8L616.1 63.6M623.1 71.0L622.3 70.6L621.5 71.1L621.1 71.9L621.5 72.7M619.8 64.7L618.9 64.5L618.2 65.1L618.0 65.9M611.0 79.7L611.7 79.2L612.5 78.7L613.0 77.9L613.8 77.5L614.6 77.8L615.5 77.9M615.1 76.1L614.8 77.0L615.1 77.8L616.0 77.9L616.9 77.7L617.6 78.3L618.5 78.5M630.2 69.0L629.4 68.7L628.6 68.3L628.4 67.4L627.9 66.6L627.1 66.4L626.3 65.9M625.7 66.7L625.9 65.8L625.2 65.2L625.0 64.3L625.3 63.5M618.6 66.1L617.9 66.8L618.1 67.7L618.6 68.4M620.5 66.0L620.9 65.2L621.3 64.4L620.6 63.8M609.9 69.5L610.1 70.4L610.3 71.2L609.7 71.8M606.8 73.0L607.0 73.8L607.6 74.4L607.5 75.3L607.3 76.2L606.6 76.8L606.1 77.6M629.8 69.2L629.9 70.1L630.5 70.7L631.2 71.3L632.1 71.4L632.9 71.0L633.6 70.5M607.4 75.9L607.7 76.8L608.4 77.3L609.1 76.8L610.0 76.5L610.9 76.3L611.6 76.8M616.8 73.9L615.9 73.7L615.1 74.2L614.2 74.2M626.4 77.9L626.0 78.7L626.0 79.6L625.5 80.3L625.2 81.2M626.5 75.8L627.4 75.7L627.8 76.6L628.6 77.0L629.0 77.8M604.9 75.3L605.5 76.0L606.0 76.8L605.6 77.6L605.2 78.4L605.8 79.1L605.8 80.0M622.9 79.5L622.3 78.8L621.4 78.9L621.2 79.8L621.0 80.6M617.4 70.7L616.8 71.3L616.6 72.1L615.7 72.6M615.6 79.6L616.2 80.3L617.0 80.0L617.9 80.1L618.2 79.2M606.9 76.5L606.2 75.9L605.4 75.5L604.7 76.0M618.8 68.0L617.9 68.2L617.0 68.4L616.2 67.9L615.3 67.8M618.0 73.7L618.8 74.3L619.6 73.9L620.5 74.0L620.6 74.9M605.4 73.5L606.3 73.5L606.9 72.8L607.4 72.0M621.4 63.4L621.6 64.3L622.1 65.1L622.2 66.0L621.4 66.5L621.7 67.4M623.1 71.6L622.8 70.7L622.4 69.9L623.0 69.2L623.8 68.9L624.6 69.4M610.4 70.4L609.6 70.1L609.1 70.9L609.6 71.6L610.5 71.7L611.3 71.2L612.1 71.7M621.5 79.6L621.6 80.5L620.9 81.1L621.2 81.9M626.5 72.3L626.9 73.1L626.4 73.8L627.1 74.5L627.8 75.0M621.1 64.4L622.0 64.2L622.9 64.0L623.6 63.5L623.5 62.6L623.0 61.8L623.6 61.2M623.1 72.9L623.0 72.0L622.2 71.6L622.0 70.7L622.6 70.0L622.0 69.2L621.2 69.6M613.3 68.5L612.7 67.9L611.8 67.9L610.9 67.6L610.6 66.8M610.2 67.0L610.1 67.9L609.5 68.6L608.7 68.9L608.0 68.3L608.0 67.4M614.0 68.3L613.2 68.6L612.6 68.0L612.2 67.1L611.4 66.9L610.5 67.2M617.6 69.5L618.5 69.7L618.9 70.5L619.5 71.2L620.1 71.9L619.7 72.7L620.1 73.6M617.8 76.8L618.0 75.9L618.8 75.4L619.4 74.8L620.3 74.6M624.6 70.7L624.8 69.8L625.1 69.0L624.6 68.2L624.8 67.3M613.8 65.3L613.0 65.7L613.2 66.6L614.1 66.6M628.3 75.9L628.9 75.3L629.8 75.1L630.7 75.2L631.0 74.4L631.9 74.1L632.1 73.2M607.2 69.8L606.4 69.3L606.5 68.4L607.1 67.8L607.6 67.1L608.5 67.3L609.2 67.8M607.6 74.6L608.3 75.2L608.6 76.0L609.1 76.8L609.7 77.4L609.5 78.3M626.4 73.4L627.2 72.9L628.0 72.5L628.8 72.1L629.2 71.3L628.6 70.6L627.7 70.4M615.6 68.4L615.7 69.3L615.3 70.1L614.5 70.6L613.6 70.5L613.4 71.4L614.1 72.0M621.6 64.5L620.8 64.1L620.6 63.2L620.2 62.5L620.6 61.7M626.9 66.9L626.8 67.8L625.9 68.0L626.0 68.9L626.8 69.3L627.5 69.9L628.2 69.4M614.8 68.7L615.1 69.6L614.7 70.4L614.8 71.3L614.0 71.6M621.9 75.7L621.1 75.9L620.4 75.4L619.7 74.8L620.1 74.0L620.1 73.1M610.3 73.2L611.2 73.3L611.8 72.6L612.7 72.4L613.3 71.7M612.6 72.1L613.4 71.6L614.2 71.9L614.9 72.5M619.4 71.9L619.9 72.6L619.3 73.3L618.4 73.3M607.9 78.4L608.4 79.1L609.2 79.5L610.1 79.3M615.9 78.0L616.8 78.0L617.1 77.2L618.0 77.2L618.4 78.0M628.9 66.8L629.7 67.2L630.3 67.9L630.1 68.7L630.9 69.2M614.7 78.9L614.5 79.8L615.1 80.4L615.9 79.9" stroke="#a020f0" stroke-width="0.85" stroke-linecap="round" stroke-linejoin="round" fill="none"/></g>
<clipPath id="dclip2"><path d="M620.00,58.00 C622.42,56.00 627.83,54.00 632.00,53.00 C636.17,52.00 640.67,51.67 645.00,52.00 C649.33,52.33 655.50,52.83 658.00,55.00 C660.50,57.17 659.83,61.17 660.00,65.00 C660.17,68.83 659.83,73.83 659.00,78.00 C658.17,82.17 657.33,87.45 655.00,90.00 C652.67,92.55 648.67,92.97 645.00,93.30 C641.33,93.63 636.50,93.22 633.00,92.00 C629.50,90.78 626.50,88.67 624.00,86.00 C621.50,83.33 619.08,79.50 618.00,76.00 C616.92,72.50 617.17,68.00 617.50,65.00 C617.83,62.00 617.58,60.00 620.00,58.00 Z"/></clipPath>
<g clip-path="url(#dclip2)"><path d="M639.0 92.0L639.8 92.3L640.5 91.8L641.0 91.0L640.6 90.2L641.2 89.5L642.0 89.2M629.1 80.4L629.7 81.0L630.6 81.4L631.5 81.2L632.3 81.0L632.2 80.1M658.4 63.4L658.7 64.3L659.5 64.7L660.3 65.2L661.1 64.8L661.1 63.9L660.4 63.3M649.9 80.9L650.7 81.2L651.2 82.0L651.7 82.7L652.0 83.6L652.3 84.4L652.8 85.1M638.9 92.4L638.0 92.6L637.3 92.0L636.5 91.5L635.8 91.0L635.1 90.4M652.5 73.3L652.2 74.1L651.5 74.7L650.7 74.3L649.8 74.2L649.0 73.9L648.6 74.8M640.4 71.6L639.8 71.0L639.9 70.1L639.2 69.5L638.4 69.9L637.9 70.6M622.2 76.4L622.1 77.3L622.8 77.9L623.7 78.0L624.3 77.4M649.4 76.1L649.4 77.0L650.0 77.6L650.0 78.5L650.1 79.4L649.5 79.9L649.1 80.8M655.1 74.0L654.5 73.3L653.7 73.0L653.5 72.1M639.9 67.0L640.3 67.8L640.7 68.6L639.9 69.1L639.0 69.2L638.2 69.3L637.3 69.1M623.6 83.5L624.1 82.7L623.9 81.9L624.0 81.0L624.2 80.1L624.9 79.6L625.1 78.7M645.5 59.1L646.3 59.6L647.2 59.7L647.6 60.5L648.4 60.8M623.4 70.5L624.3 70.4L624.9 71.1L624.9 72.0L624.1 72.3L623.4 71.6L623.7 70.8M657.0 80.7L656.7 81.5L656.2 82.3L655.4 82.7L654.6 82.4L654.0 83.1L653.2 83.5M649.7 87.6L650.6 87.9L651.5 87.8L652.0 88.5L652.0 89.4L652.5 90.2L652.2 91.0M630.7 68.3L630.1 67.6L630.0 66.7L630.5 65.9L631.2 65.5L632.1 65.3L632.7 64.6M637.9 71.3L638.5 70.5L638.0 69.8L638.2 68.9L639.0 68.7L639.3 67.8M659.1 66.5L658.3 66.2L658.0 65.3L657.6 64.5L657.8 63.6M635.1 62.0L634.2 61.9L633.5 62.4L633.1 63.2L633.4 64.0L633.9 64.8M633.9 86.8L634.0 87.7L634.7 88.3L634.3 89.1L633.4 89.0L632.9 89.7L632.9 90.6M643.5 75.1L642.9 74.4L642.0 74.5L641.1 74.5L640.5 73.8L639.6 73.9L638.9 73.2M627.2 85.6L627.2 86.5L627.9 87.1L628.7 87.4L628.9 88.2M640.3 62.1L639.4 61.9L638.6 62.2L637.7 62.1L637.1 62.7L637.3 63.6M635.7 78.1L635.9 77.3L636.8 77.1L637.7 77.3L638.1 78.1L638.0 79.0M650.2 71.4L650.9 72.0L651.7 72.4L652.2 73.1L652.0 74.0M649.9 90.2L649.3 89.5L648.6 88.9L648.3 88.1L647.5 87.9L646.6 87.7M636.2 66.7L636.7 67.5L637.5 67.7L638.4 67.5L638.8 66.7M633.2 77.3L633.6 76.5L633.5 75.6L633.8 74.8L633.9 73.9L633.2 73.3L633.3 72.4M635.8 88.8L636.5 88.2L636.9 87.5L637.8 87.1L638.6 87.3L639.2 88.1M634.3 55.6L635.1 55.8L635.9 55.4L636.8 55.1L637.3 54.4M647.8 54.4L648.6 54.7L649.5 54.5L650.0 55.3M657.4 75.4L657.4 76.3L657.1 77.2L656.5 77.9M619.9 58.3L619.0 58.5L618.1 58.5L617.3 58.1L616.5 58.0M640.0 85.7L639.5 86.4L639.1 87.2L638.2 87.3L637.3 87.4L637.2 88.3L637.5 89.1M657.5 73.1L656.6 73.3L655.9 73.9L656.2 74.7L656.4 75.6L657.2 75.9M648.0 73.9L648.7 73.4L649.5 73.0L649.5 72.1L648.7 71.6L647.9 71.2M628.0 75.3L628.9 74.9L629.5 74.3L630.0 73.6L630.9 73.8L631.4 74.5M649.1 73.8L649.5 73.0L650.3 72.6L651.2 72.4L651.5 73.2M643.8 59.6L644.1 60.4L643.6 61.1L643.9 62.0L643.4 62.8L642.5 63.0L641.6 63.0M648.3 82.7L649.0 82.0L648.8 81.1L649.5 80.5L650.3 81.0M627.1 85.1L626.3 84.8L625.5 84.4L624.7 84.9L623.9 85.2L623.2 84.6L623.0 83.7M627.2 57.6L626.6 56.9L625.8 57.4L625.1 57.9L624.2 58.0M626.3 62.4L626.8 63.1L626.5 64.0L626.6 64.8L626.8 65.7L627.3 66.5M643.9 60.8L643.4 60.1L644.0 59.4L644.3 58.6L645.1 58.1M649.7 67.6L649.7 68.5L650.3 69.2L651.2 69.1M648.6 77.2L648.4 76.3L647.5 75.9L647.3 75.1L648.0 74.6L648.7 75.2M651.1 67.5L650.4 67.9L649.7 67.3L648.9 67.7L648.7 68.5L647.8 68.7M636.5 79.8L636.0 79.1L635.1 79.3L634.3 79.6L633.6 80.2L632.7 80.3L632.1 79.7M643.0 58.7L642.7 59.6L643.3 60.3L643.9 61.0L644.3 61.8M642.2 83.0L641.6 82.4L640.7 82.4L640.0 81.8M633.3 69.3L633.7 70.1L634.1 70.9L634.7 71.6L634.2 72.3M631.4 83.4L630.7 82.8L630.2 82.1L629.3 81.9L628.8 82.7L628.8 83.6L628.9 84.5M645.2 89.6L645.2 88.7L644.8 87.9L644.0 87.6M625.6 70.3L625.5 71.2L626.4 71.5L627.3 71.5L628.1 71.9L627.9 72.8M628.9 85.2L628.9 84.4L628.8 83.5L629.2 82.6L629.6 81.8L630.5 81.6L630.5 80.7M647.7 74.5L648.6 74.6L649.1 75.3L650.0 75.4L650.9 75.5L651.6 74.9L652.4 75.3M651.2 61.6L651.8 62.3L651.3 63.1L651.7 63.8L652.6 63.6L653.5 63.7L654.4 63.7M635.4 53.0L634.8 52.3L634.9 51.4L634.5 50.6L633.9 50.0L633.2 49.5M633.6 87.1L634.0 87.9L633.3 88.5L632.5 88.0L631.7 87.6L631.1 86.9L630.2 86.9M630.3 53.9L631.2 54.1L632.1 54.0L632.6 54.8L632.0 55.4M626.4 63.9L625.9 63.1L625.1 62.9L624.3 62.5L623.4 62.4L622.6 62.8M630.3 83.8L629.7 84.5L629.4 85.3L629.3 86.2L629.9 86.9M654.4 83.2L653.6 83.6L652.7 83.3L652.2 84.1L651.3 84.1L650.5 84.5L649.9 85.2M651.3 83.4L650.6 84.0L650.3 84.8L651.1 85.3L650.8 86.2M641.3 90.8L641.1 89.9L640.8 89.1L640.2 88.4L639.3 88.5L638.7 89.2L637.8 89.0M642.7 87.1L643.6 87.2L644.5 87.5L645.2 87.9L645.1 88.8L645.4 89.7M628.4 73.2L629.2 73.6L630.1 73.6L630.9 73.2L631.1 72.4M627.8 72.9L627.4 73.8L627.8 74.5L628.4 75.2L629.2 75.7L630.0 76.1L630.9 75.8M643.6 73.6L644.0 72.8L644.9 72.7L645.3 71.9L645.3 71.0M651.0 55.3L650.1 55.3L649.3 55.7L649.4 56.6L649.1 57.4M653.5 74.0L653.7 74.9L654.1 75.6L654.1 76.5L653.6 77.3L652.7 77.5L652.4 78.4M636.3 68.0L636.7 68.8L637.4 69.3L637.6 70.2L638.4 70.5M621.5 80.1L622.2 79.5L623.1 79.4L623.4 78.5L623.1 77.7L623.5 76.9M642.5 92.3L641.9 93.0L641.5 93.8L640.6 93.8L639.9 93.1M631.2 68.9L631.1 69.8L630.2 70.0L629.3 70.1L629.0 70.9L629.0 71.8L629.4 72.6M643.0 76.1L643.9 76.0L644.8 75.9L645.7 76.0L646.3 76.7L646.7 77.5M651.5 59.6L651.5 58.7L652.3 58.3L652.9 58.9L653.8 58.9M621.1 78.9L622.0 79.3L622.1 80.1L621.3 80.7L620.6 80.1L619.7 80.1L619.5 81.0M656.0 87.0L656.6 86.4L656.4 85.5L655.5 85.2L654.7 85.4L653.9 84.9L653.0 84.8M642.5 58.2L642.8 57.4L642.1 56.9L642.0 56.0M619.1 75.8L619.7 76.4L620.4 77.0L621.3 77.0L622.1 76.9L623.0 76.6L623.9 76.4M629.3 86.9L630.0 86.3L630.9 86.5L631.7 86.2L631.7 85.3L632.5 84.9M647.9 61.6L647.0 61.6L646.8 60.7L646.7 59.8L647.6 59.6M643.9 85.0L643.3 85.7L642.7 86.3L642.3 87.2L641.8 87.9L642.0 88.7L641.3 89.3M625.4 81.9L626.3 81.7L626.5 80.9L626.0 80.1L626.2 79.2L626.8 78.5M621.0 73.0L621.9 73.1L622.8 72.9L623.4 73.5L623.7 74.4L624.6 74.7L625.2 75.3M637.3 91.4L637.3 92.3L637.9 93.1L637.8 93.9L638.6 94.2L639.4 93.7M646.5 62.7L645.7 62.3L644.8 62.6L643.9 62.4L643.0 62.5L642.3 63.0L641.5 62.9M654.3 81.9L655.0 81.3L655.8 81.1L656.3 80.4L656.1 79.5L655.8 78.6L656.3 77.9M628.0 60.6L627.4 59.9L627.8 59.2L628.6 58.7L629.3 58.1L629.1 57.2M647.6 61.4L646.8 61.2L645.9 60.9L645.3 61.5L645.4 62.4L645.9 63.2M639.4 76.9L638.6 76.5L637.8 77.0L636.9 77.0L636.5 76.2L636.5 75.3L636.9 74.5M630.3 77.7L631.1 78.0L631.9 77.5L632.6 78.1L633.5 78.1L634.3 78.3M643.5 59.5L643.2 60.4L642.3 60.5L641.8 59.8M654.0 69.2L653.8 68.3L652.9 68.2L652.8 67.3L652.2 66.7L651.6 66.0M652.7 89.8L652.2 89.0L651.5 88.4L651.3 87.6M627.4 61.5L627.2 62.3L626.3 62.3L625.5 61.8L625.1 61.0L625.1 60.1M643.2 70.7L643.1 71.6L642.3 71.9L641.9 72.8M646.4 85.1L645.7 84.5L644.9 84.3L644.7 83.4L643.9 83.0M625.2 78.5L626.1 78.6L627.0 78.6L627.5 77.9M631.5 63.7L630.6 63.8L629.9 63.2L629.1 63.6L628.5 64.2M651.5 63.5L651.0 62.8L650.3 62.2L649.7 61.5M634.4 88.1L634.9 87.4L635.8 87.4L636.2 88.2L635.9 89.1L636.4 89.8L636.1 90.7M638.1 65.0L637.3 64.9L636.4 64.8L635.8 65.5M641.1 69.7L641.7 69.1L641.6 68.2L640.7 68.0M649.3 60.1L648.9 59.3L648.0 59.4L647.2 58.9L647.4 58.1L647.3 57.2L646.5 56.7M630.0 81.8L629.7 82.7L629.4 83.5L630.0 84.2L630.8 84.0M646.5 72.6L645.8 73.0L644.9 73.2L644.1 72.8M632.1 87.1L632.6 87.8L633.0 88.6L632.3 89.2L631.4 89.1M643.6 87.7L644.4 88.1L645.3 88.4L645.3 89.3L645.7 90.1L646.6 89.8M628.1 56.9L627.3 57.4L627.4 58.3L626.9 59.0L626.4 59.7L626.4 60.6L625.9 61.4M642.4 85.5L643.2 85.8L643.8 85.2L644.5 84.5L645.2 83.9L645.9 83.4L646.7 82.9M638.8 68.0L638.6 68.9L638.7 69.8L638.9 70.7L639.6 71.3L640.5 71.2M649.3 68.0L649.5 68.8L649.8 69.7L650.0 70.6L650.6 71.2L650.5 72.1L650.8 72.9M647.2 62.2L646.4 62.5L645.6 62.0L644.7 61.8L644.4 60.9L643.7 60.4L644.1 59.6M658.0 68.4L658.9 68.4L659.4 69.1L659.6 70.0M650.8 77.9L650.4 77.1L649.5 76.9L648.7 76.7M651.3 64.2L650.9 65.0L650.8 65.9L651.0 66.8L651.8 67.1M648.1 73.6L647.8 72.7L648.3 71.9L649.2 71.9L650.1 71.7L650.9 71.4M628.9 60.9L628.2 61.4L627.3 61.6L626.5 62.0L626.4 62.9M647.1 82.6L647.8 82.1L648.7 82.3L649.6 82.3L650.0 81.5M646.8 90.4L647.4 89.7L648.2 90.1L649.1 89.9M636.6 87.5L636.4 88.3L637.2 88.7L637.9 89.3L638.6 89.9M641.2 78.3L642.1 78.5L642.9 78.9L643.7 79.2M623.4 83.9L623.9 84.6L624.7 85.2L625.5 85.5M635.4 79.9L636.1 80.5L636.0 81.3L635.6 82.1M646.5 57.8L645.6 57.6L644.7 57.5L643.8 57.3L643.7 56.4M656.1 57.4L656.5 56.6L656.1 55.7L656.7 55.0L657.5 55.3L658.2 55.9L658.6 56.7M651.1 79.4L651.8 80.0L651.6 80.9L650.7 80.9L649.8 80.6M650.7 55.4L650.5 56.3L650.6 57.2L651.0 58.0L650.3 58.5L649.4 58.3M657.2 71.1L658.1 71.0L658.5 71.8L658.3 72.7L658.3 73.6L658.2 74.5L657.5 75.1M629.5 67.4L628.7 67.8L627.8 67.6L627.2 68.3L627.2 69.2M639.8 91.4L639.5 92.2L639.0 93.0L638.3 93.5L637.6 94.1M638.3 77.8L639.1 78.2L639.9 78.6L640.3 79.4L640.7 80.2L641.1 81.0L641.7 81.7M636.8 89.9L637.6 90.3L638.0 91.1L637.8 91.9M648.9 58.8L649.7 59.2L649.9 60.1L649.1 60.5L648.2 60.1L647.6 60.8L646.9 60.3M657.7 78.7L657.5 79.5L657.7 80.4L656.9 80.9L656.0 80.7M647.7 76.7L648.2 77.5L648.5 78.3L647.7 78.8L647.0 78.1M622.4 62.9L621.5 63.0L621.2 62.1L621.2 61.2L620.6 60.6L620.0 59.9L619.1 60.0M618.0 71.5L617.3 71.0L616.4 71.3L615.5 71.5L615.4 72.4L616.0 73.0L616.1 73.9M642.8 69.9L642.5 69.0L642.7 68.2L643.3 67.5M647.6 88.1L647.5 87.2L646.7 86.8L645.8 86.8L645.6 87.7L644.7 87.9L643.8 88.0M657.1 65.4L656.2 65.5L655.9 64.7L656.4 63.9L656.1 63.1L656.2 62.2L657.0 61.8M630.6 88.9L631.4 89.3L631.8 90.1L632.6 89.9L633.5 89.7L634.2 89.2L634.5 88.3M645.6 52.9L646.2 52.2L646.7 51.5L647.6 51.2L648.3 50.7L649.1 50.1M656.9 60.6L656.3 61.3L655.6 61.8L655.0 62.5L654.2 62.8M623.6 69.9L623.4 69.0L622.6 68.7L621.8 69.1L621.0 68.8L620.2 69.3L620.3 70.2M626.1 62.1L625.7 62.9L624.9 63.3L624.0 63.6L623.1 63.6L622.2 63.6L621.3 63.7M626.1 68.6L625.2 68.8L624.3 68.8L623.4 68.7L623.0 69.5M639.3 63.3L640.0 63.8L640.1 64.7L640.2 65.6M618.8 74.9L619.6 74.5L620.3 73.9L620.2 73.0L619.7 72.3L618.9 72.0L618.0 72.2M620.0 70.0L620.3 70.8L619.9 71.6L619.6 72.5L619.6 73.4M641.5 67.6L642.1 68.2L642.5 69.0L643.4 69.2L643.7 68.3L644.5 68.0M628.1 86.3L628.0 87.2L628.0 88.1L627.3 88.7M637.8 82.2L637.1 82.8L636.5 83.4L635.7 83.0M636.6 90.7L635.8 90.9L635.2 90.2L634.3 90.2L634.0 91.1M633.4 53.3L633.7 52.4L633.1 51.8L632.3 52.2L631.5 51.9M650.9 69.4L651.1 70.2L650.5 70.9L650.8 71.8L651.1 72.6L651.8 73.2M634.2 83.8L635.1 84.0L636.0 84.3L636.2 85.1L635.6 85.8M643.8 69.9L643.0 70.3L642.2 70.6L641.3 70.6M627.9 74.4L627.1 74.8L626.2 75.1L625.6 74.5L625.5 73.6M629.9 74.4L629.0 74.4L628.6 73.6L627.7 73.8L626.8 73.8M628.6 56.7L628.4 57.6L629.1 58.1L630.0 57.8L630.9 57.9L631.8 58.1M642.5 87.4L642.9 86.6L643.8 86.5L644.1 85.7M625.8 62.6L626.3 63.3L627.1 63.7L627.1 64.6M619.7 71.9L619.3 72.7L619.9 73.4L620.5 74.0L621.4 74.0L622.2 74.4M640.2 69.6L639.4 69.9L638.5 70.0L637.8 69.4L636.9 69.1L636.7 68.3L636.2 67.5M635.1 65.3L634.7 66.1L633.8 66.2L633.0 65.7L632.4 66.4M639.1 66.8L638.3 66.5L637.4 66.7L636.5 66.8L635.7 67.1M651.3 76.7L652.2 76.7L652.5 77.5L652.8 78.4L653.4 79.0L654.2 79.4L654.9 78.8M656.2 77.2L656.7 78.0L657.6 77.9L658.3 77.4M649.1 82.6L648.4 82.0L648.0 81.2L648.5 80.4L648.6 79.5L648.5 78.6M622.9 82.3L622.5 81.5L621.7 81.0L621.3 80.2L620.5 79.8M622.3 76.0L622.5 75.1L622.0 74.3L621.2 74.6L620.5 75.2L619.9 75.8M652.8 86.6L652.8 85.7L652.5 84.8L652.1 84.0L652.0 83.1L651.5 82.4M654.1 82.2L654.7 81.6L655.1 80.8L655.2 79.9L656.0 79.6L656.5 78.8L656.1 78.0M659.3 71.2L659.3 72.1L660.0 72.7L660.6 73.3M617.7 66.1L616.8 66.3L616.0 66.7L615.2 67.1L614.6 67.7L614.8 68.6L615.3 69.3M633.2 89.4L633.5 90.2L632.7 90.7L631.8 90.8L631.5 89.9L631.4 89.0L630.8 88.4M639.3 53.8L638.8 53.1L639.1 52.2L639.3 51.3M637.2 75.4L637.0 76.3L636.5 77.0L636.5 77.9L636.8 78.8L637.7 78.8M649.2 55.7L648.4 56.3L647.6 56.4L646.7 56.2L645.8 56.3M627.1 69.3L627.9 69.6L627.9 70.5L628.6 71.0L628.4 71.9M628.5 76.0L627.9 75.3L627.5 74.5L628.0 73.8L628.9 73.8L629.2 74.6M650.1 86.9L649.4 86.3L649.7 85.5L649.6 84.6L649.1 83.8M653.5 56.8L653.7 57.6L654.0 58.5L654.6 59.2L655.4 58.9L655.6 58.0M629.7 73.1L630.0 72.2L629.6 71.4L628.7 71.4L627.8 71.5L627.5 72.3L626.6 72.4M646.5 61.2L646.9 62.1L647.4 62.8L648.3 62.6L649.0 63.3L649.4 64.1M647.5 57.8L647.9 58.6L648.8 58.8L649.5 59.4M654.2 57.8L653.4 57.4L652.8 56.7L652.6 55.8L652.0 55.2L651.5 54.4L652.2 53.8M642.0 83.3L641.1 83.3L640.2 83.5L639.4 83.9M629.5 84.8L629.8 83.9L630.6 83.5L631.5 83.5L632.3 83.1L632.5 82.2M628.0 86.7L628.7 87.3L628.8 88.2L629.1 89.1L628.9 90.0L629.7 90.5L630.3 91.1M634.4 52.9L633.5 53.1L632.7 53.4L631.8 53.6L631.0 53.1M622.1 72.6L622.1 71.7L621.3 71.4L621.5 70.5L621.2 69.6L621.7 68.9L622.5 68.4M624.3 67.2L625.2 67.1L626.0 67.5L626.1 68.4L627.0 68.6L627.1 69.5M634.8 59.5L634.0 59.1L633.1 59.2L632.3 59.5L631.4 59.5M633.5 78.5L633.0 79.3L633.2 80.1L633.1 81.0L633.0 81.9L632.8 82.8L632.8 83.7M629.5 89.0L628.6 89.0L628.0 88.3L627.1 88.0L626.6 88.8L626.2 89.6L625.3 89.9M651.0 60.9L650.7 61.7L650.7 62.6L650.1 63.3M644.0 83.7L644.8 84.1L645.2 85.0L644.7 85.8L644.0 86.3L643.3 85.8L643.3 84.9M658.4 60.5L658.7 59.6L659.2 58.9L658.7 58.1L657.9 58.4L657.1 58.8M648.4 90.9L647.9 91.7L647.8 92.6L647.6 93.5L646.7 93.8L646.8 94.7L647.3 95.4M641.2 71.2L640.5 71.8L639.8 72.3L639.1 71.7L639.2 70.8L638.4 70.3L637.6 70.4M626.8 58.6L626.1 58.0L625.9 57.1L626.4 56.4L627.3 56.4L627.7 55.6L628.6 55.6M623.5 76.5L623.1 77.3L622.8 78.1L622.2 78.8L622.3 79.6L623.0 80.1L623.1 81.0M645.2 68.1L644.6 68.8L644.6 69.7L643.8 70.1L643.3 70.8L642.8 71.6L641.9 71.6M644.0 90.4L644.8 89.9L645.7 90.0L646.0 89.2L645.9 88.3M655.9 82.9L655.1 82.3L654.4 81.9L654.1 81.0L653.3 80.5L652.7 81.1M651.3 58.3L652.2 57.9L652.1 57.0L652.9 56.6M629.7 79.4L630.6 79.0L630.5 78.1L629.7 77.9L628.9 78.4L628.0 78.6L627.1 78.5M631.4 56.6L631.5 55.7L632.4 55.6L633.0 56.3L633.5 57.0L634.4 57.0L635.2 57.5M625.7 74.7L624.9 75.0L624.0 74.7L623.4 74.1L622.5 74.1L621.6 74.2L620.7 74.2M651.7 76.8L652.6 77.1L653.2 76.5L654.0 76.1L654.9 76.2L655.2 77.0L655.9 77.6M633.4 80.3L632.8 81.0L632.0 80.6L631.3 80.0L631.1 79.2L630.6 78.4M622.2 61.0L623.0 61.4L622.9 62.2L622.2 62.8L621.4 62.4L621.2 61.6M639.3 70.6L640.0 70.1L640.8 69.8L641.4 69.1L642.3 69.3M628.8 68.4L629.1 67.6L629.0 66.7L629.5 65.9L629.9 65.1L630.1 64.2M654.5 66.3L654.3 65.4L655.1 65.0L655.6 64.2L656.1 63.5L656.9 63.2M634.7 91.7L634.9 92.6L634.6 93.4L635.1 94.1L635.0 95.0M632.0 56.8L632.2 57.7L631.5 58.3L630.6 58.3L629.9 58.8M632.0 57.1L631.1 57.2L630.4 57.8L630.0 58.7L629.7 59.5L628.9 59.4M649.6 56.7L650.4 56.5L650.6 55.6L651.0 54.8L650.3 54.3L649.4 54.5L648.7 54.0M650.4 64.2L651.2 63.8L651.1 62.9L650.2 62.9M632.0 84.9L631.3 85.5L630.4 85.6L630.3 86.5L631.0 87.0M651.2 66.0L651.3 65.1L652.1 64.5L652.2 63.7M636.2 86.7L636.0 85.8L636.4 84.9L637.2 84.6L638.1 84.8L638.9 84.4M625.6 70.9L626.4 71.2L627.2 70.9L628.1 70.9M634.1 60.3L633.9 61.1L633.9 62.0L633.1 62.4L632.4 63.0L632.0 63.8M653.3 70.1L653.0 70.9L652.9 71.8L652.6 72.7M625.4 86.3L625.1 87.1L625.6 87.9L626.5 87.9L627.3 88.2L627.9 87.6L627.7 86.7M619.9 67.8L620.7 68.3L621.4 67.7L621.4 66.9L621.7 66.0L622.4 65.5M642.3 65.7L642.5 64.9L643.3 64.5L643.4 63.6L643.2 62.7L644.0 62.3L644.7 62.8M642.8 53.7L643.6 53.3L644.5 53.5L645.2 54.0M644.1 88.4L645.0 88.7L644.8 89.6L645.5 90.2L645.3 91.1M635.8 54.5L635.7 53.6L636.2 52.9L636.8 52.2L637.7 52.1M636.1 84.1L635.9 83.3L635.0 83.4L634.5 84.1L635.0 84.9M635.6 83.6L636.5 83.5L637.4 83.3L638.3 83.3L639.1 83.8L638.9 84.7M655.1 60.1L654.3 60.3L653.4 60.2L652.8 60.9L651.9 61.2M633.2 64.1L633.1 63.2L633.1 62.3L632.4 61.7M655.2 63.2L655.2 62.3L655.8 61.6L656.6 61.7L657.1 61.0M633.9 73.4L634.8 73.2L635.5 73.8L635.8 74.7M650.6 70.6L650.5 71.5L651.0 72.3L651.9 72.0M626.5 69.9L625.9 70.6L626.4 71.3L627.3 71.3L627.5 70.5M630.0 84.6L630.6 83.8L631.4 83.8L632.3 84.2L633.2 84.1L634.0 83.8L634.9 83.7M621.5 75.2L622.0 75.9L622.5 76.6L622.7 77.5M635.5 91.7L636.4 91.8L636.6 92.7L637.5 93.0L638.1 92.3M623.9 78.7L623.3 79.4L622.4 79.1L621.8 79.8L622.2 80.6L621.8 81.4L621.5 82.3M624.8 68.2L624.6 69.1L625.0 69.8L625.9 70.1M653.8 65.3L652.9 65.2L652.2 64.6L651.6 63.9L650.8 63.7M633.7 88.6L634.3 89.3L635.1 89.6L635.9 90.1M624.5 82.9L625.4 82.6L626.3 82.7L626.6 81.9L627.1 81.1L628.0 81.4M626.8 61.1L627.5 61.7L628.1 61.1L628.9 60.6L629.8 60.8M638.5 71.1L639.2 71.7L640.0 71.5L640.3 70.6M648.7 84.8L648.3 85.6L647.6 86.2L646.7 86.1L646.0 85.5M647.0 82.4L646.3 81.9L645.4 81.7L644.5 81.5M657.0 63.6L656.6 62.8L656.7 61.9L656.5 61.0L655.8 60.4M646.8 71.0L647.5 70.6L648.4 70.9L648.6 71.7M648.4 73.8L648.9 74.4L649.0 75.3L648.1 75.7L647.2 75.7L646.6 76.4M638.4 61.2L637.9 60.4L637.5 59.6L636.6 59.7L636.1 60.4L635.6 61.1M633.2 62.3L632.3 62.1L631.9 61.3L632.5 60.6L632.9 59.8L633.6 59.2M624.4 58.0L625.2 57.8L625.8 58.5L626.7 58.6L627.0 57.7M655.5 55.4L656.1 54.8L656.9 55.2L657.8 55.1L658.6 55.5M638.1 76.0L637.4 75.5L637.1 74.6L636.4 74.0L635.5 74.2L634.9 73.5M635.9 81.7L636.7 82.0L637.5 82.4L637.6 83.3L637.7 84.2L637.4 85.0L636.7 85.7M658.8 59.4L658.0 59.2L657.4 58.5L656.5 58.4L655.7 58.7L655.1 59.4L654.2 59.7M631.0 88.4L630.6 89.2L630.8 90.1L630.1 90.5L629.8 91.4L630.3 92.2L630.3 93.1M646.0 52.4L645.1 52.6L644.3 52.1L643.9 51.3L643.0 51.1L642.3 51.6L641.4 51.9M656.8 70.8L656.0 71.3L655.3 70.8L654.8 70.0" stroke="#a020f0" stroke-width="0.85" stroke-linecap="round" stroke-linejoin="round" fill="none"/></g>
<clipPath id="dclip3"><path d="M613.60,104.00 C614.60,100.30 617.77,102.47 620.00,102.80 C622.23,103.13 625.33,103.80 627.00,106.00 C628.67,108.20 629.67,112.33 630.00,116.00 C630.33,119.67 630.00,124.28 629.00,128.00 C628.00,131.72 626.00,136.97 624.00,138.30 C622.00,139.63 618.67,138.22 617.00,136.00 C615.33,133.78 614.57,130.33 614.00,125.00 C613.43,119.67 612.60,107.70 613.60,104.00 Z"/></clipPath>
<g clip-path="url(#dclip3)"><path d="M626.9 123.3L626.1 123.6L625.3 123.2L624.7 122.5L623.8 122.7L623.2 123.3M620.4 107.8L620.4 106.9L619.9 106.2L619.2 105.7L618.5 105.0L617.8 104.6L617.0 105.0M617.9 118.1L618.8 118.0L619.7 117.8L620.6 117.9L621.1 117.1L621.8 116.6L622.5 116.0M622.4 107.3L621.7 107.9L620.8 108.1L620.3 107.3L620.5 106.4L621.1 105.8M629.6 117.0L630.1 116.3L631.0 116.4L631.2 117.3L631.8 118.0L631.5 118.8L631.6 119.7M626.7 121.0L626.8 120.1L626.8 119.2L627.3 118.5M623.8 133.9L623.1 134.5L622.5 135.1L622.2 136.0L622.1 136.9L622.9 137.4M625.7 118.9L625.4 118.1L624.6 117.6L624.7 116.7L624.0 116.1L623.2 115.6M622.4 126.0L623.2 125.7L624.0 125.3L624.6 125.9M626.0 122.2L625.7 123.0L625.3 123.8L624.9 124.6L624.7 125.5L624.3 126.3M616.8 105.0L617.0 104.2L617.3 103.3L617.4 102.4M621.0 133.6L621.9 133.7L622.5 134.3L622.3 135.1M624.7 118.7L624.7 117.8L625.1 117.0L625.9 116.6L626.7 116.2M626.5 107.2L625.8 106.6L624.9 106.7L624.0 106.7L623.1 106.7L622.4 106.1M618.1 109.6L617.2 109.8L616.6 109.1L616.1 108.4L615.7 107.6L616.3 106.9M617.5 123.8L616.6 123.6L616.3 122.8L616.8 122.0L617.3 121.3L618.2 121.0M617.2 120.2L617.9 120.7L618.7 121.2L618.8 122.1L619.7 122.2M627.9 117.6L627.1 118.0L626.6 118.7L625.8 119.2M623.4 132.5L622.6 132.2L621.8 132.5L621.9 133.4L621.9 134.3M625.3 109.2L625.7 108.4L626.0 107.5L626.7 107.1L627.0 106.2M623.8 105.0L624.6 105.4L625.5 105.6L626.4 105.7M626.5 122.4L626.6 123.3L626.7 124.2L627.1 125.0M621.7 137.0L622.6 136.8L622.7 135.9L622.4 135.1L622.6 134.2L622.7 133.3L623.4 132.8M625.8 131.4L625.0 131.1L624.2 131.7L623.4 132.0L623.2 132.8M617.7 115.8L616.8 115.7L616.3 114.9L616.7 114.1L616.9 113.3L616.1 112.9M618.7 116.4L618.2 115.7L617.3 116.0L616.8 115.2L615.9 115.2M622.7 120.8L623.4 120.3L624.1 119.8L624.9 119.3L625.6 118.8M625.3 134.6L626.0 134.0L626.9 134.2L627.7 134.6M627.1 127.7L628.0 127.9L628.9 127.6L629.3 128.4L629.0 129.3L628.2 129.5M624.6 128.1L625.4 127.9L626.2 127.5L627.1 127.9L627.5 128.7M627.6 111.8L627.0 112.4L627.1 113.3L626.2 113.6M614.1 113.0L613.7 113.8L612.8 113.8L611.9 113.6M624.0 135.9L624.7 135.3L625.5 135.9L626.4 135.8L626.8 136.6L626.7 137.5M624.7 112.3L624.7 111.4L624.3 110.6L623.4 110.3L622.6 109.9L622.5 109.0L622.4 108.1M621.8 115.7L622.7 115.9L623.3 115.2L623.6 114.4L623.1 113.6L622.2 113.6L621.5 114.2M624.1 119.3L623.6 120.0L622.9 120.6L622.6 121.4L622.8 122.3M626.4 127.5L626.3 126.6L626.2 125.7L627.1 125.4L627.9 125.2M623.3 122.3L622.9 123.1L622.0 123.4L621.6 124.2L620.7 123.9M623.9 126.5L624.8 126.1L625.3 125.3L625.6 124.5L626.3 124.0L627.1 123.6L627.7 124.3M614.9 122.0L615.5 122.7L615.6 123.6L615.3 124.4L615.2 125.3L614.5 126.0L614.0 126.7M621.1 114.1L621.6 114.9L622.4 115.3L623.2 115.0L623.8 114.4L623.9 113.5M615.5 122.1L614.6 122.0L613.9 121.5L613.1 122.0M623.7 120.7L623.0 121.2L622.4 121.9L622.3 122.8L621.9 123.6L622.0 124.5M627.1 114.6L626.2 114.9L625.5 114.4L624.6 114.0L624.1 114.7L623.2 114.9L622.3 115.2M616.5 105.1L616.8 106.0L617.1 106.8L617.5 107.6L618.3 108.1L618.9 107.5M627.5 127.5L627.8 128.3L628.6 128.7L629.4 128.3M624.7 118.1L625.5 117.7L626.4 117.7L627.2 117.3L628.1 117.5L629.0 117.5L629.3 118.4M623.9 108.4L624.2 107.6L624.6 106.8L623.9 106.1M621.7 111.4L620.8 111.2L619.9 111.1L619.5 111.9M617.8 134.9L617.5 135.7L616.6 135.9L615.8 135.6L615.0 136.0L614.1 135.8M619.0 115.0L619.8 115.4L620.3 116.2L621.1 116.6M618.3 113.3L619.2 113.7L619.3 114.6L620.0 115.2M624.9 121.2L624.8 120.4L625.6 119.9L625.8 119.0L625.5 118.2L626.1 117.5M620.9 127.3L620.3 126.6L619.7 125.9L618.9 126.3M617.2 132.1L618.0 131.8L618.6 131.1L619.4 130.6L620.1 130.1L620.8 129.5L620.4 128.6M618.4 126.7L618.3 127.6L617.4 128.0L616.5 128.0L616.1 128.8L615.2 128.7L614.3 128.8M629.0 116.4L629.6 117.1L629.7 118.0L629.3 118.8L629.3 119.7L628.4 120.0L627.6 119.6M624.9 129.2L625.7 129.7L625.6 130.6L625.5 131.5M627.9 118.3L628.4 119.0L629.1 119.6L630.0 119.2L630.0 118.3L629.6 117.5M617.9 123.0L617.0 123.1L616.3 122.7L615.6 122.0L615.3 121.2M619.0 114.7L618.4 114.1L617.5 113.9L617.0 114.7L616.3 115.2L616.6 116.0M628.5 117.4L628.1 116.6L628.0 115.7L628.0 114.8L628.8 114.4L629.5 113.8M629.7 117.9L628.9 118.3L628.8 119.2L628.5 120.0L629.1 120.7L630.0 120.6L630.9 120.6M629.4 123.2L630.0 123.8L630.3 124.7L630.6 125.5L631.0 126.3L630.4 126.9M628.9 122.2L628.4 121.5L628.2 120.6L627.6 119.9M615.8 121.8L615.2 122.5L614.8 123.3L615.0 124.2L614.2 124.7L613.4 124.2M625.7 109.4L626.6 109.2L627.1 109.9L627.1 110.8L626.3 111.3L625.9 112.0M629.1 123.1L629.7 123.7L630.6 123.7L630.9 124.6M617.6 116.7L617.7 117.6L618.1 118.4L617.6 119.1L617.6 120.0M616.3 109.4L616.3 108.5L615.6 108.0L614.8 107.6M627.8 116.2L627.5 117.0L627.2 117.9L626.4 118.1L625.5 118.3L625.2 119.1M625.7 132.1L625.6 133.0L624.8 133.4L623.9 133.1L623.3 132.4L623.9 131.7L624.8 131.7M627.9 113.0L628.6 113.6L628.8 114.5L629.2 115.3L629.6 116.1M626.7 132.2L626.1 131.6L625.2 131.8L624.8 131.0L623.9 131.2L623.0 131.5L623.1 132.4M622.2 107.6L622.2 106.7L621.5 106.1L620.9 105.4L620.0 105.4M627.6 127.1L628.2 126.4L629.1 126.2L629.7 125.6L630.6 125.2L630.7 124.3M617.3 106.5L617.4 105.6L617.3 104.7L617.2 103.8L617.2 102.9L617.9 102.3M627.4 113.5L626.8 112.8L626.1 112.2L625.2 112.0L624.6 111.3L624.2 110.5L623.7 109.8M615.9 123.6L615.9 124.5L616.0 125.4L616.7 126.0M620.9 125.5L620.4 126.3L620.8 127.1L620.1 127.6L619.2 127.7M628.9 119.6L629.3 120.3L629.0 121.2L628.3 121.7M623.0 107.8L623.9 107.6L624.6 107.1L624.9 106.2M622.6 136.5L621.8 136.2L621.0 135.7L620.2 135.5L619.3 135.9L618.7 135.2L618.2 134.5M620.5 120.7L619.9 120.1L619.1 120.5L619.1 121.4L619.5 122.1L620.1 122.8L621.0 123.2M619.5 119.9L619.6 119.0L619.1 118.3L618.5 117.6" stroke="#a020f0" stroke-width="0.85" stroke-linecap="round" stroke-linejoin="round" fill="none"/></g>
<clipPath id="dclip4"><path d="M659.00,75.00 C661.17,72.50 667.17,72.17 670.00,73.00 C672.83,73.83 676.00,76.83 676.00,80.00 C676.00,83.17 672.33,89.50 670.00,92.00 C667.67,94.50 664.17,95.67 662.00,95.00 C659.83,94.33 657.50,91.33 657.00,88.00 C656.50,84.67 656.83,77.50 659.00,75.00 Z"/></clipPath>
<g clip-path="url(#dclip4)"><path d="M660.4 80.7L660.9 81.4L660.9 82.3L660.4 83.1L659.6 83.5L659.3 84.4M670.8 77.6L669.9 77.6L669.0 77.6L668.5 78.3L667.6 78.3L666.7 78.5L665.9 78.0M671.0 85.5L671.4 84.7L672.0 84.1L672.9 84.2L673.0 85.1M662.4 79.8L663.1 80.4L663.4 81.2L663.1 82.1L662.9 82.9L662.4 83.7M667.9 74.1L667.0 74.3L666.8 75.2L667.4 75.9L667.8 76.7M662.5 85.2L662.1 86.0L662.5 86.7L663.4 87.0L664.3 86.7L664.8 87.5L665.6 87.7M661.7 88.2L661.9 87.3L662.5 86.6L663.3 86.3L664.2 86.1M669.4 87.0L669.7 87.9L670.5 88.4L671.3 88.1L671.5 87.2L671.4 86.3L672.2 85.9M659.5 78.2L658.6 78.0L657.8 78.3L657.0 78.7L656.2 78.2M661.0 92.2L661.4 93.0L662.2 92.9L662.9 92.3L663.6 91.7L664.5 91.8M660.6 90.0L661.0 89.2L661.8 88.9L662.5 88.3L662.1 87.5L661.6 86.7M662.3 80.9L663.2 81.1L663.5 80.2L664.0 79.5L664.9 79.5L665.5 78.8M662.5 91.5L663.4 91.5L663.9 92.2L664.1 93.1L664.4 94.0L665.1 94.4L665.8 95.0M660.9 79.5L661.1 80.4L660.6 81.2L660.6 82.1L659.9 82.7L659.2 83.1L659.4 84.0M672.8 85.1L673.4 85.8L673.0 86.5L672.3 87.1L672.0 88.0L671.1 88.1M663.8 82.9L663.0 83.2L662.4 82.5L661.9 81.7L661.3 81.1M667.4 91.0L667.4 90.1L668.2 89.8L669.1 90.0M674.2 79.6L675.1 79.9L675.5 79.1L675.1 78.3M662.3 74.5L661.7 73.8L661.0 73.2L661.4 72.5M663.4 80.0L662.8 80.7L662.1 81.3L661.5 81.9L661.7 82.8M671.0 85.4L671.9 85.7L672.7 85.5L673.6 85.3L673.7 84.4M669.3 75.8L669.0 76.6L669.1 77.5L669.9 77.8L670.4 78.6L671.3 78.6M660.2 76.0L661.1 76.1L661.9 75.6L662.1 74.8L661.8 73.9L662.3 73.2L663.2 73.0M673.6 83.2L674.2 83.9L674.4 84.7L675.3 85.0L675.8 85.7L676.7 85.7M675.1 79.8L674.3 80.3L674.6 81.2L674.3 82.1L675.0 82.7M662.2 87.9L663.0 88.2L663.8 87.6L664.5 87.1L664.5 86.2M665.1 76.3L664.3 76.6L663.4 76.7L662.9 75.9M669.9 80.1L669.0 79.9L668.8 79.0L669.3 78.2L670.0 77.7L670.2 76.8M658.9 83.1L658.0 83.1L657.5 83.8L656.6 84.2L655.9 84.7L655.1 85.1M663.8 75.7L663.2 76.4L663.5 77.2L664.3 77.6L665.0 77.0M668.9 87.3L668.5 86.5L668.2 85.7L668.4 84.8L667.7 84.3L666.8 84.4L666.2 83.7M662.2 91.9L662.6 91.1L663.4 90.6L664.1 91.1L664.2 92.0L665.0 92.4M664.3 83.3L663.8 82.6L662.9 82.3L662.1 82.4L661.9 83.3L661.7 84.2L662.1 85.0M658.8 82.9L659.5 82.4L659.5 81.5L658.8 80.9L658.4 80.1L658.6 79.2L659.3 78.7M667.0 81.3L667.9 81.5L668.6 80.9L669.5 81.0L670.4 81.0L671.0 81.7L671.7 82.2M668.6 73.6L667.7 73.7L667.2 74.5L666.7 75.2L666.6 76.1L667.5 76.4M658.7 86.6L658.0 86.1L657.1 86.5L656.3 86.4L656.1 85.5L655.4 84.9M666.1 82.1L666.2 82.9L666.5 83.8L666.5 84.7L665.6 84.9L664.8 85.3L664.2 84.6M664.6 76.2L663.8 76.2L663.0 76.8L662.1 76.6L661.6 77.3L661.6 78.2M666.9 85.2L666.8 86.1L667.7 86.4L668.2 85.6L668.8 84.9L669.6 85.2L670.2 85.8M670.9 86.5L671.0 85.6L670.8 84.7L671.0 83.8L670.3 83.4L669.5 82.8L668.7 82.6M665.2 75.5L664.7 76.2L664.1 76.8L663.2 76.8L662.3 77.0M664.7 79.2L665.0 80.1L664.3 80.6L663.5 80.3L662.8 79.8L661.9 79.9L661.2 80.5M662.3 86.0L661.4 86.3L661.3 87.2L660.6 87.7L660.6 88.6M667.6 81.7L667.1 82.5L667.7 83.2L667.7 84.1L668.6 84.4L669.5 84.4M664.8 85.8L665.7 85.8L666.0 86.7L665.4 87.4M672.8 76.8L672.8 75.9L673.6 75.5L674.1 74.8L674.9 74.3M670.7 84.5L670.3 83.7L669.5 83.3L668.7 82.8L668.2 82.1M659.6 89.8L660.0 90.7L659.7 91.5L659.7 92.4L659.5 93.3L658.9 94.0L658.3 94.7M662.0 88.8L662.4 89.7L662.1 90.5L662.9 91.0L663.5 91.7M662.4 84.8L663.3 84.5L664.1 84.0L664.0 83.1L663.6 82.3M664.8 81.2L664.2 81.9L663.8 82.7L663.3 83.5L663.1 84.4L662.5 85.0M660.0 89.4L660.7 90.0L661.0 90.8L661.4 91.6M673.7 78.6L673.0 79.2L673.3 80.0L674.0 80.5L673.8 81.4M666.8 81.0L666.2 80.3L666.2 79.4L666.6 78.6" stroke="#a020f0" stroke-width="0.85" stroke-linecap="round" stroke-linejoin="round" fill="none"/></g>
<clipPath id="dclip5"><path d="M664.00,96.00 C665.00,94.50 670.50,95.67 672.00,97.00 C673.50,98.33 674.00,102.50 673.00,104.00 C672.00,105.50 667.50,107.33 666.00,106.00 C664.50,104.67 663.00,97.50 664.00,96.00 Z"/></clipPath>
<g clip-path="url(#dclip5)"><path d="M670.8 100.9L670.0 101.3L669.2 101.8L668.5 102.2M671.8 100.2L672.7 100.3L672.9 101.1L673.5 101.8L674.4 101.8M665.3 98.2L664.9 97.4L664.7 96.5L665.0 95.7L665.2 94.8L665.9 94.2L666.0 93.3M666.9 101.2L666.7 100.4L667.1 99.5L666.5 98.8L666.5 98.0L667.0 97.2M668.6 104.3L667.7 104.3L666.9 103.8L666.7 103.0M668.4 98.8L667.7 99.4L667.0 98.9L666.1 98.8L665.4 99.4M670.5 101.4L670.0 102.2L670.5 102.9L670.7 103.8L671.5 103.9L672.2 103.3M668.3 104.7L669.2 105.0L669.2 105.9L668.8 106.7M665.5 97.7L666.3 98.2L667.2 98.3L667.8 97.6L668.0 96.7L667.9 95.8M665.7 103.9L664.8 104.2L664.0 103.8L663.3 103.3M671.6 103.4L671.2 102.6L670.4 102.3L669.8 103.0L669.1 103.6L669.2 104.5L669.4 105.4M666.9 104.7L667.5 105.4L667.3 106.2L667.8 107.0L668.5 107.5L669.4 107.3L669.6 106.4M665.7 97.4L665.2 98.2L665.7 98.9L666.6 98.7M668.3 102.2L668.7 103.0L669.6 103.1L670.5 102.9" stroke="#a020f0" stroke-width="0.95" stroke-linecap="round" stroke-linejoin="round" fill="none"/></g>
<path d="M571.2 113.5h0M571.8 115.7h0M569.2 117.4h0M570.6 113.9h0M567.7 114.9h0M571.5 114.3h0M570.2 113.9h0M568.8 115.3h0" stroke="#ffa500" stroke-width="1.6" stroke-linecap="round" fill="none"/>
<path d="M569.1 114.7h0M568.5 116.1h0M571.4 113.6h0M568.8 114.8h0M571.5 116.4h0" stroke="#ffa500" stroke-width="0.9" stroke-linecap="round" fill="none"/>
<path d="M569.1 113.4h0M569.6 115.9h0" stroke="#ffa500" stroke-width="1.3" stroke-linecap="round" fill="none"/>
<path d="M589.2 127.8h0M593.4 127.4h0M586.1 129.5h0M602.8 132.1h0M608.0 135.1h0M607.1 130.8h0M603.1 134.7h0M583.1 139.6h0M583.4 140.8h0M582.4 138.8h0" stroke="#a020f0" stroke-width="1.6" stroke-linecap="round" fill="none"/>
<path d="M589.9 130.2h0M587.2 130.2h0M586.9 131.0h0M595.6 128.8h0M599.8 135.1h0M586.4 140.4h0M583.8 137.8h0" stroke="#a020f0" stroke-width="1.3" stroke-linecap="round" fill="none"/>
<path d="M585.5 131.7h0M594.9 130.1h0M590.0 128.3h0M586.5 131.3h0M588.4 128.6h0M605.8 135.7h0M601.9 128.5h0M606.0 126.5h0M606.2 137.0h0M605.8 134.7h0M602.6 138.0h0M605.9 132.8h0M602.0 137.3h0M600.6 131.8h0M604.1 135.4h0M583.6 142.0h0M585.1 141.3h0M586.0 140.3h0M584.4 137.5h0M583.8 137.9h0" stroke="#a020f0" stroke-width="0.9" stroke-linecap="round" fill="none"/>
<path d="M602.6 130.7h0M607.9 130.1h0M602.2 133.5h0M609.3 130.4h0M607.0 130.7h0M606.4 133.4h0M602.5 129.6h0M604.7 126.1h0M606.4 126.7h0M602.6 128.1h0M605.0 127.6h0M604.5 131.3h0M602.5 131.9h0M606.1 133.5h0M600.6 128.7h0M607.9 126.6h0M603.3 128.1h0" stroke="#9acd32" stroke-width="1.3" stroke-linecap="round" fill="none"/>
<path d="M607.2 128.2h0M602.7 127.8h0M602.7 127.8h0M605.7 128.8h0M603.7 128.7h0M603.1 131.6h0M604.8 132.0h0M606.8 131.8h0M603.0 130.8h0M605.0 129.2h0M605.9 131.5h0" stroke="#9acd32" stroke-width="0.9" stroke-linecap="round" fill="none"/>
<path d="M605.4 129.1h0M606.2 126.2h0M606.2 126.7h0M605.2 125.5h0M609.1 132.4h0M602.8 126.5h0M603.7 128.1h0M605.6 134.6h0M603.8 133.4h0M605.8 129.9h0M607.6 132.4h0M606.6 128.8h0" stroke="#9acd32" stroke-width="1.6" stroke-linecap="round" fill="none"/>
<path d="M601.7 133.8h0M604.8 135.9h0M605.3 136.0h0M605.6 135.4h0M603.5 132.2h0M603.8 135.4h0M602.1 137.7h0M602.4 134.3h0" stroke="#ff00ff" stroke-width="0.9" stroke-linecap="round" fill="none"/>
<path d="M605.5 138.7h0M605.6 133.4h0M603.8 136.8h0M605.6 135.0h0M603.3 138.6h0M606.0 136.1h0M602.5 136.8h0M607.9 136.1h0M602.5 135.2h0M606.4 135.9h0M607.4 135.0h0" stroke="#ff00ff" stroke-width="1.6" stroke-linecap="round" fill="none"/>
<path d="M602.9 133.1h0M604.4 136.8h0M603.2 137.2h0M607.3 136.2h0M604.5 135.7h0M602.1 135.3h0M605.9 134.2h0M603.5 133.6h0M607.4 135.3h0M605.2 133.7h0M604.7 136.2h0" stroke="#ff00ff" stroke-width="1.3" stroke-linecap="round" fill="none"/>
<path d="M600.3 102.7h0M599.6 92.7h0M606.1 105.2h0M598.0 104.8h0M606.9 108.8h0M610.2 103.1h0M608.8 97.8h0M598.2 98.4h0M605.0 97.0h0M608.1 104.1h0M604.5 98.1h0M604.0 108.5h0M609.6 100.9h0M603.6 92.3h0M605.2 109.3h0M605.1 95.5h0M606.1 105.4h0M604.1 101.8h0M602.0 104.8h0" stroke="#ffffff" stroke-width="0.8" stroke-linecap="round" fill="none"/>
<path d="M603.0 95.2h0M608.6 101.8h0M604.3 109.6h0M602.9 93.1h0M608.9 103.0h0M605.6 92.1h0M602.7 103.5h0M600.8 101.1h0M600.7 99.0h0M610.6 101.0h0M609.5 93.8h0M600.8 99.0h0M604.3 108.8h0M606.2 101.7h0M601.7 107.0h0M602.4 99.3h0M606.4 94.5h0M606.7 97.6h0M598.9 98.1h0M605.9 97.2h0M608.5 97.8h0" stroke="#ffffff" stroke-width="1.1" stroke-linecap="round" fill="none"/>
<path d="M627.6 117.4h0M626.2 114.0h0M645.8 110.6h0M626.9 113.4h0M628.4 111.9h0M637.4 118.8h0M640.6 126.3h0M629.7 106.4h0M640.0 104.7h0M640.3 117.9h0M636.9 116.8h0M653.4 115.8h0M643.4 124.0h0M643.9 91.3h0M646.1 101.4h0M629.9 125.9h0M641.9 100.6h0M634.9 124.8h0M646.1 123.0h0M651.5 97.0h0M640.6 94.1h0M640.4 91.7h0M630.4 118.9h0M630.7 96.9h0M655.7 104.9h0M646.4 98.5h0M632.9 95.0h0M637.3 116.8h0M639.0 107.8h0M639.9 91.4h0M641.6 109.1h0M642.7 128.6h0M655.0 110.6h0M639.2 124.9h0M639.8 122.7h0M640.9 127.4h0M629.2 123.2h0M627.6 118.7h0M655.9 118.5h0M628.8 115.7h0M652.2 98.3h0M644.3 108.8h0M648.7 101.6h0M654.8 113.1h0M644.6 108.6h0M656.1 105.5h0M640.8 112.3h0M642.7 122.9h0M632.3 106.6h0M648.9 103.2h0M641.4 121.0h0M638.7 102.2h0M641.7 117.6h0M644.9 109.5h0M657.3 115.2h0M640.0 130.4h0M627.6 106.9h0M629.1 100.6h0M647.1 106.7h0M654.8 111.0h0M638.2 106.7h0M649.8 109.6h0M642.0 120.0h0M652.6 118.8h0M642.7 107.9h0M654.4 122.2h0M649.7 108.5h0M644.5 109.6h0M645.7 100.4h0M655.8 99.9h0M655.1 100.6h0M652.2 97.1h0M656.9 115.4h0M657.3 105.3h0M651.1 122.2h0M652.1 117.5h0M651.6 123.2h0M629.3 103.6h0M638.1 117.2h0M642.6 105.7h0M646.4 113.3h0M635.4 115.0h0M638.4 95.9h0M647.7 106.6h0M633.7 124.8h0M626.8 115.5h0M634.7 117.5h0M649.0 126.0h0M658.2 108.1h0M641.8 129.9h0M672.5 63.4h0M668.0 60.9h0M670.6 65.8h0M667.4 72.5h0M673.3 70.6h0M661.2 68.1h0M664.0 70.6h0M672.6 60.9h0M680.7 65.9h0M668.7 57.2h0M676.4 57.5h0M668.8 60.6h0M664.8 57.5h0M664.1 55.6h0M667.8 66.3h0M673.9 61.6h0M679.2 58.1h0M669.0 61.6h0M677.6 62.6h0M659.3 59.4h0M666.8 63.9h0M664.1 71.8h0M679.7 65.9h0M677.6 69.7h0M664.3 65.5h0M662.0 69.8h0M661.3 59.3h0M667.6 63.5h0M675.0 57.5h0M665.2 70.6h0M672.1 62.8h0M670.6 71.2h0M678.6 59.8h0M662.2 69.9h0M677.9 60.6h0M663.6 65.5h0M661.7 63.3h0" stroke="#a020f0" stroke-width="1.8" stroke-linecap="round" fill="none"/>
<path d="M648.6 118.7h0M645.6 98.6h0M640.4 125.8h0M652.1 113.2h0M639.8 97.3h0M632.9 105.2h0M648.7 100.3h0M654.8 121.4h0M629.7 118.8h0M633.8 93.8h0M625.9 110.6h0M638.5 116.3h0M653.2 120.5h0M649.8 100.6h0M638.5 129.4h0M633.1 121.3h0M643.7 107.0h0M648.7 122.4h0M635.7 117.9h0M628.4 111.6h0M648.8 110.2h0M634.8 99.0h0M645.6 107.2h0M645.8 105.1h0M629.5 101.4h0M637.1 103.8h0M650.9 95.1h0M648.1 118.0h0M652.9 108.8h0M645.6 101.0h0M626.8 119.8h0M638.3 92.5h0M629.9 124.0h0M644.2 120.7h0M650.6 101.3h0M645.0 104.4h0M632.8 123.2h0M637.6 117.5h0M653.4 123.5h0M635.9 121.5h0M651.2 94.6h0M641.4 125.4h0M645.3 119.0h0M642.9 124.3h0M631.5 125.5h0M642.5 104.2h0M645.6 118.0h0M634.9 107.6h0M627.9 115.0h0M653.4 101.3h0M626.8 112.3h0M652.5 120.6h0M652.8 123.7h0M638.8 97.3h0M644.9 123.4h0M627.6 113.8h0M634.1 106.1h0M626.8 109.4h0M628.1 108.2h0M627.7 102.3h0M628.8 106.4h0M637.1 92.8h0M635.5 126.2h0M651.5 109.6h0M645.6 98.5h0M633.7 93.2h0M655.5 109.8h0M631.8 109.2h0M652.0 117.7h0M650.8 101.6h0M626.0 115.6h0M634.8 108.3h0M634.4 122.5h0M635.9 113.3h0M635.1 115.3h0M645.7 119.8h0M630.2 104.0h0M650.3 120.4h0M642.9 109.4h0M650.9 97.9h0M630.8 126.6h0M639.9 94.0h0M629.5 125.1h0M646.4 96.3h0M640.0 96.6h0M640.6 118.2h0M644.6 100.8h0M640.5 123.0h0M640.2 123.8h0M646.1 127.5h0M632.1 101.5h0M641.6 94.6h0M655.8 110.0h0M632.1 110.1h0M647.4 95.1h0M655.1 113.8h0M646.2 105.4h0M636.8 107.0h0M647.8 101.4h0M644.3 119.2h0M634.9 122.8h0M650.1 100.0h0M635.1 109.6h0M643.6 111.2h0M673.0 55.2h0M674.6 59.9h0M675.0 58.5h0M665.7 61.1h0M674.4 67.9h0M676.9 59.7h0M662.4 68.3h0M670.3 54.4h0M671.1 70.1h0M663.8 61.7h0M667.2 63.0h0M671.1 58.2h0M678.2 56.0h0M668.9 71.8h0M672.7 60.6h0M678.7 65.0h0M663.0 68.3h0M672.3 62.3h0M660.3 68.5h0M673.3 62.9h0M668.8 68.6h0M662.8 60.3h0M676.5 58.9h0M679.4 55.8h0M676.0 58.4h0M672.3 72.8h0M681.1 59.8h0M663.5 70.8h0M663.3 59.6h0M679.4 69.5h0M675.1 72.2h0M662.2 57.6h0M663.8 71.5h0M670.6 62.4h0M672.0 70.8h0M677.6 70.1h0M662.8 59.6h0M665.7 69.9h0M671.9 60.7h0M668.8 55.1h0" stroke="#a020f0" stroke-width="1.0" stroke-linecap="round" fill="none"/>
<path d="M648.4 96.7h0M645.5 99.3h0M646.4 97.6h0M646.3 114.3h0M650.7 106.3h0M636.7 121.9h0M635.3 120.4h0M633.1 111.6h0M626.6 118.7h0M629.7 117.8h0M645.2 119.8h0M629.9 125.2h0M637.6 117.9h0M655.1 120.7h0M626.4 111.1h0M633.9 104.6h0M646.6 111.5h0M643.7 104.8h0M644.2 122.1h0M631.0 115.5h0M638.0 128.2h0M639.7 124.7h0M646.8 121.2h0M639.7 107.4h0M650.4 101.2h0M653.3 105.9h0M641.7 92.5h0M650.0 122.9h0M629.2 123.2h0M640.8 126.8h0M643.4 103.3h0M646.0 113.4h0M645.0 93.9h0M628.8 99.7h0M640.5 102.6h0M637.7 95.5h0M656.9 113.5h0M632.1 115.5h0M631.1 117.1h0M648.6 117.4h0M642.9 97.4h0M651.6 117.5h0M654.4 114.4h0M636.0 123.8h0M633.8 109.6h0M643.6 104.8h0M651.3 109.8h0M653.9 106.3h0M633.0 104.7h0M655.0 120.7h0M640.3 130.5h0M644.1 123.3h0M637.2 118.0h0M651.6 106.4h0M638.4 99.3h0M628.8 99.3h0M639.8 109.6h0M653.7 108.9h0M639.6 113.5h0M645.0 102.5h0M647.1 113.5h0M640.6 97.9h0M645.3 106.3h0M647.4 119.0h0M641.0 110.8h0M627.6 102.8h0M640.7 125.0h0M635.3 96.1h0M648.0 124.5h0M642.1 111.8h0M652.1 115.4h0M636.0 98.4h0M651.5 99.0h0M648.5 127.8h0M640.0 123.8h0M653.1 117.5h0M652.3 122.3h0M635.7 126.6h0M640.5 96.0h0M649.4 127.2h0M630.2 106.0h0M655.8 104.3h0M656.5 101.2h0M637.9 104.3h0M635.8 119.4h0M629.2 98.7h0M643.3 97.2h0M649.5 117.1h0M653.7 120.4h0M648.0 106.3h0M640.1 105.3h0M643.3 129.4h0M643.2 95.4h0M627.0 111.6h0M633.2 125.6h0M649.4 99.7h0M635.1 109.8h0M629.1 106.7h0M668.8 54.4h0M667.3 57.7h0M660.5 58.9h0M668.4 70.6h0M671.6 70.8h0M666.6 61.6h0M672.0 60.9h0M671.5 67.5h0M678.8 63.1h0M675.6 70.4h0M672.9 70.3h0M659.2 61.2h0M668.1 72.6h0M671.1 70.7h0M674.4 67.6h0M671.2 71.2h0M679.9 56.1h0M677.5 55.8h0M660.2 65.6h0M665.8 55.5h0M662.8 68.0h0M674.0 69.1h0M672.1 58.1h0M666.9 72.5h0M664.3 65.3h0M663.7 68.9h0M664.0 59.8h0M670.5 62.8h0M668.2 58.3h0M672.0 55.4h0M669.5 60.4h0M675.8 58.8h0M664.8 59.8h0M668.4 62.9h0M670.8 67.4h0M666.4 65.7h0M671.3 55.2h0M668.0 62.8h0M680.3 58.5h0M671.8 58.5h0M670.1 70.2h0" stroke="#a020f0" stroke-width="1.4" stroke-linecap="round" fill="none"/>
<path d="M632.6 112.3h0M646.9 99.4h0M627.3 110.0h0M645.6 128.7h0M637.1 121.8h0M634.6 114.9h0M652.3 125.0h0M634.3 126.4h0M649.3 99.8h0M657.2 109.9h0M644.8 105.4h0M634.1 95.8h0M655.3 116.6h0M649.6 96.2h0M652.4 114.3h0M634.7 99.8h0M650.4 119.6h0M639.5 102.6h0M672.7 61.4h0M673.2 64.7h0M674.3 64.7h0M665.5 57.1h0M665.4 63.2h0M678.4 64.6h0M677.8 64.9h0M667.5 60.9h0M662.6 63.0h0M670.0 72.3h0" stroke="#ffa500" stroke-width="1.0" stroke-linecap="round" fill="none"/>
<path d="M646.5 113.8h0M653.3 103.7h0M655.8 120.0h0M641.7 123.6h0M650.5 112.7h0M642.9 107.7h0M640.6 124.3h0M637.2 129.1h0M629.7 118.7h0M632.5 94.6h0M646.2 106.8h0M629.2 109.7h0M656.7 108.0h0M644.2 107.5h0M635.6 94.6h0M634.3 104.8h0M662.0 60.1h0M673.0 70.5h0M659.9 67.4h0M661.6 62.6h0M667.4 68.5h0M668.7 58.5h0M674.0 62.9h0M669.5 62.2h0M666.7 55.5h0M664.3 66.5h0M665.9 64.4h0M666.2 57.9h0" stroke="#ffa500" stroke-width="1.4" stroke-linecap="round" fill="none"/>
<path d="M642.9 90.9h0M649.9 122.6h0M647.4 116.8h0M632.2 99.8h0M646.4 110.0h0M637.7 126.4h0M632.0 99.6h0M634.3 120.6h0M653.9 118.5h0M636.4 113.7h0M652.8 123.6h0M668.1 55.6h0M680.3 62.3h0M660.0 58.3h0M671.9 61.6h0M667.7 56.5h0M676.0 67.0h0M672.8 57.1h0M664.9 70.9h0" stroke="#ffa500" stroke-width="1.8" stroke-linecap="round" fill="none"/>
<path d="M635.0 124.0h0M637.7 94.5h0M627.3 117.7h0M654.4 103.1h0M632.5 101.8h0M632.8 115.6h0M636.7 108.6h0M635.3 126.5h0M649.9 103.3h0M631.3 104.6h0M654.4 108.2h0M652.7 103.0h0M653.5 98.8h0M649.0 100.7h0M639.4 99.3h0M628.1 108.6h0M652.1 103.8h0M627.2 112.0h0M641.3 128.0h0M629.6 99.5h0M649.8 126.4h0M653.0 105.1h0M626.9 114.3h0M674.2 56.1h0M671.0 56.7h0M679.8 62.1h0M663.1 69.7h0M667.4 69.4h0M670.6 69.2h0M667.2 60.4h0M664.5 64.0h0" stroke="#eee6f6" stroke-width="1.8" stroke-linecap="round" fill="none"/>
<path d="M636.6 121.1h0M646.9 113.4h0M644.6 103.3h0M640.0 97.5h0M645.1 127.5h0M643.3 126.2h0M641.6 108.7h0M643.2 116.7h0M650.3 98.1h0M635.2 100.8h0M633.9 94.0h0M643.1 112.7h0M643.1 117.1h0M651.0 97.4h0M645.9 98.1h0M632.9 102.8h0M643.1 121.5h0M632.6 125.8h0M641.5 90.8h0M635.7 102.5h0M641.5 114.6h0M637.8 114.2h0M669.3 54.1h0M659.1 59.1h0M662.2 59.6h0M670.0 60.5h0M671.6 73.3h0" stroke="#eee6f6" stroke-width="1.4" stroke-linecap="round" fill="none"/>
<path d="M636.8 100.6h0M650.6 97.2h0M628.7 99.4h0M646.0 118.0h0M631.3 98.0h0M636.2 117.6h0M638.9 92.2h0M633.3 126.8h0M646.4 93.2h0M646.9 108.8h0M673.9 60.8h0M673.3 60.3h0M664.7 65.3h0M674.7 72.9h0M672.1 60.9h0M666.1 61.6h0M666.5 59.4h0M662.0 63.2h0M676.6 68.8h0" stroke="#eee6f6" stroke-width="1.0" stroke-linecap="round" fill="none"/>
<path d="M540.3 138.5L540.5 137.3L540.5 136.1L541.4 135.4L542.1 134.4M536.0 137.3L535.8 136.2L536.2 135.0L536.0 133.8L536.7 132.9M543.5 150.1L542.7 149.2L541.5 149.3L540.3 149.4L539.3 150.0M544.3 145.1L545.4 145.5L546.1 146.4L546.6 147.5L547.6 148.1M536.3 149.7L536.8 150.8L537.6 151.7L538.1 152.8L538.0 154.0M547.3 145.7L546.3 145.1L545.1 145.0L544.2 145.8L543.1 146.2M543.6 152.0L542.4 152.3L541.2 152.4L540.4 151.5L540.1 150.3M542.2 137.4L543.4 137.3L544.5 137.9L544.6 139.1L544.9 140.3M537.1 133.8L538.0 133.0L539.2 132.8L540.2 132.1L541.4 131.9M544.5 147.1L544.4 145.9L544.8 144.8L545.1 143.6L545.5 142.5M547.4 144.0L548.2 143.1L548.7 142.0L548.2 140.9L547.0 140.7M538.9 148.0L540.1 147.8L541.2 148.3L542.3 148.7L543.5 148.8M547.6 139.7L547.0 140.7L545.9 141.2L544.7 141.6L543.5 141.7M540.5 140.8L541.1 141.8L542.3 142.0L543.4 142.4L544.3 143.3M548.0 137.2L546.8 136.9L546.4 135.8L546.5 134.6L547.5 133.9M538.2 150.1L537.1 150.5L536.4 151.4L535.4 152.2L535.3 153.4M538.5 151.6L539.7 151.9L540.2 152.9L540.0 154.1L540.4 155.2M542.8 139.5L542.2 140.5L541.9 141.7L540.9 142.4L539.8 142.1M539.4 134.2L538.8 133.2L538.0 132.3L536.8 132.4L535.8 133.2M536.0 143.4L536.8 142.5L537.0 141.3L536.4 140.3L535.9 139.2M547.9 150.7L548.4 151.8L548.3 153.0L548.1 154.2L548.5 155.3M542.3 133.9L542.7 132.8L542.9 131.6L543.4 130.5L544.5 129.9M547.3 148.9L548.5 148.9L549.5 149.6L550.5 150.3L551.7 150.2M545.5 148.5L546.4 149.3L546.8 150.4L546.1 151.4L545.2 152.2M540.7 144.6L541.0 145.8L541.5 146.9L542.0 148.0L542.4 149.1M545.3 138.3L545.7 139.4L546.3 140.5L547.5 140.6L548.0 141.7M543.3 151.6L544.5 151.3L545.4 150.6L545.4 149.4L544.9 148.3M538.9 141.2L538.3 140.2L538.4 139.0L538.7 137.8L539.1 136.7M601.0 87.6L607.0 88.0L611.0 91.5M613.0 103.0L612.0 109.0L608.0 113.5" stroke="#a020f0" stroke-width="1.0" stroke-linecap="round" stroke-linejoin="round" fill="none"/>
<path d="M609.0 143.0L612.0 142.0L614.0 144.5L612.0 147.0L610.0 146.0L611.0 149.5" stroke="#a020f0" stroke-width="1.2" stroke-linecap="round" stroke-linejoin="round" fill="none"/>
<path d="M639.6 118.1h0M638.6 72.3h0M659.1 113.1h0M629.0 131.4h0M621.4 139.3h0M621.9 135.0h0M626.7 116.3h0M615.9 75.1h0M631.4 120.8h0M618.3 83.7h0M609.2 95.7h0M656.0 64.4h0M644.0 80.4h0M610.1 81.0h0M671.2 75.2h0M613.7 105.3h0M645.2 59.1h0M636.6 121.2h0M618.9 111.8h0M603.9 105.5h0M645.8 73.1h0M639.4 127.1h0M657.3 113.8h0M658.5 96.8h0M609.0 67.3h0M663.1 65.1h0M619.0 130.7h0M661.5 96.5h0M654.8 52.5h0M649.7 88.9h0M625.6 87.1h0M644.1 73.8h0M632.0 68.9h0M603.8 109.1h0M607.6 131.5h0M646.8 119.5h0M641.6 99.1h0M664.9 98.7h0M647.9 78.6h0M661.8 62.0h0M632.1 136.0h0M655.9 60.6h0M620.0 84.8h0M606.8 123.5h0M604.0 68.7h0M664.1 50.2h0M661.3 62.9h0M621.7 115.0h0M615.8 74.3h0M670.4 84.4h0M603.5 120.9h0M608.0 129.8h0M616.3 126.7h0M633.5 101.7h0M609.9 132.6h0" stroke="#ffa500" stroke-width="1.3" stroke-linecap="round" fill="none"/>
<path d="M650.9 89.9h0M642.1 119.6h0M678.1 73.5h0M645.6 105.2h0M624.8 98.5h0M610.5 96.9h0M626.8 72.5h0M633.0 91.6h0M663.3 113.2h0M672.3 70.3h0M611.2 139.3h0M682.9 67.5h0M660.6 51.0h0M654.2 88.0h0M605.6 87.5h0M615.8 99.0h0M639.7 75.2h0M646.9 107.1h0M638.5 114.0h0M668.4 77.4h0M636.7 79.3h0M630.0 106.8h0M616.7 113.2h0M632.9 56.4h0M644.0 78.8h0M625.7 102.9h0M667.0 69.1h0M619.7 128.7h0M663.9 108.7h0M661.6 111.3h0M658.4 69.0h0M615.8 76.8h0M635.1 135.5h0M614.3 104.3h0M632.1 58.6h0M648.8 120.2h0M614.1 111.5h0M638.1 71.4h0M604.5 86.8h0M649.1 51.9h0M625.3 110.6h0M676.8 56.8h0M667.1 58.2h0M629.8 125.4h0M647.9 127.0h0M604.6 108.9h0M618.1 108.4h0M663.7 60.6h0M647.5 64.1h0M659.1 86.5h0M662.1 77.7h0M662.9 75.5h0M664.2 55.4h0M616.2 124.7h0M631.7 63.6h0M640.3 53.5h0M645.3 126.3h0M624.2 120.3h0M630.2 110.4h0" stroke="#ffa500" stroke-width="1.0" stroke-linecap="round" fill="none"/>
<path d="M651.0 48.0L655.0 44.0L660.0 43.5" stroke="#ffa500" stroke-width="1.1" stroke-linecap="round" stroke-linejoin="round" fill="none"/>
<path d="M655.0 134.0L660.0 137.0L664.0 133.0" stroke="#ffa500" stroke-width="1.0" stroke-linecap="round" stroke-linejoin="round" fill="none"/>
<line x1="460.40" y1="29.90" x2="460.40" y2="155.80" stroke="#333" stroke-width="0.9"/>
<line x1="460.00" y1="155.80" x2="682.40" y2="155.80" stroke="#333" stroke-width="0.9"/>
<line x1="463.50" y1="155.80" x2="463.50" y2="158.60" stroke="#333" stroke-width="0.9"/>
<text x="463.50" y="167.20" font-size="9.4" fill="#231f20" stroke="#231f20" stroke-width="0.22" text-anchor="middle">0</text>
<line x1="556.60" y1="155.80" x2="556.60" y2="158.60" stroke="#333" stroke-width="0.9"/>
<text x="556.60" y="167.20" font-size="9.4" fill="#231f20" stroke="#231f20" stroke-width="0.22" text-anchor="middle">5</text>
<line x1="649.70" y1="155.80" x2="649.70" y2="158.60" stroke="#333" stroke-width="0.9"/>
<text x="649.70" y="167.20" font-size="9.4" fill="#231f20" stroke="#231f20" stroke-width="0.22" text-anchor="middle">10</text>
<line x1="457.50" y1="146.00" x2="460.40" y2="146.00" stroke="#333" stroke-width="0.9"/>
<text x="455.60" y="149.40" font-size="9.4" fill="#231f20" stroke="#231f20" stroke-width="0.22" text-anchor="end">0</text>
<line x1="457.50" y1="108.70" x2="460.40" y2="108.70" stroke="#333" stroke-width="0.9"/>
<text x="455.60" y="112.10" font-size="9.4" fill="#231f20" stroke="#231f20" stroke-width="0.22" text-anchor="end">2</text>
<line x1="457.50" y1="71.50" x2="460.40" y2="71.50" stroke="#333" stroke-width="0.9"/>
<text x="455.60" y="74.90" font-size="9.4" fill="#231f20" stroke="#231f20" stroke-width="0.22" text-anchor="end">4</text>
<text x="560.30" y="176.60" font-size="9.4" fill="#231f20" stroke="#231f20" stroke-width="0.22" text-anchor="middle">x (mm)</text>
<text x="448.00" y="98.50" font-size="9.4" fill="#231f20" stroke="#231f20" stroke-width="0.22" text-anchor="middle" transform="rotate(-90.00 448.00 98.50)">y (mm)</text>
<rect x="469.60" y="32.80" width="7.60" height="7.60" fill="#ff0000"/>
<text x="480.60" y="39.80" font-size="9.2" fill="#231f20" stroke="#231f20" stroke-width="0.22">V1</text>
<rect x="469.60" y="41.35" width="7.60" height="7.60" fill="#0000ff"/>
<text x="480.60" y="48.35" font-size="9.2" fill="#231f20" stroke="#231f20" stroke-width="0.22">V2</text>
<rect x="469.60" y="49.90" width="7.60" height="7.60" fill="#ffa500"/>
<text x="480.60" y="56.90" font-size="9.2" fill="#231f20" stroke="#231f20" stroke-width="0.22">V3</text>
<rect x="469.60" y="58.45" width="7.60" height="7.60" fill="#238b7e"/>
<text x="480.60" y="65.45" font-size="9.2" fill="#231f20" stroke="#231f20" stroke-width="0.22">V4</text>
<rect x="510.10" y="32.80" width="7.60" height="7.60" fill="#a020f0"/>
<text x="521.10" y="39.80" font-size="9.2" fill="#231f20" stroke="#231f20" stroke-width="0.22">V5</text>
<rect x="510.10" y="41.35" width="7.60" height="7.60" fill="#9acd32"/>
<text x="521.10" y="48.35" font-size="9.2" fill="#231f20" stroke="#231f20" stroke-width="0.22">V6</text>
<rect x="510.10" y="49.90" width="7.60" height="7.60" fill="#6495ed"/>
<text x="521.10" y="56.90" font-size="9.2" fill="#231f20" stroke="#231f20" stroke-width="0.22">V7</text>
<rect x="510.10" y="58.45" width="7.60" height="7.60" fill="#ff00ff"/>
<text x="521.10" y="65.45" font-size="9.2" fill="#231f20" stroke="#231f20" stroke-width="0.22">V8</text>
<text x="0.50" y="192.80" font-size="13.2" fill="#231f20" stroke="#231f20" stroke-width="0.22">C</text>
<text x="24.70" y="204.90" font-size="9.5" fill="#231f20" stroke="#231f20" stroke-width="0.22">Village 1 (V1)</text>
<path d="M97.34,338.45 A62.30,62.30 0 0 1 33.80,253.67" fill="none" stroke="#e8393d" stroke-width="10.2"/>
<path d="M33.80,253.67 A62.30,62.30 0 0 1 79.91,215.24" fill="none" stroke="#8c53a6" stroke-width="10.2"/>
<path d="M79.91,215.24 A62.30,62.30 0 0 1 87.45,214.25" fill="none" stroke="#f3e61a" stroke-width="10.2"/>
<path d="M87.45,214.25 A62.30,62.30 0 0 1 88.32,214.20" fill="none" stroke="#6cc5d9" stroke-width="10.2"/>
<path d="M88.32,214.20 A62.30,62.30 0 0 1 91.37,214.10" fill="none" stroke="#d2232a" stroke-width="10.2"/>
<path d="M91.37,214.10 A62.30,62.30 0 0 1 92.89,214.11" fill="none" stroke="#8a6aa0" stroke-width="10.2"/>
<path d="M92.89,214.11 A62.30,62.30 0 0 1 97.34,338.45" fill="none" stroke="#8dc63f" stroke-width="10.2"/>
<path id="rp1" d="M39.97,303.96 A58.70,58.70 0 0 1 131.08,232.78" fill="none"/>
<text font-size="9.8" fill="#111"><textPath href="#rp1" startOffset="50%" text-anchor="middle">SDN-T3</textPath></text>
<path id="rp2" d="M56.47,229.52 A58.70,58.70 0 0 1 141.03,308.37" fill="none"/>
<text font-size="9.8" fill="#111"><textPath href="#rp2" startOffset="50%" text-anchor="middle">SDN-T5</textPath></text>
<path id="rp3" d="M110.91,331.90 A58.70,58.70 0 0 1 54.86,230.78" fill="none"/>
<text font-size="9.8" fill="#111"><textPath href="#rp3" startOffset="50%" text-anchor="middle">SDN-T4</textPath></text>
<line x1="83.10" y1="244.00" x2="54.60" y2="289.00" stroke="#111" stroke-width="1.1"/>
<line x1="83.10" y1="244.00" x2="121.60" y2="281.00" stroke="#111" stroke-width="1.1"/>
<line x1="83.10" y1="244.00" x2="76.90" y2="276.70" stroke="#111" stroke-width="0.7"/>
<line x1="83.10" y1="244.00" x2="93.00" y2="272.30" stroke="#111" stroke-width="0.7"/>
<line x1="83.10" y1="244.00" x2="96.80" y2="279.20" stroke="#111" stroke-width="0.7"/>
<line x1="83.10" y1="244.00" x2="94.30" y2="295.30" stroke="#111" stroke-width="0.8"/>
<line x1="54.60" y1="289.00" x2="121.60" y2="281.00" stroke="#111" stroke-width="0.9"/>
<line x1="54.60" y1="289.00" x2="76.90" y2="276.70" stroke="#111" stroke-width="0.6"/>
<line x1="54.60" y1="289.00" x2="93.00" y2="272.30" stroke="#111" stroke-width="0.6"/>
<line x1="54.60" y1="289.00" x2="96.80" y2="279.20" stroke="#111" stroke-width="0.6"/>
<line x1="54.60" y1="289.00" x2="94.30" y2="295.30" stroke="#111" stroke-width="0.9"/>
<line x1="76.90" y1="276.70" x2="121.60" y2="281.00" stroke="#111" stroke-width="0.6"/>
<line x1="93.00" y1="272.30" x2="121.60" y2="281.00" stroke="#111" stroke-width="0.6"/>
<line x1="94.30" y1="295.30" x2="121.60" y2="281.00" stroke="#111" stroke-width="0.8"/>
<line x1="76.90" y1="276.70" x2="94.30" y2="295.30" stroke="#111" stroke-width="0.5"/>
<line x1="93.00" y1="272.30" x2="94.30" y2="295.30" stroke="#111" stroke-width="0.5"/>
<line x1="96.80" y1="279.20" x2="121.60" y2="281.00" stroke="#111" stroke-width="0.5"/>
<line x1="76.90" y1="276.70" x2="93.00" y2="272.30" stroke="#111" stroke-width="0.5"/>
<ellipse cx="91.80" cy="239.80" rx="5" ry="3.4" transform="rotate(-10 91.80 239.80)" fill="none" stroke="#c4c4c4" stroke-opacity="0.5" stroke-width="1.6"/>
<ellipse cx="131.00" cy="276.00" rx="5" ry="3.8" transform="rotate(0 131.00 276.00)" fill="none" stroke="#c4c4c4" stroke-opacity="0.5" stroke-width="1.6"/>
<ellipse cx="60.00" cy="283.50" rx="4.5" ry="3" transform="rotate(-20 60.00 283.50)" fill="none" stroke="#c4c4c4" stroke-opacity="0.5" stroke-width="1.2"/>
<circle cx="83.10" cy="244.00" r="5.20" fill="#8a4f86"/>
<circle cx="76.90" cy="276.70" r="3.00" fill="#58c4dd"/>
<circle cx="93.00" cy="272.30" r="2.40" fill="#1d9786"/>
<circle cx="96.80" cy="279.20" r="1.80" fill="#8dc63f"/>
<circle cx="121.60" cy="281.00" r="5.00" fill="#8b45a8"/>
<circle cx="54.60" cy="289.00" r="5.00" fill="#f4b8c8"/>
<circle cx="94.30" cy="295.30" r="3.80" fill="#f7931e"/>
<text x="69.50" y="234.90" font-size="9.4" fill="#8a4f86" stroke="#8a4f86" stroke-width="0.22">Stress/Metal</text>
<text x="36.00" y="268.40" font-size="9.4" fill="#58c4dd" stroke="#58c4dd" stroke-width="0.22">Hep-like</text>
<text x="95.50" y="268.40" font-size="9.4" fill="#1d9786" stroke="#1d9786" stroke-width="0.22">MHCII</text>
<text x="72.00" y="290.10" font-size="9.4" fill="#8dc63f" stroke="#8dc63f" stroke-width="0.22">Stress</text>
<text x="103.00" y="298.70" font-size="9.4" fill="#8b45a8" stroke="#8b45a8" stroke-width="0.22">MHCII/Metal</text>
<text x="46.00" y="304.20" font-size="9.4" fill="#f4b8c8" stroke="#f4b8c8" stroke-width="0.22">Metal</text>
<text x="77.00" y="309.20" font-size="9.4" fill="#f7931e" stroke="#f7931e" stroke-width="0.22">Immu+loco</text>
<text x="179.40" y="204.90" font-size="9.5" fill="#231f20" stroke="#231f20" stroke-width="0.22">Village 3 (V3)</text>
<path d="M301.08,285.82 A62.30,62.30 0 1 1 235.26,214.24" fill="none" stroke="#6cc5d9" stroke-width="10.2"/>
<path d="M235.26,214.24 A62.30,62.30 0 0 1 239.50,214.10" fill="none" stroke="#2e3f94" stroke-width="10.2"/>
<path d="M239.50,214.10 A62.30,62.30 0 0 1 240.91,214.12" fill="none" stroke="#3f8f6a" stroke-width="10.2"/>
<path d="M240.91,214.12 A62.30,62.30 0 0 1 259.78,217.49" fill="none" stroke="#f5bccb" stroke-width="10.2"/>
<path d="M259.78,217.49 A62.30,62.30 0 0 1 301.18,267.62" fill="none" stroke="#6bb644" stroke-width="10.2"/>
<path d="M301.18,267.62 A62.30,62.30 0 0 1 301.08,285.82" fill="none" stroke="#f58b1f" stroke-width="10.2"/>
<path id="rp4" d="M183.46,258.94 A58.70,58.70 0 0 1 298.13,273.63" fill="none"/>
<text font-size="9.8" fill="#111"><textPath href="#rp4" startOffset="50%" text-anchor="middle">SDN-T14</textPath></text>
<path id="rp5" d="M213.49,223.78 A58.70,58.70 0 0 1 281.94,316.95" fill="none"/>
<text font-size="9.8" fill="#111"><textPath href="#rp5" startOffset="50%" text-anchor="middle">SDN-T13</textPath></text>
<path id="rp6" d="M261.96,222.17 A58.70,58.70 0 0 1 236.94,335.04" fill="none"/>
<text font-size="9.8" fill="#111"><textPath href="#rp6" startOffset="50%" text-anchor="middle">SDN-T12</textPath></text>
<path id="rp7" d="M229.31,334.21 A58.70,58.70 0 0 1 229.31,218.59" fill="none"/>
<text font-size="9.8" fill="#111"><textPath href="#rp7" startOffset="50%" text-anchor="middle">SDN-T11</textPath></text>
<line x1="212.20" y1="294.80" x2="263.80" y2="286.70" stroke="#111" stroke-width="3.6"/>
<line x1="231.50" y1="250.70" x2="212.20" y2="294.80" stroke="#111" stroke-width="0.8"/>
<line x1="231.50" y1="250.70" x2="263.80" y2="286.70" stroke="#111" stroke-width="0.8"/>
<ellipse cx="271.00" cy="281.50" rx="8.5" ry="5.2" transform="rotate(-12 271.00 281.50)" fill="none" stroke="#c4c4c4" stroke-opacity="0.5" stroke-width="5.5"/>
<ellipse cx="221.50" cy="287.00" rx="6" ry="4" transform="rotate(-15 221.50 287.00)" fill="none" stroke="#c4c4c4" stroke-opacity="0.5" stroke-width="2.6"/>
<ellipse cx="236.00" cy="251.50" rx="4" ry="1.5" transform="rotate(0 236.00 251.50)" fill="none" stroke="#c4c4c4" stroke-opacity="0.5" stroke-width="0.8"/>
<circle cx="231.50" cy="250.70" r="2.00" fill="#f4b8c8"/>
<circle cx="212.20" cy="294.80" r="7.00" fill="#e8363b"/>
<circle cx="263.80" cy="286.70" r="8.00" fill="#f7931e"/>
<text x="224.60" y="246.60" font-size="9.4" fill="#f4b8c8" stroke="#f4b8c8" stroke-width="0.22">Metal</text>
<text x="232.00" y="305.70" font-size="9.4" fill="#f7931e" stroke="#f7931e" stroke-width="0.22">Immu+loco</text>
<text x="206.00" y="315.40" font-size="9.4" fill="#e8363b" stroke="#e8363b" stroke-width="0.22">Cho-like</text>
<text x="325.50" y="208.10" font-size="9.5" fill="#231f20" stroke="#231f20" stroke-width="0.22">Village 5 (V5)</text>
<path d="M330.30,251.26 A62.30,62.30 0 0 1 378.95,214.66" fill="none" stroke="#6cc5d9" stroke-width="10.2"/>
<path d="M378.95,214.66 A62.30,62.30 0 0 1 386.97,214.10" fill="none" stroke="#2e3f94" stroke-width="10.2"/>
<path d="M386.97,214.10 A62.30,62.30 0 0 1 395.97,214.71" fill="none" stroke="#f5bccb" stroke-width="10.2"/>
<path d="M395.97,214.71 A62.30,62.30 0 0 1 432.04,233.04" fill="none" stroke="#6bb644" stroke-width="10.2"/>
<path d="M432.04,233.04 A62.30,62.30 0 1 1 330.30,251.26" fill="none" stroke="#f58b1f" stroke-width="10.2"/>
<path id="rp8" d="M334.86,302.78 A58.70,58.70 0 0 1 427.56,233.68" fill="none"/>
<text font-size="9.8" fill="#111"><textPath href="#rp8" startOffset="50%" text-anchor="middle">SDN-T11</textPath></text>
<path id="rp9" d="M343.61,237.20 A58.70,58.70 0 0 1 441.76,298.29" fill="none"/>
<text font-size="9.8" fill="#111"><textPath href="#rp9" startOffset="50%" text-anchor="middle">SDN-T13</textPath></text>
<path id="rp10" d="M352.48,332.35 A65.90,65.90 0 0 0 439.16,235.74" fill="none"/>
<text font-size="9.8" fill="#111"><textPath href="#rp10" startOffset="50%" text-anchor="middle">SDN-T12</textPath></text>
<line x1="363.00" y1="297.00" x2="394.50" y2="251.40" stroke="#111" stroke-width="2.5"/>
<line x1="370.00" y1="273.00" x2="363.00" y2="297.00" stroke="#111" stroke-width="0.8"/>
<line x1="370.00" y1="273.00" x2="394.50" y2="251.40" stroke="#111" stroke-width="0.8"/>
<ellipse cx="403.10" cy="245.00" rx="7.5" ry="4.8" transform="rotate(-20 403.10 245.00)" fill="none" stroke="#c4c4c4" stroke-opacity="0.5" stroke-width="3.2"/>
<ellipse cx="373.00" cy="291.60" rx="5" ry="3.6" transform="rotate(-20 373.00 291.60)" fill="none" stroke="#c4c4c4" stroke-opacity="0.5" stroke-width="2.2"/>
<circle cx="394.50" cy="251.40" r="8.00" fill="#f7931e"/>
<circle cx="370.00" cy="273.00" r="2.00" fill="#f4b8c8"/>
<circle cx="363.00" cy="297.00" r="7.50" fill="#e8363b"/>
<text x="366.70" y="239.20" font-size="9.4" fill="#f7931e" stroke="#f7931e" stroke-width="0.22">Immu+loco</text>
<text x="346.50" y="268.20" font-size="9.4" fill="#f4b8c8" stroke="#f4b8c8" stroke-width="0.22">Metal</text>
<text x="366.70" y="311.20" font-size="9.4" fill="#e8363b" stroke="#e8363b" stroke-width="0.22">Cho-like</text>
<text x="471.50" y="207.80" font-size="9.5" fill="#231f20" stroke="#231f20" stroke-width="0.22">Village 7 (V7)</text>
<path d="M586.52,307.08 A62.30,62.30 0 1 1 532.30,214.10" fill="none" stroke="#c9a52a" stroke-width="10.2"/>
<path d="M532.30,214.10 A62.30,62.30 0 0 1 563.54,222.50" fill="none" stroke="#1f8a7b" stroke-width="10.2"/>
<path d="M563.54,222.50 A62.30,62.30 0 0 1 586.52,307.08" fill="none" stroke="#b3529f" stroke-width="10.2"/>
<path id="rp11" d="M480.62,248.57 A58.70,58.70 0 0 1 590.39,284.87" fill="none"/>
<text font-size="9.8" fill="#111"><textPath href="#rp11" startOffset="50%" text-anchor="middle">SDN-T9</textPath></text>
<path id="rp12" d="M535.37,217.78 A58.70,58.70 0 0 1 549.46,332.54" fill="none"/>
<text font-size="9.8" fill="#111"><textPath href="#rp12" startOffset="50%" text-anchor="middle">SDN-T8</textPath></text>
<path id="rp13" d="M526.27,334.79 A58.70,58.70 0 0 1 518.00,219.47" fill="none"/>
<text font-size="9.8" fill="#111"><textPath href="#rp13" startOffset="50%" text-anchor="middle">SDN-T7</textPath></text>
<line x1="498.40" y1="262.00" x2="559.20" y2="287.30" stroke="#111" stroke-width="1.1"/>
<ellipse cx="566.80" cy="277.50" rx="5.5" ry="3.8" transform="rotate(-30 566.80 277.50)" fill="none" stroke="#c4c4c4" stroke-opacity="0.5" stroke-width="3.5"/>
<ellipse cx="502.70" cy="254.00" rx="3.5" ry="2.2" transform="rotate(0 502.70 254.00)" fill="none" stroke="#c4c4c4" stroke-opacity="0.5" stroke-width="0.8"/>
<circle cx="498.40" cy="262.00" r="4.00" fill="#8a4f86"/>
<circle cx="559.20" cy="287.30" r="9.50" fill="#cc2229"/>
<text x="508.60" y="261.10" font-size="9.4" fill="#231f20" stroke="#231f20" stroke-width="0.22">Stress/Metal</text>
<text x="536.50" y="308.70" font-size="9.4" fill="#cc2229" stroke="#cc2229" stroke-width="0.22">Cycle</text>
<text x="29.30" y="360.50" font-size="9.5" fill="#231f20" stroke="#231f20" stroke-width="0.22">Village 2 (V2)</text>
<path d="M91.15,491.10 A62.30,62.30 0 0 1 91.04,366.50" fill="none" stroke="#c61f2c" stroke-width="10.2"/>
<path d="M91.04,366.50 A62.30,62.30 0 0 1 91.91,366.50" fill="none" stroke="#6f6f9a" stroke-width="10.2"/>
<path d="M91.91,366.50 A62.30,62.30 0 0 1 93.43,366.52" fill="none" stroke="#9b5aa8" stroke-width="10.2"/>
<path d="M93.43,366.52 A62.30,62.30 0 0 1 97.45,366.76" fill="none" stroke="#8dc63f" stroke-width="10.2"/>
<path d="M97.45,366.76 A62.30,62.30 0 0 1 102.83,367.48" fill="none" stroke="#e8393d" stroke-width="10.2"/>
<path d="M102.83,367.48 A62.30,62.30 0 0 1 104.54,367.82" fill="none" stroke="#8a4fa0" stroke-width="10.2"/>
<path d="M104.54,367.82 A62.30,62.30 0 0 1 92.23,491.10" fill="none" stroke="#f2e600" stroke-width="10.2"/>
<path d="M92.23,491.10 A62.30,62.30 0 0 1 91.15,491.10" fill="none" stroke="#4a6ab0" stroke-width="10.2"/>
<path id="rp14" d="M81.61,486.61 A58.70,58.70 0 0 1 81.61,370.99" fill="none"/>
<text font-size="9.8" fill="#111"><textPath href="#rp14" startOffset="50%" text-anchor="middle">SDN-T1</textPath></text>
<path id="rp15" d="M57.30,381.31 A58.70,58.70 0 0 1 140.46,461.62" fill="none"/>
<text font-size="9.8" fill="#111"><textPath href="#rp15" startOffset="50%" text-anchor="middle">SDN-T2</textPath></text>
<line x1="65.00" y1="457.90" x2="111.20" y2="405.20" stroke="#111" stroke-width="2.2"/>
<line x1="65.00" y1="457.90" x2="105.00" y2="416.90" stroke="#111" stroke-width="1.1"/>
<line x1="65.00" y1="457.90" x2="85.60" y2="402.50" stroke="#111" stroke-width="1.0"/>
<line x1="65.00" y1="457.90" x2="86.10" y2="415.70" stroke="#111" stroke-width="0.9"/>
<line x1="85.60" y1="402.50" x2="111.20" y2="405.20" stroke="#111" stroke-width="0.7"/>
<line x1="85.60" y1="402.50" x2="105.00" y2="416.90" stroke="#111" stroke-width="0.7"/>
<line x1="86.10" y1="415.70" x2="111.20" y2="405.20" stroke="#111" stroke-width="0.7"/>
<line x1="86.10" y1="415.70" x2="105.00" y2="416.90" stroke="#111" stroke-width="0.7"/>
<line x1="85.60" y1="402.50" x2="86.10" y2="415.70" stroke="#111" stroke-width="0.6"/>
<line x1="111.20" y1="405.20" x2="105.00" y2="416.90" stroke="#111" stroke-width="0.6"/>
<ellipse cx="76.30" cy="452.00" rx="5.2" ry="3.6" transform="rotate(-20 76.30 452.00)" fill="none" stroke="#c4c4c4" stroke-opacity="0.5" stroke-width="5.0"/>
<ellipse cx="119.00" cy="400.10" rx="7" ry="4.2" transform="rotate(0 119.00 400.10)" fill="none" stroke="#c4c4c4" stroke-opacity="0.5" stroke-width="0.7"/>
<ellipse cx="93.40" cy="398.10" rx="6" ry="3.6" transform="rotate(0 93.40 398.10)" fill="none" stroke="#c4c4c4" stroke-opacity="0.5" stroke-width="0.7"/>
<ellipse cx="111.80" cy="413.30" rx="5.5" ry="3.3" transform="rotate(0 111.80 413.30)" fill="none" stroke="#c4c4c4" stroke-opacity="0.5" stroke-width="0.7"/>
<circle cx="85.60" cy="402.50" r="2.50" fill="#f4b8c8"/>
<circle cx="111.20" cy="405.20" r="3.50" fill="#cc2229"/>
<circle cx="86.10" cy="415.70" r="2.50" fill="#3857a8"/>
<circle cx="105.00" cy="416.90" r="2.50" fill="#8dc63f"/>
<circle cx="65.00" cy="457.90" r="8.00" fill="#8a4f86"/>
<text x="57.60" y="399.20" font-size="9.4" fill="#f4b8c8" stroke="#f4b8c8" stroke-width="0.22">Metal</text>
<text x="93.80" y="396.20" font-size="9.4" fill="#cc2229" stroke="#cc2229" stroke-width="0.22">Cycle</text>
<text x="58.30" y="419.30" font-size="9.4" fill="#3857a8" stroke="#3857a8" stroke-width="0.22">EMT</text>
<text x="105.00" y="433.20" font-size="9.4" fill="#8dc63f" stroke="#8dc63f" stroke-width="0.22">Stress</text>
<text x="80.00" y="465.70" font-size="9.4" fill="#8a4f86" stroke="#8a4f86" stroke-width="0.22">Stress/Metal</text>
<text x="182.90" y="358.30" font-size="9.5" fill="#231f20" stroke="#231f20" stroke-width="0.22">Village 4 (V4)</text>
<path d="M295.01,457.08 A62.30,62.30 0 1 1 222.33,368.91" fill="none" stroke="#b3529f" stroke-width="10.2"/>
<path d="M222.33,368.91 A62.30,62.30 0 0 1 233.31,366.81" fill="none" stroke="#c9a52a" stroke-width="10.2"/>
<path d="M233.31,366.81 A62.30,62.30 0 0 1 234.29,366.72" fill="none" stroke="#d0402a" stroke-width="10.2"/>
<path d="M234.29,366.72 A62.30,62.30 0 0 1 235.91,366.60" fill="none" stroke="#f5d000" stroke-width="10.2"/>
<path d="M235.91,366.60 A62.30,62.30 0 0 1 238.09,366.52" fill="none" stroke="#6cc5d9" stroke-width="10.2"/>
<path d="M238.09,366.52 A62.30,62.30 0 0 1 239.83,366.50" fill="none" stroke="#a03040" stroke-width="10.2"/>
<path d="M239.83,366.50 A62.30,62.30 0 0 1 295.01,457.08" fill="none" stroke="#1f8a7b" stroke-width="10.2"/>
<path id="rp16" d="M206.68,380.14 A58.70,58.70 0 0 1 286.99,463.30" fill="none"/>
<text font-size="9.8" fill="#111"><textPath href="#rp16" startOffset="50%" text-anchor="middle">SDN-T9</textPath></text>
<path id="rp17" d="M232.65,487.10 A58.70,58.70 0 0 1 226.00,371.67" fill="none"/>
<text font-size="9.8" fill="#111"><textPath href="#rp17" startOffset="50%" text-anchor="middle">SDN-T8</textPath></text>
<line x1="223.80" y1="409.50" x2="215.10" y2="447.40" stroke="#111" stroke-width="2.2"/>
<line x1="223.80" y1="409.50" x2="263.00" y2="440.00" stroke="#111" stroke-width="1.1"/>
<line x1="223.80" y1="409.50" x2="259.80" y2="452.90" stroke="#111" stroke-width="1.1"/>
<line x1="215.10" y1="447.40" x2="263.00" y2="440.00" stroke="#111" stroke-width="0.7"/>
<line x1="215.10" y1="447.40" x2="259.80" y2="452.90" stroke="#111" stroke-width="0.7"/>
<line x1="263.00" y1="440.00" x2="259.80" y2="452.90" stroke="#111" stroke-width="0.6"/>
<ellipse cx="233.30" cy="404.50" rx="7" ry="4.8" transform="rotate(-20 233.30 404.50)" fill="none" stroke="#c4c4c4" stroke-opacity="0.5" stroke-width="3.6"/>
<ellipse cx="223.30" cy="441.70" rx="5" ry="3" transform="rotate(-10 223.30 441.70)" fill="none" stroke="#c4c4c4" stroke-opacity="0.5" stroke-width="1.2"/>
<ellipse cx="270.50" cy="435.50" rx="5" ry="3" transform="rotate(0 270.50 435.50)" fill="none" stroke="#c4c4c4" stroke-opacity="0.5" stroke-width="0.9"/>
<ellipse cx="268.00" cy="448.00" rx="5" ry="3" transform="rotate(0 268.00 448.00)" fill="none" stroke="#c4c4c4" stroke-opacity="0.5" stroke-width="0.9"/>
<circle cx="223.80" cy="409.50" r="8.00" fill="#cc2229"/>
<circle cx="263.00" cy="440.00" r="2.60" fill="#8dc63f"/>
<circle cx="215.10" cy="447.40" r="5.20" fill="#8a4f86"/>
<circle cx="259.80" cy="452.90" r="2.60" fill="#f4b8c8"/>
<text x="215.90" y="394.20" font-size="9.4" fill="#cc2229" stroke="#cc2229" stroke-width="0.22">Cycle</text>
<text x="265.50" y="430.70" font-size="9.4" fill="#8dc63f" stroke="#8dc63f" stroke-width="0.22">Stress</text>
<text x="200.50" y="466.20" font-size="9.4" fill="#8a4f86" stroke="#8a4f86" stroke-width="0.22">Stress/MT</text>
<text x="253.00" y="465.00" font-size="9.4" fill="#f4b8c8" stroke="#f4b8c8" stroke-width="0.22">Metal</text>
<text x="324.50" y="360.50" font-size="9.5" fill="#231f20" stroke="#231f20" stroke-width="0.22">Village 6 (V6)</text>
<path d="M327.92,447.64 A62.30,62.30 0 0 1 386.76,366.50" fill="none" stroke="#6cc5d9" stroke-width="10.2"/>
<path d="M386.76,366.50 A62.30,62.30 0 0 1 387.95,366.50" fill="none" stroke="#2e3f94" stroke-width="10.2"/>
<path d="M387.95,366.50 A62.30,62.30 0 1 1 345.21,474.73" fill="none" stroke="#f5bccb" stroke-width="10.2"/>
<path d="M345.21,474.73 A62.30,62.30 0 0 1 334.47,461.81" fill="none" stroke="#6bb644" stroke-width="10.2"/>
<path d="M334.47,461.81 A62.30,62.30 0 0 1 327.92,447.64" fill="none" stroke="#f58b1f" stroke-width="10.2"/>
<path id="rp18" d="M345.22,469.72 A58.70,58.70 0 0 1 412.85,375.95" fill="none"/>
<text font-size="9.8" fill="#111"><textPath href="#rp18" startOffset="50%" text-anchor="middle">SDN-T11</textPath></text>
<path id="rp19" d="M373.60,371.72 A58.70,58.70 0 0 1 419.70,477.75" fill="none"/>
<text font-size="9.8" fill="#111"><textPath href="#rp19" startOffset="50%" text-anchor="middle">SDN-T14</textPath></text>
<line x1="353" y1="405.2" x2="377.3" y2="439.8" stroke="#111" stroke-width="0.6"/>
<line x1="353.00" y1="405.20" x2="407.40" y2="455.90" stroke="#111" stroke-width="1.9"/>
<line x1="353.00" y1="405.20" x2="378.80" y2="438.70" stroke="#111" stroke-width="0.8"/>
<line x1="378.80" y1="438.70" x2="407.40" y2="455.90" stroke="#111" stroke-width="0.8"/>
<ellipse cx="361.00" cy="398.30" rx="6" ry="4" transform="rotate(-10 361.00 398.30)" fill="none" stroke="#c4c4c4" stroke-opacity="0.5" stroke-width="2.8"/>
<ellipse cx="387.00" cy="433.00" rx="5" ry="3.5" transform="rotate(0 387.00 433.00)" fill="none" stroke="#c4c4c4" stroke-opacity="0.5" stroke-width="1.0"/>
<ellipse cx="415.60" cy="450.40" rx="5.5" ry="3.5" transform="rotate(0 415.60 450.40)" fill="none" stroke="#c4c4c4" stroke-opacity="0.5" stroke-width="1.0"/>
<circle cx="353.00" cy="405.20" r="8.00" fill="#e8363b"/>
<circle cx="378.80" cy="438.70" r="3.60" fill="#f4b8c8"/>
<circle cx="407.40" cy="455.90" r="6.00" fill="#f7931e"/>
<text x="370.40" y="409.10" font-size="9.4" fill="#e8363b" stroke="#e8363b" stroke-width="0.22">Cho-like</text>
<text x="368.00" y="453.10" font-size="9.4" fill="#f4b8c8" stroke="#f4b8c8" stroke-width="0.22">Metal</text>
<text x="378.80" y="471.70" font-size="9.4" fill="#f7931e" stroke="#f7931e" stroke-width="0.22">Immu+loco</text>
<text x="470.50" y="360.60" font-size="9.5" fill="#231f20" stroke="#231f20" stroke-width="0.22">Village 8 (V8)</text>
<path d="M592.62,413.20 A62.30,62.30 0 1 1 532.95,366.50" fill="none" stroke="#3b53a1" stroke-width="10.2"/>
<path d="M532.95,366.50 A62.30,62.30 0 0 1 535.56,366.59" fill="none" stroke="#1f8f80" stroke-width="10.2"/>
<path d="M535.56,366.59 A62.30,62.30 0 0 1 536.97,366.68" fill="none" stroke="#e08a60" stroke-width="10.2"/>
<path d="M536.97,366.68 A62.30,62.30 0 0 1 554.32,370.52" fill="none" stroke="#6bb644" stroke-width="10.2"/>
<path d="M554.32,370.52 A62.30,62.30 0 0 1 559.51,372.76" fill="none" stroke="#f58b1f" stroke-width="10.2"/>
<path d="M559.51,372.76 A62.30,62.30 0 0 1 592.62,413.20" fill="none" stroke="#6cc5d9" stroke-width="10.2"/>
<path id="rp20" d="M498.30,476.65 A58.70,58.70 0 0 1 547.89,372.21" fill="none"/>
<text font-size="9.8" fill="#111"><textPath href="#rp20" startOffset="50%" text-anchor="middle">SDN-T10</textPath></text>
<path id="rp21" d="M477.32,408.24 A58.70,58.70 0 0 1 591.00,429.31" fill="none"/>
<text font-size="9.8" fill="#111"><textPath href="#rp21" startOffset="50%" text-anchor="middle">SDN-T13</textPath></text>
<path id="rp22" d="M508.89,374.97 A58.70,58.70 0 0 1 572.71,471.38" fill="none"/>
<text font-size="9.8" fill="#111"><textPath href="#rp22" startOffset="50%" text-anchor="middle">SDN-T11</textPath></text>
<line x1="511.90" y1="440.10" x2="548.70" y2="415.50" stroke="#111" stroke-width="0.9"/>
<line x1="511.90" y1="440.10" x2="543.40" y2="421.00" stroke="#111" stroke-width="1.0"/>
<line x1="511.90" y1="440.10" x2="548.00" y2="419.80" stroke="#111" stroke-width="0.9"/>
<line x1="511.90" y1="440.10" x2="553.60" y2="422.70" stroke="#111" stroke-width="1.0"/>
<ellipse cx="520.80" cy="433.60" rx="5.5" ry="4" transform="rotate(0 520.80 433.60)" fill="none" stroke="#c4c4c4" stroke-opacity="0.5" stroke-width="3.5"/>
<ellipse cx="561.80" cy="417.00" rx="5" ry="3" transform="rotate(0 561.80 417.00)" fill="none" stroke="#c4c4c4" stroke-opacity="0.5" stroke-width="0.9"/>
<circle cx="548.70" cy="415.50" r="2.60" fill="#1d9786"/>
<circle cx="543.40" cy="421.00" r="2.70" fill="#cc2229"/>
<circle cx="548.00" cy="419.80" r="2.10" fill="#e8363b"/>
<circle cx="553.60" cy="422.70" r="3.50" fill="#6abd45"/>
<circle cx="511.90" cy="440.10" r="9.00" fill="#f7931e"/>
<text x="541.50" y="408.40" font-size="9.4" fill="#1d9786" stroke="#1d9786" stroke-width="0.22">MHCII</text>
<text x="501.00" y="418.90" font-size="9.4" fill="#cc2229" stroke="#cc2229" stroke-width="0.22">Cycle</text>
<text x="543.80" y="435.40" font-size="9.4" fill="#e8363b" stroke="#e8363b" stroke-width="0.22">Cho-like</text>
<text x="537.50" y="445.80" font-size="9.4" fill="#6abd45" stroke="#6abd45" stroke-width="0.22">Interferon</text>
<text x="493.80" y="463.60" font-size="9.4" fill="#f7931e" stroke="#f7931e" stroke-width="0.22">Immu+loco</text>
<text x="615.00" y="217.70" font-size="9.5" fill="#231f20" stroke="#231f20" stroke-width="0.22">Proportion</text>
<circle cx="624.70" cy="231.70" r="5.45" fill="#000"/>
<text x="638.00" y="237.20" font-size="9.4" fill="#231f20" stroke="#231f20" stroke-width="0.22">20</text>
<circle cx="624.70" cy="249.80" r="7.60" fill="#000"/>
<text x="638.00" y="253.60" font-size="9.4" fill="#231f20" stroke="#231f20" stroke-width="0.22">40</text>
<circle cx="624.70" cy="269.10" r="9.00" fill="#000"/>
<text x="638.00" y="273.50" font-size="9.4" fill="#231f20" stroke="#231f20" stroke-width="0.22">60</text>
<circle cx="624.70" cy="291.50" r="10.50" fill="#000"/>
<text x="638.00" y="295.50" font-size="9.4" fill="#231f20" stroke="#231f20" stroke-width="0.22">80</text>
<text x="615.00" y="370.60" font-size="9.5" fill="#231f20" stroke="#231f20" stroke-width="0.22">Communication</text>
<text x="615.00" y="379.80" font-size="9.5" fill="#231f20" stroke="#231f20" stroke-width="0.22">strength</text>
<line x1="616.00" y1="389.80" x2="631.90" y2="389.80" stroke="#000" stroke-width="2.0"/>
<text x="640.30" y="393.50" font-size="9.4" fill="#231f20" stroke="#231f20" stroke-width="0.22">1</text>
<line x1="616.00" y1="407.20" x2="631.90" y2="407.20" stroke="#000" stroke-width="3.9"/>
<text x="640.30" y="410.90" font-size="9.4" fill="#231f20" stroke="#231f20" stroke-width="0.22">2</text>
<line x1="616.00" y1="427.20" x2="631.90" y2="427.20" stroke="#000" stroke-width="6.0"/>
<text x="640.30" y="430.90" font-size="9.4" fill="#231f20" stroke="#231f20" stroke-width="0.22">3</text>
<text x="0.80" y="517.30" font-size="13.2" fill="#231f20" stroke="#231f20" stroke-width="0.22">E</text>
<text x="36.70" y="529.00" font-size="9.4" fill="#231f20" stroke="#231f20" stroke-width="0.22">Single cell</text>
<line x1="37.80" y1="532.30" x2="37.80" y2="657.50" stroke="#4d4d4d" stroke-width="1.2"/>
<line x1="37.20" y1="656.90" x2="162.60" y2="656.90" stroke="#4d4d4d" stroke-width="1.2"/>
<line x1="35.00" y1="538.50" x2="37.80" y2="538.50" stroke="#4d4d4d" stroke-width="1.0"/>
<text x="34.20" y="542.40" font-size="9.3" fill="#231f20" stroke="#231f20" stroke-width="0.22" text-anchor="end">1.0</text>
<line x1="35.00" y1="597.50" x2="37.80" y2="597.50" stroke="#4d4d4d" stroke-width="1.0"/>
<text x="34.20" y="601.40" font-size="9.3" fill="#231f20" stroke="#231f20" stroke-width="0.22" text-anchor="end">0.5</text>
<line x1="35.00" y1="656.90" x2="37.80" y2="656.90" stroke="#4d4d4d" stroke-width="1.0"/>
<text x="34.20" y="660.80" font-size="9.3" fill="#231f20" stroke="#231f20" stroke-width="0.22" text-anchor="end">0.0</text>
<line x1="38.20" y1="656.90" x2="38.20" y2="659.70" stroke="#4d4d4d" stroke-width="1.0"/>
<text x="38.20" y="668.10" font-size="9.4" fill="#231f20" stroke="#231f20" stroke-width="0.22" text-anchor="middle">0</text>
<line x1="147.70" y1="656.90" x2="147.70" y2="659.70" stroke="#4d4d4d" stroke-width="1.0"/>
<text x="147.70" y="668.10" font-size="9.4" fill="#231f20" stroke="#231f20" stroke-width="0.22" text-anchor="middle">30</text>
<text x="99.20" y="676.30" font-size="9.5" fill="#231f20" stroke="#231f20" stroke-width="0.22" text-anchor="middle">Month</text>
<text x="18.30" y="595.00" font-size="9.5" fill="#231f20" stroke="#231f20" stroke-width="0.22" text-anchor="middle" transform="rotate(-90.00 18.30 595.00)">Survival probability</text>
<path d="M37.73,537.73 L43.44,537.73 L43.44,550.88 L44.68,550.88 L44.68,557.58 L158.85,557.58" fill="none" stroke="#1f5ba6" stroke-width="1.3" stroke-linejoin="miter"/>
<path d="M37.73,537.73 L39.22,537.73 L39.22,540.95 L42.69,540.95 L42.69,547.16 L44.18,547.16 L44.18,550.88 L50.88,550.88 L50.88,557.58 L52.12,557.58 L52.12,569.00 L58.82,569.00 L58.82,583.89 L65.03,583.89 L65.03,595.06 L67.51,595.06 L67.51,601.02 L84.39,601.02 L84.39,606.73 L88.11,606.73 L88.11,611.69 L91.83,611.69 L91.83,617.40 L100.52,617.40 L100.52,623.36 L109.21,623.36 L109.21,629.06 L115.41,629.06 L115.41,635.77 L137.01,635.77 L137.01,656.86" fill="none" stroke="#ec2a2e" stroke-width="1.3" stroke-linejoin="miter"/>
<text x="72.00" y="545.00" font-size="9.6" fill="#1a1a1a" stroke="#1a1a1a" stroke-width="0.22">V1&amp;2-enriched</text>
<text x="88.90" y="553.90" font-size="9.6" fill="#1a1a1a" stroke="#1a1a1a" stroke-width="0.22">(n=13)</text>
<text x="89.80" y="609.50" font-size="9.6" fill="#1a1a1a" stroke="#1a1a1a" stroke-width="0.22">V3-8 enriched</text>
<text x="106.70" y="618.30" font-size="9.6" fill="#1a1a1a" stroke="#1a1a1a" stroke-width="0.22">(n=24)</text>
<text x="41.70" y="652.40" font-size="9.6" fill="#1a1a1a" stroke="#1a1a1a" stroke-width="0.22">p = 0.0084</text>
<text x="177.80" y="517.30" font-size="13.2" fill="#231f20" stroke="#231f20" stroke-width="0.22">F</text>
<text x="203.50" y="529.00" font-size="9.4" fill="#231f20" stroke="#231f20" stroke-width="0.22">TCGA</text>
<line x1="205.30" y1="532.30" x2="205.30" y2="657.10" stroke="#4d4d4d" stroke-width="1.2"/>
<line x1="204.70" y1="656.50" x2="325.80" y2="656.50" stroke="#4d4d4d" stroke-width="1.2"/>
<line x1="202.50" y1="538.50" x2="205.30" y2="538.50" stroke="#4d4d4d" stroke-width="1.0"/>
<text x="201.70" y="542.40" font-size="9.3" fill="#231f20" stroke="#231f20" stroke-width="0.22" text-anchor="end">1.0</text>
<line x1="202.50" y1="597.40" x2="205.30" y2="597.40" stroke="#4d4d4d" stroke-width="1.0"/>
<text x="201.70" y="601.30" font-size="9.3" fill="#231f20" stroke="#231f20" stroke-width="0.22" text-anchor="end">0.5</text>
<line x1="202.50" y1="656.50" x2="205.30" y2="656.50" stroke="#4d4d4d" stroke-width="1.0"/>
<text x="201.70" y="660.40" font-size="9.3" fill="#231f20" stroke="#231f20" stroke-width="0.22" text-anchor="end">0.0</text>
<line x1="205.30" y1="656.50" x2="205.30" y2="659.30" stroke="#4d4d4d" stroke-width="1.0"/>
<text x="205.30" y="668.10" font-size="9.4" fill="#231f20" stroke="#231f20" stroke-width="0.22" text-anchor="middle">0</text>
<line x1="239.60" y1="656.50" x2="239.60" y2="659.30" stroke="#4d4d4d" stroke-width="1.0"/>
<text x="239.60" y="668.10" font-size="9.4" fill="#231f20" stroke="#231f20" stroke-width="0.22" text-anchor="middle">30</text>
<line x1="274.00" y1="656.50" x2="274.00" y2="659.30" stroke="#4d4d4d" stroke-width="1.0"/>
<text x="274.00" y="668.10" font-size="9.4" fill="#231f20" stroke="#231f20" stroke-width="0.22" text-anchor="middle">60</text>
<line x1="308.40" y1="656.50" x2="308.40" y2="659.30" stroke="#4d4d4d" stroke-width="1.0"/>
<text x="308.40" y="668.10" font-size="9.4" fill="#231f20" stroke="#231f20" stroke-width="0.22" text-anchor="middle">90</text>
<text x="261.70" y="676.30" font-size="9.5" fill="#231f20" stroke="#231f20" stroke-width="0.22" text-anchor="middle">Month</text>
<text x="185.80" y="595.00" font-size="9.5" fill="#231f20" stroke="#231f20" stroke-width="0.22" text-anchor="middle" transform="rotate(-90.00 185.80 595.00)">Survival probability</text>
<path d="M205.21,539.71 L205.58,539.71 L205.58,541.57 L205.95,541.57 L205.95,543.44 L208.02,543.44 L208.02,545.50 L210.09,545.50 L210.09,547.57 L212.16,547.57 L212.16,549.64 L214.23,549.64 L214.23,550.47 L216.29,550.47 L216.29,551.29 L218.36,551.29 L218.36,552.12 L220.43,552.12 L220.43,552.54 L222.50,552.54 L222.50,552.95 L224.57,552.95 L224.57,553.36 L227.05,553.36 L227.05,555.85 L228.91,555.85 L228.91,558.33 L230.77,558.33 L230.77,560.81 L232.63,560.81 L232.63,563.29 L234.50,563.29 L234.50,565.77 L235.74,565.77 L235.74,567.63 L236.98,567.63 L236.98,569.50 L238.22,569.50 L238.22,572.47 L244.42,572.47 L246.91,572.47 L246.91,574.09 L249.39,574.09 L249.39,575.70 L251.87,575.70 L251.87,577.31 L254.35,577.31 L254.35,578.93 L256.21,578.93 L256.21,580.17 L258.08,580.17 L258.08,581.41 L259.94,581.41 L259.94,582.28 L261.80,582.28 L261.80,583.15 L263.66,583.15 L263.66,584.39 L265.52,584.39 L265.52,585.63 L266.14,585.63 L266.14,587.49 L266.76,587.49 L266.76,589.35 L269.24,589.35 L269.24,591.83 L271.73,591.83 L271.73,592.45 L274.21,592.45 L274.21,593.08 L275.45,593.08 L275.45,594.81 L281.65,594.81 L285.38,594.81 L285.54,594.81 L285.54,597.38 L285.71,597.38 L285.71,599.94 L285.87,599.94 L285.87,602.51 L301.01,602.51 L301.01,624.10 L315.16,624.10" fill="none" stroke="#1f5ba6" stroke-width="1.3" stroke-linejoin="miter"/>
<path d="M205.21,539.71 L206.20,539.71 L206.20,542.19 L207.19,542.19 L207.19,544.68 L209.06,544.68 L209.06,547.16 L210.92,547.16 L210.92,549.64 L212.16,549.64 L212.16,551.71 L213.40,551.71 L213.40,553.78 L214.64,553.78 L214.64,555.85 L215.47,555.85 L215.47,557.91 L216.29,557.91 L216.29,559.98 L217.12,559.98 L217.12,562.05 L217.95,562.05 L217.95,564.12 L218.78,564.12 L218.78,566.19 L219.60,566.19 L219.60,568.26 L220.85,568.26 L220.85,570.74 L222.09,570.74 L222.09,573.22 L223.95,573.22 L223.95,575.70 L225.81,575.70 L225.81,578.18 L227.67,578.18 L227.67,580.04 L229.53,580.04 L229.53,581.91 L231.39,581.91 L231.39,583.77 L233.26,583.77 L233.26,585.63 L235.12,585.63 L235.12,586.87 L236.98,586.87 L236.98,588.11 L239.46,588.11 L239.46,589.35 L241.94,589.35 L241.94,590.59 L244.42,590.59 L244.42,591.83 L246.91,591.83 L246.91,593.08 L249.39,593.08 L249.39,594.32 L251.87,594.32 L251.87,595.56 L253.73,595.56 L253.73,596.55 L255.59,596.55 L255.59,597.54 L256.83,597.54 L256.83,599.65 L258.08,599.65 L258.08,601.76 L259.94,601.76 L259.94,603.62 L261.80,603.62 L261.80,605.49 L264.28,605.49 L264.28,606.31 L266.76,606.31 L266.76,607.14 L269.24,607.14 L269.24,607.97 L284.14,607.97 L296.55,607.97 L297.37,607.97 L297.37,610.04 L298.20,610.04 L298.20,612.10 L299.03,612.10 L299.03,614.17 L299.40,614.17 L299.40,616.65 L299.77,616.65 L299.77,619.14 L315.16,619.14" fill="none" stroke="#ec2a2e" stroke-width="1.3" stroke-linejoin="miter"/>
<text x="253.10" y="570.50" font-size="9.6" fill="#1a1a1a" stroke="#1a1a1a" stroke-width="0.22">V1&amp;2-enriched</text>
<text x="268.70" y="579.70" font-size="9.6" fill="#1a1a1a" stroke="#1a1a1a" stroke-width="0.22">(n=189)</text>
<text x="210.90" y="618.20" font-size="9.6" fill="#1a1a1a" stroke="#1a1a1a" stroke-width="0.22">V3-8 enriched</text>
<text x="224.60" y="626.90" font-size="9.6" fill="#1a1a1a" stroke="#1a1a1a" stroke-width="0.22">(n=176)</text>
<text x="209.20" y="652.40" font-size="9.6" fill="#1a1a1a" stroke="#1a1a1a" stroke-width="0.22">p = 0.0058</text>
<text x="344.60" y="517.30" font-size="13.2" fill="#231f20" stroke="#231f20" stroke-width="0.22">G</text>
<text x="372.20" y="529.00" font-size="9.4" fill="#231f20" stroke="#231f20" stroke-width="0.22">LCI</text>
<line x1="372.80" y1="532.30" x2="372.80" y2="656.60" stroke="#4d4d4d" stroke-width="1.2"/>
<line x1="372.20" y1="656.00" x2="492.60" y2="656.00" stroke="#4d4d4d" stroke-width="1.2"/>
<line x1="370.00" y1="538.50" x2="372.80" y2="538.50" stroke="#4d4d4d" stroke-width="1.0"/>
<text x="369.20" y="542.40" font-size="9.3" fill="#231f20" stroke="#231f20" stroke-width="0.22" text-anchor="end">1.0</text>
<line x1="370.00" y1="597.00" x2="372.80" y2="597.00" stroke="#4d4d4d" stroke-width="1.0"/>
<text x="369.20" y="600.90" font-size="9.3" fill="#231f20" stroke="#231f20" stroke-width="0.22" text-anchor="end">0.5</text>
<line x1="370.00" y1="656.00" x2="372.80" y2="656.00" stroke="#4d4d4d" stroke-width="1.0"/>
<text x="369.20" y="659.90" font-size="9.3" fill="#231f20" stroke="#231f20" stroke-width="0.22" text-anchor="end">0.0</text>
<line x1="372.80" y1="656.00" x2="372.80" y2="658.80" stroke="#4d4d4d" stroke-width="1.0"/>
<text x="372.80" y="668.10" font-size="9.4" fill="#231f20" stroke="#231f20" stroke-width="0.22" text-anchor="middle">0</text>
<line x1="407.40" y1="656.00" x2="407.40" y2="658.80" stroke="#4d4d4d" stroke-width="1.0"/>
<text x="407.40" y="668.10" font-size="9.4" fill="#231f20" stroke="#231f20" stroke-width="0.22" text-anchor="middle">30</text>
<line x1="442.00" y1="656.00" x2="442.00" y2="658.80" stroke="#4d4d4d" stroke-width="1.0"/>
<text x="442.00" y="668.10" font-size="9.4" fill="#231f20" stroke="#231f20" stroke-width="0.22" text-anchor="middle">60</text>
<line x1="476.60" y1="656.00" x2="476.60" y2="658.80" stroke="#4d4d4d" stroke-width="1.0"/>
<text x="476.60" y="668.10" font-size="9.4" fill="#231f20" stroke="#231f20" stroke-width="0.22" text-anchor="middle">90</text>
<text x="429.50" y="676.30" font-size="9.5" fill="#231f20" stroke="#231f20" stroke-width="0.22" text-anchor="middle">Month</text>
<text x="353.30" y="595.00" font-size="9.5" fill="#231f20" stroke="#231f20" stroke-width="0.22" text-anchor="middle" transform="rotate(-90.00 353.30 595.00)">Survival probability</text>
<path d="M372.73,537.97 L375.95,537.97 L375.95,539.22 L377.81,539.22 L377.81,540.70 L379.68,540.70 L379.68,542.19 L380.92,542.19 L380.92,544.06 L382.16,544.06 L382.16,545.92 L384.64,545.92 L384.64,547.78 L387.12,547.78 L387.12,549.64 L389.60,549.64 L389.60,552.12 L392.09,552.12 L392.09,554.60 L394.57,554.60 L394.57,556.47 L397.05,556.47 L397.05,558.33 L399.53,558.33 L399.53,560.19 L402.01,560.19 L402.01,562.05 L404.50,562.05 L404.50,563.91 L406.98,563.91 L406.98,565.77 L409.46,565.77 L409.46,566.64 L411.94,566.64 L411.94,567.51 L414.42,567.51 L414.42,567.88 L416.91,567.88 L416.91,568.26 L419.39,568.26 L419.39,569.50 L421.87,569.50 L421.87,570.74 L424.35,570.74 L424.35,571.36 L426.83,571.36 L426.83,571.98 L429.32,571.98 L429.32,573.22 L431.80,573.22 L431.80,574.46 L433.66,574.46 L433.66,576.32 L435.52,576.32 L435.52,578.18 L437.38,578.18 L437.38,579.42 L439.24,579.42 L439.24,580.67 L441.73,580.67 L441.73,581.91 L444.21,581.91 L444.21,583.15 L446.69,583.15 L446.69,584.02 L449.17,584.02 L449.17,584.88 L451.65,584.88 L451.65,585.63 L454.14,585.63 L454.14,586.37 L456.62,586.37 L456.62,587.24 L459.10,587.24 L459.10,588.11 L461.58,588.11 L461.58,589.35 L464.06,589.35 L464.06,590.59 L466.55,590.59 L466.55,592.21 L469.03,592.21 L469.03,593.82 L470.27,593.82 L470.27,595.56 L477.72,595.56" fill="none" stroke="#1f5ba6" stroke-width="1.3" stroke-linejoin="miter"/>
<path d="M372.73,537.97 L374.71,537.97 L374.71,539.71 L375.33,539.71 L375.33,541.88 L375.95,541.88 L375.95,544.06 L376.57,544.06 L376.57,546.23 L377.19,546.23 L377.19,548.40 L379.06,548.40 L379.06,550.88 L380.92,550.88 L380.92,553.36 L382.78,553.36 L382.78,555.85 L384.64,555.85 L384.64,558.33 L385.88,558.33 L385.88,560.81 L387.12,560.81 L387.12,563.29 L387.95,563.29 L387.95,565.77 L388.78,565.77 L388.78,568.26 L389.60,568.26 L389.60,570.74 L391.47,570.74 L391.47,572.60 L393.33,572.60 L393.33,574.46 L395.19,574.46 L395.19,576.32 L397.05,576.32 L397.05,578.18 L398.91,578.18 L398.91,580.04 L400.77,580.04 L400.77,581.91 L402.63,581.91 L402.63,583.15 L404.50,583.15 L404.50,584.39 L406.98,584.39 L406.98,585.63 L409.46,585.63 L409.46,586.87 L411.94,586.87 L411.94,588.11 L414.42,588.11 L414.42,589.35 L416.91,589.35 L416.91,590.59 L419.39,590.59 L419.39,591.83 L421.87,591.83 L421.87,592.83 L424.35,592.83 L424.35,593.82 L426.83,593.82 L426.83,594.69 L429.32,594.69 L429.32,595.56 L431.80,595.56 L431.80,596.80 L434.28,596.80 L434.28,598.04 L436.76,598.04 L436.76,599.28 L439.24,599.28 L439.24,600.52 L441.73,600.52 L441.73,601.39 L444.21,601.39 L444.21,602.26 L446.69,602.26 L446.69,602.51 L449.17,602.51 L449.17,602.76 L451.65,602.76 L451.65,603.00 L454.14,603.00 L454.14,603.87 L456.62,603.87 L456.62,604.74 L464.06,604.74 L479.45,604.74" fill="none" stroke="#ec2a2e" stroke-width="1.3" stroke-linejoin="miter"/>
<text x="426.80" y="563.80" font-size="9.6" fill="#1a1a1a" stroke="#1a1a1a" stroke-width="0.22">V1&amp;2-enriched</text>
<text x="441.70" y="573.00" font-size="9.6" fill="#1a1a1a" stroke="#1a1a1a" stroke-width="0.22">(n=127)</text>
<text x="385.90" y="612.70" font-size="9.6" fill="#1a1a1a" stroke="#1a1a1a" stroke-width="0.22">V3-8 enriched</text>
<text x="398.30" y="622.10" font-size="9.6" fill="#1a1a1a" stroke="#1a1a1a" stroke-width="0.22">(n=112)</text>
<text x="376.00" y="652.40" font-size="9.6" fill="#1a1a1a" stroke="#1a1a1a" stroke-width="0.22">p = 0.029</text>
<text x="512.40" y="517.30" font-size="13.2" fill="#231f20" stroke="#231f20" stroke-width="0.22">H</text>
<text x="540.00" y="529.00" font-size="9.4" fill="#231f20" stroke="#231f20" stroke-width="0.22">Mongolia</text>
<line x1="540.00" y1="532.30" x2="540.00" y2="656.20" stroke="#4d4d4d" stroke-width="1.2"/>
<line x1="539.40" y1="655.60" x2="660.00" y2="655.60" stroke="#4d4d4d" stroke-width="1.2"/>
<line x1="537.20" y1="538.60" x2="540.00" y2="538.60" stroke="#4d4d4d" stroke-width="1.0"/>
<text x="536.40" y="542.50" font-size="9.3" fill="#231f20" stroke="#231f20" stroke-width="0.22" text-anchor="end">1.0</text>
<line x1="537.20" y1="597.00" x2="540.00" y2="597.00" stroke="#4d4d4d" stroke-width="1.0"/>
<text x="536.40" y="600.90" font-size="9.3" fill="#231f20" stroke="#231f20" stroke-width="0.22" text-anchor="end">0.5</text>
<line x1="537.20" y1="655.60" x2="540.00" y2="655.60" stroke="#4d4d4d" stroke-width="1.0"/>
<text x="536.40" y="659.50" font-size="9.3" fill="#231f20" stroke="#231f20" stroke-width="0.22" text-anchor="end">0.0</text>
<line x1="540.00" y1="655.60" x2="540.00" y2="658.40" stroke="#4d4d4d" stroke-width="1.0"/>
<text x="540.00" y="668.10" font-size="9.4" fill="#231f20" stroke="#231f20" stroke-width="0.22" text-anchor="middle">0</text>
<line x1="608.80" y1="655.60" x2="608.80" y2="658.40" stroke="#4d4d4d" stroke-width="1.0"/>
<text x="608.80" y="668.10" font-size="9.4" fill="#231f20" stroke="#231f20" stroke-width="0.22" text-anchor="middle">30</text>
<text x="597.20" y="676.30" font-size="9.5" fill="#231f20" stroke="#231f20" stroke-width="0.22" text-anchor="middle">Month</text>
<text x="520.50" y="595.00" font-size="9.5" fill="#231f20" stroke="#231f20" stroke-width="0.22" text-anchor="middle" transform="rotate(-90.00 520.50 595.00)">Survival probability</text>
<path d="M539.94,538.10 L544.41,538.10 L544.41,539.94 L547.56,539.94 L547.56,542.56 L549.67,542.56 L549.67,546.77 L553.61,546.77 L553.61,549.40 L572.00,549.40 L572.00,554.39 L590.39,554.39 L590.39,555.70 L598.27,555.70 L598.27,558.33 L620.61,558.33 L620.61,560.43 L627.18,560.43 L627.18,562.53 L629.80,562.53 L629.80,570.42 L654.76,570.42" fill="none" stroke="#1f5ba6" stroke-width="1.3" stroke-linejoin="miter"/>
<path d="M539.94,538.10 L543.10,538.10 L543.10,542.56 L545.20,542.56 L545.20,555.18 L555.45,555.18 L555.45,561.74 L562.28,561.74 L562.28,567.00 L565.96,567.00 L565.96,573.04 L570.69,573.04 L570.69,578.82 L574.63,578.82 L574.63,584.60 L578.57,584.60 L578.57,591.17 L602.74,591.17 L602.74,597.21 L619.29,597.21 L619.29,603.78 L646.88,603.78" fill="none" stroke="#ec2a2e" stroke-width="1.3" stroke-linejoin="miter"/>
<text x="584.30" y="547.40" font-size="9.6" fill="#1a1a1a" stroke="#1a1a1a" stroke-width="0.22">V1&amp;2-enriched</text>
<text x="601.70" y="556.50" font-size="9.6" fill="#1a1a1a" stroke="#1a1a1a" stroke-width="0.22">(n=50)</text>
<text x="552.30" y="611.20" font-size="9.6" fill="#1a1a1a" stroke="#1a1a1a" stroke-width="0.22">V3-8 enriched</text>
<text x="568.60" y="619.90" font-size="9.6" fill="#1a1a1a" stroke="#1a1a1a" stroke-width="0.22">(n=20)</text>
<text x="543.60" y="652.40" font-size="9.6" fill="#1a1a1a" stroke="#1a1a1a" stroke-width="0.22">p = 0.0045</text>
<line x1="37.60" y1="692.70" x2="37.60" y2="814.20" stroke="#4d4d4d" stroke-width="1.2"/>
<line x1="37.00" y1="814.20" x2="81.70" y2="814.20" stroke="#4d4d4d" stroke-width="1.2"/>
<line x1="34.80" y1="698.20" x2="37.60" y2="698.20" stroke="#4d4d4d" stroke-width="1.0"/>
<text x="34.40" y="701.50" font-size="9.4" fill="#231f20" stroke="#231f20" stroke-width="0.22" text-anchor="end">6</text>
<line x1="34.80" y1="727.50" x2="37.60" y2="727.50" stroke="#4d4d4d" stroke-width="1.0"/>
<text x="34.40" y="730.80" font-size="9.4" fill="#231f20" stroke="#231f20" stroke-width="0.22" text-anchor="end">4</text>
<line x1="34.80" y1="757.00" x2="37.60" y2="757.00" stroke="#4d4d4d" stroke-width="1.0"/>
<text x="34.40" y="760.30" font-size="9.4" fill="#231f20" stroke="#231f20" stroke-width="0.22" text-anchor="end">2</text>
<line x1="34.80" y1="786.30" x2="37.60" y2="786.30" stroke="#4d4d4d" stroke-width="1.0"/>
<text x="34.40" y="789.60" font-size="9.4" fill="#231f20" stroke="#231f20" stroke-width="0.22" text-anchor="end">0</text>
<text x="22.80" y="752.50" font-size="9.7" fill="#231f20" stroke="#231f20" stroke-width="0.22" text-anchor="middle" transform="rotate(-90.00 22.80 752.50)">V1&amp;2 feature score</text>
<path d="M50.40,701.4 L50.40,698.3 L72.00,698.3 L72.00,701.4" fill="none" stroke="#333" stroke-width="0.8"/>
<text x="61.20" y="698.60" font-size="8.6" fill="#231f20" stroke="#231f20" stroke-width="0.22" text-anchor="middle">***</text>
<path d="M49.60,775.50 C49.22,776.25 49.32,778.25 48.90,780.00 C48.48,781.75 47.80,784.00 47.10,786.00 C46.40,788.00 45.27,790.13 44.70,792.00 C44.12,793.87 43.57,795.58 43.65,797.20 C43.73,798.82 44.52,800.45 45.15,801.70 C45.77,802.95 46.66,803.95 47.40,804.70 C48.14,805.45 48.97,805.95 49.60,806.20 C50.23,806.45 50.57,806.45 51.20,806.20 C51.83,805.95 52.66,805.45 53.40,804.70 C54.14,803.95 55.02,802.95 55.65,801.70 C56.27,800.45 57.07,798.82 57.15,797.20 C57.23,795.58 56.68,793.87 56.10,792.00 C55.52,790.13 54.40,788.00 53.70,786.00 C53.00,784.00 52.32,781.75 51.90,780.00 C51.48,778.25 51.58,776.25 51.20,775.50 C50.82,774.75 49.98,774.75 49.60,775.50 Z" fill="#f48d88" stroke="#4a4a4a" stroke-width="0.65"/>
<line x1="50.40" y1="775.50" x2="50.40" y2="806.20" stroke="#333" stroke-width="0.7"/>
<line x1="48.80" y1="775.50" x2="52.00" y2="775.50" stroke="#333" stroke-width="0.8"/>
<rect x="48.60" y="790.50" width="3.60" height="10.20" fill="#fff" stroke="#333" stroke-width="0.65"/>
<line x1="48.60" y1="795.40" x2="52.20" y2="795.40" stroke="#666" stroke-width="0.7"/>
<path d="M71.40,736.80 C71.15,738.00 71.30,741.30 71.10,744.00 C70.90,746.70 70.45,750.00 70.20,753.00 C69.95,756.00 69.80,759.00 69.60,762.00 C69.40,765.00 69.10,768.00 69.00,771.00 C68.90,774.00 68.90,777.50 69.00,780.00 C69.10,782.50 69.23,784.13 69.60,786.00 C69.97,787.87 70.67,790.33 71.20,791.20 C71.73,792.07 72.27,792.07 72.80,791.20 C73.33,790.33 74.03,787.87 74.40,786.00 C74.77,784.13 74.90,782.50 75.00,780.00 C75.10,777.50 75.10,774.00 75.00,771.00 C74.90,768.00 74.60,765.00 74.40,762.00 C74.20,759.00 74.05,756.00 73.80,753.00 C73.55,750.00 73.10,746.70 72.90,744.00 C72.70,741.30 72.85,738.00 72.60,736.80 C72.35,735.60 71.65,735.60 71.40,736.80 Z" fill="#6b9bd0" stroke="#4a4a4a" stroke-width="0.65"/>
<line x1="72.00" y1="736.80" x2="72.00" y2="791.20" stroke="#333" stroke-width="0.7"/>
<line x1="70.40" y1="736.80" x2="73.60" y2="736.80" stroke="#333" stroke-width="0.8"/>
<rect x="70.20" y="764.70" width="3.60" height="17.10" fill="#fff" stroke="#333" stroke-width="0.65"/>
<line x1="70.20" y1="776.20" x2="73.80" y2="776.20" stroke="#666" stroke-width="0.7"/>
<line x1="107.50" y1="692.70" x2="107.50" y2="814.20" stroke="#4d4d4d" stroke-width="1.2"/>
<line x1="106.90" y1="814.20" x2="151.70" y2="814.20" stroke="#4d4d4d" stroke-width="1.2"/>
<line x1="104.70" y1="698.20" x2="107.50" y2="698.20" stroke="#4d4d4d" stroke-width="1.0"/>
<text x="104.30" y="701.50" font-size="9.4" fill="#231f20" stroke="#231f20" stroke-width="0.22" text-anchor="end">6</text>
<line x1="104.70" y1="727.50" x2="107.50" y2="727.50" stroke="#4d4d4d" stroke-width="1.0"/>
<text x="104.30" y="730.80" font-size="9.4" fill="#231f20" stroke="#231f20" stroke-width="0.22" text-anchor="end">4</text>
<line x1="104.70" y1="757.00" x2="107.50" y2="757.00" stroke="#4d4d4d" stroke-width="1.0"/>
<text x="104.30" y="760.30" font-size="9.4" fill="#231f20" stroke="#231f20" stroke-width="0.22" text-anchor="end">2</text>
<line x1="104.70" y1="786.30" x2="107.50" y2="786.30" stroke="#4d4d4d" stroke-width="1.0"/>
<text x="104.30" y="789.60" font-size="9.4" fill="#231f20" stroke="#231f20" stroke-width="0.22" text-anchor="end">0</text>
<text x="95.20" y="752.50" font-size="9.7" fill="#231f20" stroke="#231f20" stroke-width="0.22" text-anchor="middle" transform="rotate(-90.00 95.20 752.50)">V3-8 feature score</text>
<path d="M118.30,701.4 L118.30,698.3 L140.50,698.3 L140.50,701.4" fill="none" stroke="#333" stroke-width="0.8"/>
<text x="129.40" y="698.60" font-size="8.6" fill="#231f20" stroke="#231f20" stroke-width="0.22" text-anchor="middle">***</text>
<path d="M118.00,703.20 C117.88,709.33 117.98,731.70 117.90,740.00 C117.82,748.30 117.68,747.83 117.50,753.00 C117.32,758.17 117.29,766.50 116.80,771.00 C116.31,775.50 115.13,777.50 114.55,780.00 C113.97,782.50 113.62,784.00 113.30,786.00 C112.97,788.00 112.47,790.00 112.60,792.00 C112.73,794.00 113.45,796.00 114.10,798.00 C114.75,800.00 115.88,802.25 116.50,804.00 C117.12,805.75 117.42,807.75 117.80,808.50 C118.18,809.25 118.42,809.25 118.80,808.50 C119.18,807.75 119.48,805.75 120.10,804.00 C120.72,802.25 121.85,800.00 122.50,798.00 C123.15,796.00 123.87,794.00 124.00,792.00 C124.13,790.00 123.62,788.00 123.30,786.00 C122.97,784.00 122.63,782.50 122.05,780.00 C121.47,777.50 120.29,775.50 119.80,771.00 C119.31,766.50 119.28,758.17 119.10,753.00 C118.92,747.83 118.78,748.30 118.70,740.00 C118.62,731.70 118.72,709.33 118.60,703.20 C118.48,697.07 118.12,697.07 118.00,703.20 Z" fill="#f48d88" stroke="#4a4a4a" stroke-width="0.65"/>
<line x1="118.30" y1="703.20" x2="118.30" y2="808.50" stroke="#333" stroke-width="0.7"/>
<line x1="116.70" y1="759.30" x2="119.90" y2="759.30" stroke="#333" stroke-width="0.8"/>
<line x1="116.70" y1="808.50" x2="119.90" y2="808.50" stroke="#333" stroke-width="0.8"/>
<rect x="117.00" y="779.70" width="3.20" height="13.80" fill="#fff" stroke="#333" stroke-width="0.65"/>
<line x1="117.00" y1="789.00" x2="120.20" y2="789.00" stroke="#666" stroke-width="0.7"/>
<path d="M139.90,771.00 C139.65,772.50 139.70,777.50 139.00,780.00 C138.30,782.50 137.05,784.00 135.70,786.00 C134.35,788.00 131.65,790.50 130.90,792.00 C130.15,793.50 130.52,793.75 131.20,795.00 C131.88,796.25 133.75,798.00 135.00,799.50 C136.25,801.00 137.92,802.95 138.70,804.00 C139.48,805.05 139.37,805.50 139.70,805.80 C140.03,806.10 140.37,806.10 140.70,805.80 C141.03,805.50 140.92,805.05 141.70,804.00 C142.48,802.95 144.15,801.00 145.40,799.50 C146.65,798.00 148.52,796.25 149.20,795.00 C149.88,793.75 150.25,793.50 149.50,792.00 C148.75,790.50 146.05,788.00 144.70,786.00 C143.35,784.00 142.10,782.50 141.40,780.00 C140.70,777.50 140.75,772.50 140.50,771.00 C140.25,769.50 140.15,769.50 139.90,771.00 Z" fill="#6b9bd0" stroke="#4a4a4a" stroke-width="0.65"/>
<line x1="140.20" y1="771.00" x2="140.20" y2="805.80" stroke="#333" stroke-width="0.7"/>
<line x1="138.60" y1="805.80" x2="141.80" y2="805.80" stroke="#333" stroke-width="0.8"/>
<rect x="138.50" y="789.70" width="3.50" height="6.00" fill="#fff" stroke="#333" stroke-width="0.65"/>
<line x1="138.50" y1="792.70" x2="142.00" y2="792.70" stroke="#666" stroke-width="0.7"/>
<rect x="14.70" y="825.90" width="8.20" height="8.10" fill="#1f5ba6"/>
<text x="24.60" y="833.00" font-size="9.6" fill="#231f20" stroke="#231f20" stroke-width="0.22">V1&amp;2 enriched</text>
<rect x="92.60" y="825.90" width="8.20" height="8.10" fill="#ec2a2e"/>
<text x="102.30" y="833.00" font-size="9.6" fill="#231f20" stroke="#231f20" stroke-width="0.22">V3-8 enriched</text>
<line x1="206.00" y1="692.70" x2="206.00" y2="814.20" stroke="#4d4d4d" stroke-width="1.2"/>
<line x1="205.40" y1="814.20" x2="251.00" y2="814.20" stroke="#4d4d4d" stroke-width="1.2"/>
<line x1="203.20" y1="712.50" x2="206.00" y2="712.50" stroke="#4d4d4d" stroke-width="1.0"/>
<text x="202.80" y="715.80" font-size="9.4" fill="#231f20" stroke="#231f20" stroke-width="0.22" text-anchor="end">2.5</text>
<line x1="203.20" y1="745.50" x2="206.00" y2="745.50" stroke="#4d4d4d" stroke-width="1.0"/>
<text x="202.80" y="748.80" font-size="9.4" fill="#231f20" stroke="#231f20" stroke-width="0.22" text-anchor="end">0.0</text>
<line x1="203.20" y1="779.20" x2="206.00" y2="779.20" stroke="#4d4d4d" stroke-width="1.0"/>
<text x="202.80" y="782.50" font-size="9.4" fill="#231f20" stroke="#231f20" stroke-width="0.22" text-anchor="end">−2.5</text>
<line x1="203.20" y1="813.30" x2="206.00" y2="813.30" stroke="#4d4d4d" stroke-width="1.0"/>
<text x="202.80" y="816.60" font-size="9.4" fill="#231f20" stroke="#231f20" stroke-width="0.22" text-anchor="end">−5.0</text>
<text x="182.10" y="752.50" font-size="9.7" fill="#231f20" stroke="#231f20" stroke-width="0.22" text-anchor="middle" transform="rotate(-90.00 182.10 752.50)">V1&amp;2 feature score</text>
<path d="M218.30,701.4 L218.30,698.3 L238.70,698.3 L238.70,701.4" fill="none" stroke="#333" stroke-width="0.8"/>
<text x="228.50" y="698.60" font-size="8.6" fill="#231f20" stroke="#231f20" stroke-width="0.22" text-anchor="middle">***</text>
<path d="M218.00,705.70 C217.82,706.83 217.75,710.12 217.55,712.50 C217.35,714.88 217.23,717.50 216.80,720.00 C216.38,722.50 215.62,725.00 215.00,727.50 C214.38,730.00 213.55,732.25 213.05,735.00 C212.55,737.75 212.25,741.25 212.00,744.00 C211.75,746.75 211.45,749.25 211.55,751.50 C211.65,753.75 212.10,755.25 212.60,757.50 C213.10,759.75 213.85,762.50 214.55,765.00 C215.25,767.50 216.28,770.00 216.80,772.50 C217.33,775.00 217.50,773.88 217.70,780.00 C217.90,786.12 217.85,804.33 218.00,809.20 C218.15,814.07 218.45,814.07 218.60,809.20 C218.75,804.33 218.70,786.12 218.90,780.00 C219.10,773.88 219.28,775.00 219.80,772.50 C220.33,770.00 221.35,767.50 222.05,765.00 C222.75,762.50 223.50,759.75 224.00,757.50 C224.50,755.25 224.95,753.75 225.05,751.50 C225.15,749.25 224.85,746.75 224.60,744.00 C224.35,741.25 224.05,737.75 223.55,735.00 C223.05,732.25 222.23,730.00 221.60,727.50 C220.98,725.00 220.23,722.50 219.80,720.00 C219.38,717.50 219.25,714.88 219.05,712.50 C218.85,710.12 218.78,706.83 218.60,705.70 C218.43,704.57 218.18,704.57 218.00,705.70 Z" fill="#f48d88" stroke="#4a4a4a" stroke-width="0.65"/>
<line x1="218.30" y1="705.70" x2="218.30" y2="809.20" stroke="#333" stroke-width="0.7"/>
<line x1="216.70" y1="712.80" x2="219.90" y2="712.80" stroke="#333" stroke-width="0.8"/>
<line x1="216.70" y1="783.30" x2="219.90" y2="783.30" stroke="#333" stroke-width="0.8"/>
<rect x="216.50" y="739.20" width="3.60" height="18.00" fill="#fff" stroke="#333" stroke-width="0.65"/>
<line x1="216.50" y1="749.00" x2="220.10" y2="749.00" stroke="#666" stroke-width="0.7"/>
<path d="M238.40,714.00 C238.10,715.00 237.90,717.75 237.20,720.00 C236.50,722.25 235.32,725.00 234.20,727.50 C233.07,730.00 231.25,733.00 230.45,735.00 C229.65,737.00 229.15,737.75 229.40,739.50 C229.65,741.25 231.02,743.25 231.95,745.50 C232.88,747.75 234.07,750.25 234.95,753.00 C235.82,755.75 236.70,759.25 237.20,762.00 C237.70,764.75 237.75,766.13 237.95,769.50 C238.15,772.87 238.22,780.08 238.40,782.20 C238.57,784.32 238.82,784.32 239.00,782.20 C239.18,780.08 239.25,772.87 239.45,769.50 C239.65,766.13 239.70,764.75 240.20,762.00 C240.70,759.25 241.57,755.75 242.45,753.00 C243.32,750.25 244.52,747.75 245.45,745.50 C246.38,743.25 247.75,741.25 248.00,739.50 C248.25,737.75 247.75,737.00 246.95,735.00 C246.15,733.00 244.32,730.00 243.20,727.50 C242.07,725.00 240.90,722.25 240.20,720.00 C239.50,717.75 239.30,715.00 239.00,714.00 C238.70,713.00 238.70,713.00 238.40,714.00 Z" fill="#6b9bd0" stroke="#4a4a4a" stroke-width="0.65"/>
<line x1="238.70" y1="714.00" x2="238.70" y2="782.20" stroke="#333" stroke-width="0.7"/>
<line x1="237.10" y1="714.30" x2="240.30" y2="714.30" stroke="#333" stroke-width="0.8"/>
<line x1="237.10" y1="769.50" x2="240.30" y2="769.50" stroke="#333" stroke-width="0.8"/>
<rect x="236.90" y="735.00" width="3.60" height="13.50" fill="#fff" stroke="#333" stroke-width="0.65"/>
<line x1="236.90" y1="741.00" x2="240.50" y2="741.00" stroke="#666" stroke-width="0.7"/>
<line x1="285.70" y1="692.70" x2="285.70" y2="814.20" stroke="#4d4d4d" stroke-width="1.2"/>
<line x1="285.10" y1="814.20" x2="330.70" y2="814.20" stroke="#4d4d4d" stroke-width="1.2"/>
<line x1="282.90" y1="712.50" x2="285.70" y2="712.50" stroke="#4d4d4d" stroke-width="1.0"/>
<text x="282.50" y="715.80" font-size="9.4" fill="#231f20" stroke="#231f20" stroke-width="0.22" text-anchor="end">2.5</text>
<line x1="282.90" y1="745.50" x2="285.70" y2="745.50" stroke="#4d4d4d" stroke-width="1.0"/>
<text x="282.50" y="748.80" font-size="9.4" fill="#231f20" stroke="#231f20" stroke-width="0.22" text-anchor="end">0.0</text>
<line x1="282.90" y1="779.20" x2="285.70" y2="779.20" stroke="#4d4d4d" stroke-width="1.0"/>
<text x="282.50" y="782.50" font-size="9.4" fill="#231f20" stroke="#231f20" stroke-width="0.22" text-anchor="end">−2.5</text>
<line x1="282.90" y1="813.30" x2="285.70" y2="813.30" stroke="#4d4d4d" stroke-width="1.0"/>
<text x="282.50" y="816.60" font-size="9.4" fill="#231f20" stroke="#231f20" stroke-width="0.22" text-anchor="end">−5.0</text>
<text x="262.70" y="752.50" font-size="9.7" fill="#231f20" stroke="#231f20" stroke-width="0.22" text-anchor="middle" transform="rotate(-90.00 262.70 752.50)">V3-8 feature score</text>
<path d="M297.20,701.4 L297.20,698.3 L318.70,698.3 L318.70,701.4" fill="none" stroke="#333" stroke-width="0.8"/>
<text x="307.95" y="698.60" font-size="8.6" fill="#231f20" stroke="#231f20" stroke-width="0.22" text-anchor="middle">***</text>
<path d="M297.40,703.50 C297.22,704.25 297.35,705.75 296.95,708.00 C296.55,710.25 295.75,714.25 295.00,717.00 C294.25,719.75 293.30,721.75 292.45,724.50 C291.60,727.25 290.15,731.00 289.90,733.50 C289.65,736.00 290.27,736.75 290.95,739.50 C291.62,742.25 293.12,746.75 293.95,750.00 C294.77,753.25 295.40,756.50 295.90,759.00 C296.40,761.50 296.70,763.00 296.95,765.00 C297.20,767.00 297.22,770.00 297.40,771.00 C297.57,772.00 297.82,772.00 298.00,771.00 C298.18,770.00 298.20,767.00 298.45,765.00 C298.70,763.00 299.00,761.50 299.50,759.00 C300.00,756.50 300.62,753.25 301.45,750.00 C302.27,746.75 303.77,742.25 304.45,739.50 C305.12,736.75 305.75,736.00 305.50,733.50 C305.25,731.00 303.80,727.25 302.95,724.50 C302.10,721.75 301.15,719.75 300.40,717.00 C299.65,714.25 298.85,710.25 298.45,708.00 C298.05,705.75 298.18,704.25 298.00,703.50 C297.82,702.75 297.57,702.75 297.40,703.50 Z" fill="#f48d88" stroke="#4a4a4a" stroke-width="0.65"/>
<line x1="297.70" y1="703.50" x2="297.70" y2="771.00" stroke="#333" stroke-width="0.7"/>
<line x1="296.10" y1="707.00" x2="299.30" y2="707.00" stroke="#333" stroke-width="0.8"/>
<line x1="296.10" y1="768.50" x2="299.30" y2="768.50" stroke="#333" stroke-width="0.8"/>
<rect x="295.70" y="730.50" width="3.90" height="16.20" fill="#fff" stroke="#333" stroke-width="0.65"/>
<line x1="295.70" y1="737.20" x2="299.60" y2="737.20" stroke="#666" stroke-width="0.7"/>
<path d="M318.30,722.20 C318.03,723.08 317.98,725.37 317.50,727.50 C317.02,729.63 316.20,732.25 315.40,735.00 C314.60,737.75 313.45,741.00 312.70,744.00 C311.95,747.00 311.02,750.50 310.90,753.00 C310.77,755.50 311.27,756.50 311.95,759.00 C312.62,761.50 314.02,765.25 314.95,768.00 C315.88,770.75 316.94,772.75 317.50,775.50 C318.06,778.25 318.03,783.00 318.30,784.50 C318.57,786.00 318.83,786.00 319.10,784.50 C319.37,783.00 319.34,778.25 319.90,775.50 C320.46,772.75 321.52,770.75 322.45,768.00 C323.38,765.25 324.77,761.50 325.45,759.00 C326.12,756.50 326.62,755.50 326.50,753.00 C326.38,750.50 325.45,747.00 324.70,744.00 C323.95,741.00 322.80,737.75 322.00,735.00 C321.20,732.25 320.38,729.63 319.90,727.50 C319.42,725.37 319.37,723.08 319.10,722.20 C318.83,721.32 318.57,721.32 318.30,722.20 Z" fill="#6b9bd0" stroke="#4a4a4a" stroke-width="0.65"/>
<line x1="318.70" y1="722.20" x2="318.70" y2="784.50" stroke="#333" stroke-width="0.7"/>
<line x1="317.10" y1="722.50" x2="320.30" y2="722.50" stroke="#333" stroke-width="0.8"/>
<line x1="317.10" y1="784.30" x2="320.30" y2="784.30" stroke="#333" stroke-width="0.8"/>
<rect x="316.70" y="744.30" width="3.80" height="15.90" fill="#fff" stroke="#333" stroke-width="0.65"/>
<line x1="316.70" y1="752.20" x2="320.50" y2="752.20" stroke="#666" stroke-width="0.7"/>
<rect x="186.40" y="825.90" width="8.20" height="8.10" fill="#1f5ba6"/>
<text x="195.30" y="833.00" font-size="9.6" fill="#231f20" stroke="#231f20" stroke-width="0.22">V1&amp;2 enriched</text>
<rect x="263.90" y="825.90" width="8.20" height="8.10" fill="#ec2a2e"/>
<text x="273.50" y="833.00" font-size="9.6" fill="#231f20" stroke="#231f20" stroke-width="0.22">V3-8 enriched</text>
<line x1="373.70" y1="692.70" x2="373.70" y2="814.20" stroke="#4d4d4d" stroke-width="1.2"/>
<line x1="373.10" y1="814.20" x2="417.50" y2="814.20" stroke="#4d4d4d" stroke-width="1.2"/>
<line x1="370.90" y1="701.70" x2="373.70" y2="701.70" stroke="#4d4d4d" stroke-width="1.0"/>
<text x="370.50" y="705.00" font-size="9.4" fill="#231f20" stroke="#231f20" stroke-width="0.22" text-anchor="end">4</text>
<line x1="370.90" y1="731.20" x2="373.70" y2="731.20" stroke="#4d4d4d" stroke-width="1.0"/>
<text x="370.50" y="734.50" font-size="9.4" fill="#231f20" stroke="#231f20" stroke-width="0.22" text-anchor="end">2</text>
<line x1="370.90" y1="761.20" x2="373.70" y2="761.20" stroke="#4d4d4d" stroke-width="1.0"/>
<text x="370.50" y="764.50" font-size="9.4" fill="#231f20" stroke="#231f20" stroke-width="0.22" text-anchor="end">0</text>
<line x1="370.90" y1="790.20" x2="373.70" y2="790.20" stroke="#4d4d4d" stroke-width="1.0"/>
<text x="370.50" y="793.50" font-size="9.4" fill="#231f20" stroke="#231f20" stroke-width="0.22" text-anchor="end">−2</text>
<text x="356.30" y="752.50" font-size="9.7" fill="#231f20" stroke="#231f20" stroke-width="0.22" text-anchor="middle" transform="rotate(-90.00 356.30 752.50)">V1&amp;2 feature score</text>
<path d="M385.20,701.4 L385.20,698.3 L407.30,698.3 L407.30,701.4" fill="none" stroke="#333" stroke-width="0.8"/>
<text x="396.25" y="698.60" font-size="8.6" fill="#231f20" stroke="#231f20" stroke-width="0.22" text-anchor="middle">***</text>
<path d="M385.40,730.20 C385.00,731.00 384.80,732.95 384.20,735.00 C383.60,737.05 382.45,740.00 381.80,742.50 C381.15,745.00 380.65,747.50 380.30,750.00 C379.95,752.50 379.70,755.00 379.70,757.50 C379.70,760.00 379.95,762.25 380.30,765.00 C380.65,767.75 381.30,771.00 381.80,774.00 C382.30,777.00 382.85,780.00 383.30,783.00 C383.75,786.00 384.18,789.00 384.50,792.00 C384.82,795.00 385.07,798.25 385.25,801.00 C385.43,803.75 385.41,807.25 385.60,808.50 C385.79,809.75 386.21,809.75 386.40,808.50 C386.59,807.25 386.57,803.75 386.75,801.00 C386.93,798.25 387.18,795.00 387.50,792.00 C387.82,789.00 388.25,786.00 388.70,783.00 C389.15,780.00 389.70,777.00 390.20,774.00 C390.70,771.00 391.35,767.75 391.70,765.00 C392.05,762.25 392.30,760.00 392.30,757.50 C392.30,755.00 392.05,752.50 391.70,750.00 C391.35,747.50 390.85,745.00 390.20,742.50 C389.55,740.00 388.40,737.05 387.80,735.00 C387.20,732.95 387.00,731.00 386.60,730.20 C386.20,729.40 385.80,729.40 385.40,730.20 Z" fill="#f48d88" stroke="#4a4a4a" stroke-width="0.65"/>
<line x1="386.00" y1="730.20" x2="386.00" y2="808.50" stroke="#333" stroke-width="0.7"/>
<line x1="384.40" y1="730.40" x2="387.60" y2="730.40" stroke="#333" stroke-width="0.8"/>
<line x1="384.40" y1="808.30" x2="387.60" y2="808.30" stroke="#333" stroke-width="0.8"/>
<rect x="384.00" y="754.50" width="4.00" height="21.70" fill="#fff" stroke="#333" stroke-width="0.65"/>
<line x1="384.00" y1="763.50" x2="388.00" y2="763.50" stroke="#666" stroke-width="0.7"/>
<path d="M407.00,723.00 C406.82,724.75 407.25,730.75 406.55,733.50 C405.85,736.25 404.05,737.25 402.80,739.50 C401.55,741.75 399.85,744.75 399.05,747.00 C398.25,749.25 397.93,750.75 398.00,753.00 C398.07,755.25 398.82,758.00 399.50,760.50 C400.18,763.00 401.25,765.50 402.05,768.00 C402.85,770.50 403.62,773.00 404.30,775.50 C404.98,778.00 405.65,779.38 406.10,783.00 C406.55,786.62 406.75,794.83 407.00,797.20 C407.25,799.57 407.35,799.57 407.60,797.20 C407.85,794.83 408.05,786.62 408.50,783.00 C408.95,779.38 409.62,778.00 410.30,775.50 C410.98,773.00 411.75,770.50 412.55,768.00 C413.35,765.50 414.43,763.00 415.10,760.50 C415.78,758.00 416.53,755.25 416.60,753.00 C416.68,750.75 416.35,749.25 415.55,747.00 C414.75,744.75 413.05,741.75 411.80,739.50 C410.55,737.25 408.75,736.25 408.05,733.50 C407.35,730.75 407.78,724.75 407.60,723.00 C407.43,721.25 407.18,721.25 407.00,723.00 Z" fill="#6b9bd0" stroke="#4a4a4a" stroke-width="0.65"/>
<line x1="407.30" y1="723.00" x2="407.30" y2="797.20" stroke="#333" stroke-width="0.7"/>
<line x1="405.70" y1="733.30" x2="408.90" y2="733.30" stroke="#333" stroke-width="0.8"/>
<line x1="405.70" y1="785.30" x2="408.90" y2="785.30" stroke="#333" stroke-width="0.8"/>
<rect x="405.20" y="749.20" width="4.00" height="14.30" fill="#fff" stroke="#333" stroke-width="0.65"/>
<line x1="405.20" y1="756.00" x2="409.20" y2="756.00" stroke="#666" stroke-width="0.7"/>
<line x1="451.00" y1="692.70" x2="451.00" y2="814.20" stroke="#4d4d4d" stroke-width="1.2"/>
<line x1="450.40" y1="814.20" x2="494.50" y2="814.20" stroke="#4d4d4d" stroke-width="1.2"/>
<line x1="448.20" y1="701.70" x2="451.00" y2="701.70" stroke="#4d4d4d" stroke-width="1.0"/>
<text x="447.80" y="705.00" font-size="9.4" fill="#231f20" stroke="#231f20" stroke-width="0.22" text-anchor="end">4</text>
<line x1="448.20" y1="731.20" x2="451.00" y2="731.20" stroke="#4d4d4d" stroke-width="1.0"/>
<text x="447.80" y="734.50" font-size="9.4" fill="#231f20" stroke="#231f20" stroke-width="0.22" text-anchor="end">2</text>
<line x1="448.20" y1="761.20" x2="451.00" y2="761.20" stroke="#4d4d4d" stroke-width="1.0"/>
<text x="447.80" y="764.50" font-size="9.4" fill="#231f20" stroke="#231f20" stroke-width="0.22" text-anchor="end">0</text>
<line x1="448.20" y1="790.20" x2="451.00" y2="790.20" stroke="#4d4d4d" stroke-width="1.0"/>
<text x="447.80" y="793.50" font-size="9.4" fill="#231f20" stroke="#231f20" stroke-width="0.22" text-anchor="end">−2</text>
<text x="434.00" y="752.50" font-size="9.7" fill="#231f20" stroke="#231f20" stroke-width="0.22" text-anchor="middle" transform="rotate(-90.00 434.00 752.50)">V3-8 feature score</text>
<path d="M461.50,701.4 L461.50,698.3 L483.20,698.3 L483.20,701.4" fill="none" stroke="#333" stroke-width="0.8"/>
<text x="472.35" y="698.60" font-size="8.6" fill="#231f20" stroke="#231f20" stroke-width="0.22" text-anchor="middle">***</text>
<path d="M461.50,703.20 C461.32,705.50 461.38,713.20 461.05,717.00 C460.73,720.80 460.23,723.00 459.55,726.00 C458.88,729.00 457.75,732.00 457.00,735.00 C456.25,738.00 455.50,740.75 455.05,744.00 C454.60,747.25 454.18,751.25 454.30,754.50 C454.43,757.75 455.18,760.50 455.80,763.50 C456.43,766.50 457.30,769.50 458.05,772.50 C458.80,775.50 459.76,779.00 460.30,781.50 C460.84,784.00 461.10,784.95 461.30,787.50 C461.50,790.05 461.37,795.25 461.50,796.80 C461.63,798.35 461.97,798.35 462.10,796.80 C462.23,795.25 462.10,790.05 462.30,787.50 C462.50,784.95 462.76,784.00 463.30,781.50 C463.84,779.00 464.80,775.50 465.55,772.50 C466.30,769.50 467.18,766.50 467.80,763.50 C468.43,760.50 469.18,757.75 469.30,754.50 C469.43,751.25 469.00,747.25 468.55,744.00 C468.10,740.75 467.35,738.00 466.60,735.00 C465.85,732.00 464.73,729.00 464.05,726.00 C463.38,723.00 462.88,720.80 462.55,717.00 C462.23,713.20 462.28,705.50 462.10,703.20 C461.93,700.90 461.68,700.90 461.50,703.20 Z" fill="#f48d88" stroke="#4a4a4a" stroke-width="0.65"/>
<line x1="461.80" y1="703.20" x2="461.80" y2="796.80" stroke="#333" stroke-width="0.7"/>
<line x1="460.20" y1="717.50" x2="463.40" y2="717.50" stroke="#333" stroke-width="0.8"/>
<line x1="460.20" y1="792.50" x2="463.40" y2="792.50" stroke="#333" stroke-width="0.8"/>
<rect x="460.00" y="745.20" width="3.60" height="19.30" fill="#fff" stroke="#333" stroke-width="0.65"/>
<line x1="460.00" y1="755.00" x2="463.60" y2="755.00" stroke="#666" stroke-width="0.7"/>
<path d="M482.80,730.50 C482.61,731.25 482.83,732.75 482.45,735.00 C482.07,737.25 481.38,741.00 480.50,744.00 C479.62,747.00 478.12,749.75 477.20,753.00 C476.27,756.25 475.15,760.50 474.95,763.50 C474.75,766.50 475.38,768.25 476.00,771.00 C476.62,773.75 477.80,777.25 478.70,780.00 C479.60,782.75 480.72,784.80 481.40,787.50 C482.08,790.20 482.43,794.75 482.80,796.20 C483.17,797.65 483.23,797.65 483.60,796.20 C483.97,794.75 484.32,790.20 485.00,787.50 C485.68,784.80 486.80,782.75 487.70,780.00 C488.60,777.25 489.77,773.75 490.40,771.00 C491.02,768.25 491.65,766.50 491.45,763.50 C491.25,760.50 490.12,756.25 489.20,753.00 C488.27,749.75 486.77,747.00 485.90,744.00 C485.02,741.00 484.33,737.25 483.95,735.00 C483.57,732.75 483.79,731.25 483.60,730.50 C483.41,729.75 482.99,729.75 482.80,730.50 Z" fill="#6b9bd0" stroke="#4a4a4a" stroke-width="0.65"/>
<line x1="483.20" y1="730.50" x2="483.20" y2="796.20" stroke="#333" stroke-width="0.7"/>
<line x1="481.60" y1="734.80" x2="484.80" y2="734.80" stroke="#333" stroke-width="0.8"/>
<line x1="481.60" y1="796.20" x2="484.80" y2="796.20" stroke="#333" stroke-width="0.8"/>
<rect x="481.00" y="759.30" width="4.20" height="16.20" fill="#fff" stroke="#333" stroke-width="0.65"/>
<line x1="481.00" y1="767.20" x2="485.20" y2="767.20" stroke="#666" stroke-width="0.7"/>
<rect x="356.40" y="825.90" width="8.20" height="8.10" fill="#1f5ba6"/>
<text x="365.30" y="833.00" font-size="9.6" fill="#231f20" stroke="#231f20" stroke-width="0.22">V1&amp;2 enriched</text>
<rect x="433.90" y="825.90" width="8.20" height="8.10" fill="#ec2a2e"/>
<text x="443.50" y="833.00" font-size="9.6" fill="#231f20" stroke="#231f20" stroke-width="0.22">V3-8 enriched</text>
<line x1="541.70" y1="692.70" x2="541.70" y2="814.20" stroke="#4d4d4d" stroke-width="1.2"/>
<line x1="541.10" y1="814.20" x2="587.50" y2="814.20" stroke="#4d4d4d" stroke-width="1.2"/>
<line x1="538.90" y1="696.70" x2="541.70" y2="696.70" stroke="#4d4d4d" stroke-width="1.0"/>
<text x="538.50" y="700.00" font-size="9.4" fill="#231f20" stroke="#231f20" stroke-width="0.22" text-anchor="end">4</text>
<line x1="538.90" y1="727.80" x2="541.70" y2="727.80" stroke="#4d4d4d" stroke-width="1.0"/>
<text x="538.50" y="731.10" font-size="9.4" fill="#231f20" stroke="#231f20" stroke-width="0.22" text-anchor="end">2</text>
<line x1="538.90" y1="758.70" x2="541.70" y2="758.70" stroke="#4d4d4d" stroke-width="1.0"/>
<text x="538.50" y="762.00" font-size="9.4" fill="#231f20" stroke="#231f20" stroke-width="0.22" text-anchor="end">0</text>
<line x1="538.90" y1="789.70" x2="541.70" y2="789.70" stroke="#4d4d4d" stroke-width="1.0"/>
<text x="538.50" y="793.00" font-size="9.4" fill="#231f20" stroke="#231f20" stroke-width="0.22" text-anchor="end">−2</text>
<text x="525.50" y="752.50" font-size="9.7" fill="#231f20" stroke="#231f20" stroke-width="0.22" text-anchor="middle" transform="rotate(-90.00 525.50 752.50)">V1&amp;2 feature score</text>
<path d="M554.50,701.4 L554.50,698.3 L575.80,698.3 L575.80,701.4" fill="none" stroke="#333" stroke-width="0.8"/>
<text x="565.15" y="698.60" font-size="8.6" fill="#231f20" stroke="#231f20" stroke-width="0.22" text-anchor="middle">***</text>
<path d="M553.90,742.50 C553.55,743.25 553.52,745.25 553.00,747.00 C552.48,748.75 551.50,751.00 550.75,753.00 C550.00,755.00 549.12,757.00 548.50,759.00 C547.88,761.00 547.00,763.00 547.00,765.00 C547.00,767.00 547.88,769.00 548.50,771.00 C549.12,773.00 550.10,775.00 550.75,777.00 C551.40,779.00 551.98,780.00 552.40,783.00 C552.82,786.00 553.02,790.75 553.30,795.00 C553.58,799.25 553.83,806.25 554.10,808.50 C554.37,810.75 554.63,810.75 554.90,808.50 C555.17,806.25 555.42,799.25 555.70,795.00 C555.98,790.75 556.18,786.00 556.60,783.00 C557.02,780.00 557.60,779.00 558.25,777.00 C558.90,775.00 559.88,773.00 560.50,771.00 C561.12,769.00 562.00,767.00 562.00,765.00 C562.00,763.00 561.12,761.00 560.50,759.00 C559.88,757.00 559.00,755.00 558.25,753.00 C557.50,751.00 556.52,748.75 556.00,747.00 C555.48,745.25 555.45,743.25 555.10,742.50 C554.75,741.75 554.25,741.75 553.90,742.50 Z" fill="#f48d88" stroke="#4a4a4a" stroke-width="0.65"/>
<line x1="554.50" y1="742.50" x2="554.50" y2="808.50" stroke="#333" stroke-width="0.7"/>
<line x1="552.90" y1="742.70" x2="556.10" y2="742.70" stroke="#333" stroke-width="0.8"/>
<line x1="552.90" y1="808.30" x2="556.10" y2="808.30" stroke="#333" stroke-width="0.8"/>
<rect x="552.70" y="762.70" width="4.10" height="18.80" fill="#fff" stroke="#333" stroke-width="0.65"/>
<line x1="552.70" y1="767.70" x2="556.80" y2="767.70" stroke="#666" stroke-width="0.7"/>
<path d="M575.20,727.20 C574.85,728.00 574.95,729.95 574.30,732.00 C573.65,734.05 572.42,737.00 571.30,739.50 C570.17,742.00 568.35,745.00 567.55,747.00 C566.75,749.00 566.25,749.75 566.50,751.50 C566.75,753.25 568.12,755.25 569.05,757.50 C569.97,759.75 571.22,762.25 572.05,765.00 C572.88,767.75 573.52,771.50 574.00,774.00 C574.48,776.50 574.65,777.75 574.90,780.00 C575.15,782.25 575.30,786.25 575.50,787.50 C575.70,788.75 575.90,788.75 576.10,787.50 C576.30,786.25 576.45,782.25 576.70,780.00 C576.95,777.75 577.12,776.50 577.60,774.00 C578.07,771.50 578.72,767.75 579.55,765.00 C580.38,762.25 581.62,759.75 582.55,757.50 C583.47,755.25 584.85,753.25 585.10,751.50 C585.35,749.75 584.85,749.00 584.05,747.00 C583.25,745.00 581.42,742.00 580.30,739.50 C579.17,737.00 577.95,734.05 577.30,732.00 C576.65,729.95 576.75,728.00 576.40,727.20 C576.05,726.40 575.55,726.40 575.20,727.20 Z" fill="#6b9bd0" stroke="#4a4a4a" stroke-width="0.65"/>
<line x1="575.80" y1="727.20" x2="575.80" y2="787.50" stroke="#333" stroke-width="0.7"/>
<line x1="574.20" y1="727.40" x2="577.40" y2="727.40" stroke="#333" stroke-width="0.8"/>
<line x1="574.20" y1="780.00" x2="577.40" y2="780.00" stroke="#333" stroke-width="0.8"/>
<rect x="573.70" y="746.70" width="4.00" height="13.00" fill="#fff" stroke="#333" stroke-width="0.65"/>
<line x1="573.70" y1="751.50" x2="577.70" y2="751.50" stroke="#666" stroke-width="0.7"/>
<line x1="617.20" y1="692.70" x2="617.20" y2="814.20" stroke="#4d4d4d" stroke-width="1.2"/>
<line x1="616.60" y1="814.20" x2="663.00" y2="814.20" stroke="#4d4d4d" stroke-width="1.2"/>
<line x1="614.40" y1="696.70" x2="617.20" y2="696.70" stroke="#4d4d4d" stroke-width="1.0"/>
<text x="614.00" y="700.00" font-size="9.4" fill="#231f20" stroke="#231f20" stroke-width="0.22" text-anchor="end">4</text>
<line x1="614.40" y1="727.80" x2="617.20" y2="727.80" stroke="#4d4d4d" stroke-width="1.0"/>
<text x="614.00" y="731.10" font-size="9.4" fill="#231f20" stroke="#231f20" stroke-width="0.22" text-anchor="end">2</text>
<line x1="614.40" y1="758.70" x2="617.20" y2="758.70" stroke="#4d4d4d" stroke-width="1.0"/>
<text x="614.00" y="762.00" font-size="9.4" fill="#231f20" stroke="#231f20" stroke-width="0.22" text-anchor="end">0</text>
<line x1="614.40" y1="789.70" x2="617.20" y2="789.70" stroke="#4d4d4d" stroke-width="1.0"/>
<text x="614.00" y="793.00" font-size="9.4" fill="#231f20" stroke="#231f20" stroke-width="0.22" text-anchor="end">−2</text>
<text x="601.70" y="752.50" font-size="9.7" fill="#231f20" stroke="#231f20" stroke-width="0.22" text-anchor="middle" transform="rotate(-90.00 601.70 752.50)">V3-8 feature score</text>
<path d="M628.20,701.4 L628.20,698.3 L649.50,698.3 L649.50,701.4" fill="none" stroke="#333" stroke-width="0.8"/>
<text x="638.85" y="698.60" font-size="8.6" fill="#231f20" stroke="#231f20" stroke-width="0.22" text-anchor="middle">***</text>
<path d="M627.90,703.20 C627.73,704.75 627.70,709.70 627.45,712.50 C627.20,715.30 626.98,717.25 626.40,720.00 C625.83,722.75 624.83,726.00 624.00,729.00 C623.17,732.00 622.12,735.25 621.45,738.00 C620.78,740.75 619.95,743.00 619.95,745.50 C619.95,748.00 620.78,750.50 621.45,753.00 C622.12,755.50 623.17,758.00 624.00,760.50 C624.83,763.00 625.78,766.13 626.40,768.00 C627.02,769.87 627.32,771.08 627.70,771.70 C628.08,772.32 628.32,772.32 628.70,771.70 C629.08,771.08 629.38,769.87 630.00,768.00 C630.62,766.13 631.58,763.00 632.40,760.50 C633.23,758.00 634.28,755.50 634.95,753.00 C635.62,750.50 636.45,748.00 636.45,745.50 C636.45,743.00 635.62,740.75 634.95,738.00 C634.28,735.25 633.23,732.00 632.40,729.00 C631.58,726.00 630.58,722.75 630.00,720.00 C629.42,717.25 629.20,715.30 628.95,712.50 C628.70,709.70 628.67,704.75 628.50,703.20 C628.33,701.65 628.08,701.65 627.90,703.20 Z" fill="#f48d88" stroke="#4a4a4a" stroke-width="0.65"/>
<line x1="628.20" y1="703.20" x2="628.20" y2="771.70" stroke="#333" stroke-width="0.7"/>
<line x1="626.60" y1="713.50" x2="629.80" y2="713.50" stroke="#333" stroke-width="0.8"/>
<line x1="626.60" y1="771.50" x2="629.80" y2="771.50" stroke="#333" stroke-width="0.8"/>
<rect x="626.20" y="738.30" width="4.10" height="17.20" fill="#fff" stroke="#333" stroke-width="0.65"/>
<line x1="626.20" y1="746.50" x2="630.30" y2="746.50" stroke="#666" stroke-width="0.7"/>
<path d="M649.10,726.70 C648.88,728.08 648.98,732.12 648.60,735.00 C648.22,737.88 647.60,741.00 646.80,744.00 C646.00,747.00 644.55,750.00 643.80,753.00 C643.05,756.00 642.47,759.25 642.30,762.00 C642.12,764.75 642.30,766.75 642.75,769.50 C643.20,772.25 644.12,775.50 645.00,778.50 C645.88,781.50 647.32,784.38 648.00,787.50 C648.68,790.62 648.78,795.58 649.10,797.20 C649.42,798.82 649.58,798.82 649.90,797.20 C650.22,795.58 650.32,790.62 651.00,787.50 C651.68,784.38 653.12,781.50 654.00,778.50 C654.88,775.50 655.80,772.25 656.25,769.50 C656.70,766.75 656.88,764.75 656.70,762.00 C656.53,759.25 655.95,756.00 655.20,753.00 C654.45,750.00 653.00,747.00 652.20,744.00 C651.40,741.00 650.78,737.88 650.40,735.00 C650.02,732.12 650.12,728.08 649.90,726.70 C649.68,725.32 649.32,725.32 649.10,726.70 Z" fill="#6b9bd0" stroke="#4a4a4a" stroke-width="0.65"/>
<line x1="649.50" y1="726.70" x2="649.50" y2="797.20" stroke="#333" stroke-width="0.7"/>
<line x1="647.90" y1="730.00" x2="651.10" y2="730.00" stroke="#333" stroke-width="0.8"/>
<line x1="647.90" y1="797.00" x2="651.10" y2="797.00" stroke="#333" stroke-width="0.8"/>
<rect x="647.50" y="755.50" width="4.00" height="17.70" fill="#fff" stroke="#333" stroke-width="0.65"/>
<line x1="647.50" y1="764.20" x2="651.50" y2="764.20" stroke="#666" stroke-width="0.7"/>
<rect x="525.10" y="825.90" width="8.20" height="8.10" fill="#1f5ba6"/>
<text x="533.90" y="833.00" font-size="9.6" fill="#231f20" stroke="#231f20" stroke-width="0.22">V1&amp;2 enriched</text>
<rect x="602.30" y="825.90" width="8.20" height="8.10" fill="#ec2a2e"/>
<text x="611.40" y="833.00" font-size="9.6" fill="#231f20" stroke="#231f20" stroke-width="0.22">V3-8 enriched</text>
</svg></body></html>
